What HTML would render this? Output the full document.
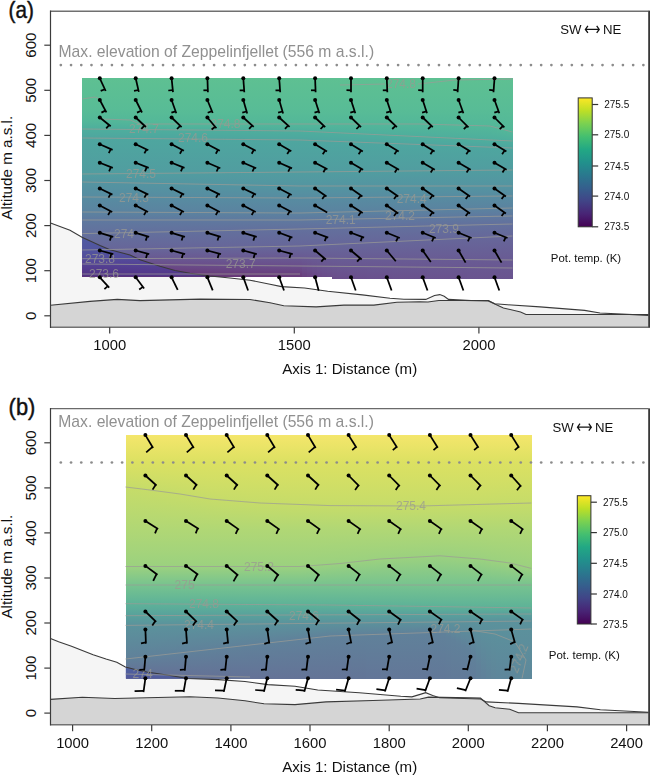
<!DOCTYPE html><html><head><meta charset="utf-8"><style>html,body{margin:0;padding:0;background:#fff;width:650px;height:775px;overflow:hidden;position:relative}</style></head><body><svg width="650" height="775" viewBox="0 0 650 775" style="position:absolute;left:0;top:0">
<defs><linearGradient id="ga" x1="0" y1="77.8" x2="0" y2="279.4" gradientUnits="userSpaceOnUse"><stop offset="0.0000" stop-color="#65b995"/><stop offset="0.1101" stop-color="#5fb497"/><stop offset="0.2490" stop-color="#58a99b"/><stop offset="0.2837" stop-color="#58a19c"/><stop offset="0.4722" stop-color="#599a9c"/><stop offset="0.5863" stop-color="#5d8a9b"/><stop offset="0.7004" stop-color="#627998"/><stop offset="0.7698" stop-color="#657096"/><stop offset="0.8938" stop-color="#695c8c"/><stop offset="0.9335" stop-color="#685184"/><stop offset="0.9633" stop-color="#664579"/><stop offset="1.0000" stop-color="#62386c"/></linearGradient><linearGradient id="gb" x1="0" y1="435.2" x2="0" y2="678.5" gradientUnits="userSpaceOnUse"><stop offset="0.0000" stop-color="#f4e66b"/><stop offset="0.1019" stop-color="#e6e363"/><stop offset="0.2129" stop-color="#d1df64"/><stop offset="0.2869" stop-color="#c6dc69"/><stop offset="0.4307" stop-color="#b0d775"/><stop offset="0.5376" stop-color="#9bd17f"/><stop offset="0.6157" stop-color="#77c38f"/><stop offset="0.6938" stop-color="#5db298"/><stop offset="0.7431" stop-color="#58a19c"/><stop offset="0.7801" stop-color="#5b929c"/><stop offset="0.8623" stop-color="#5e869b"/><stop offset="0.9815" stop-color="#657096"/><stop offset="1.0000" stop-color="#666b94"/></linearGradient><linearGradient id="gcb" x1="0" y1="1" x2="0" y2="0"><stop offset="0.00" stop-color="#440154"/><stop offset="0.10" stop-color="#482475"/><stop offset="0.20" stop-color="#414487"/><stop offset="0.30" stop-color="#355f8d"/><stop offset="0.40" stop-color="#2a788e"/><stop offset="0.50" stop-color="#21918c"/><stop offset="0.60" stop-color="#22a884"/><stop offset="0.70" stop-color="#44bf70"/><stop offset="0.80" stop-color="#7ad151"/><stop offset="0.90" stop-color="#bddf26"/><stop offset="1.00" stop-color="#fde725"/></linearGradient></defs>
<rect x="0" y="0" width="650" height="775" fill="#fff"/>
<polygon points="50.5,327.2 50.5,222.9 70.0,230.2 82.0,237.2 100.0,245.5 110.0,249.8 130.0,255.0 140.0,259.7 160.0,266.2 175.0,270.5 190.0,273.3 210.0,276.0 230.0,278.0 250.0,280.2 270.0,284.3 281.5,286.6 304.6,288.0 327.7,291.2 362.3,294.9 390.0,298.2 403.9,299.3 425.8,299.4 434.5,295.5 439.8,294.6 444.2,296.2 448.5,299.4 471.0,300.5 488.3,300.5 494.8,303.7 507.7,304.8 540.0,306.9 584.6,310.4 600.0,313.0 648.5,315.4 648.5,327.2" fill="#f5f5f5"/><polygon points="50.5,327.2 50.5,305.3 90.0,301.4 117.3,299.4 140.0,300.6 200.0,299.1 250.0,299.5 270.0,302.8 283.8,305.8 316.2,306.9 343.9,305.1 373.9,305.1 396.9,302.3 420.0,301.8 428.0,302.0 438.8,300.5 464.6,300.5 488.3,300.9 494.8,304.1 503.4,308.0 520.6,311.9 526.0,314.5 648.5,314.5 648.5,327.2" fill="#d5d5d5"/>
<polygon points="50.5,724.9 50.5,638.6 58.6,641.8 71.5,646.2 82.3,650.5 93.1,654.8 106.0,659.1 116.8,662.3 125.4,667.0 136.2,669.8 146.9,672.0 168.5,675.2 187.8,678.5 218.0,679.6 245.0,681.5 268.0,684.6 295.0,686.2 317.7,690.0 359.3,692.7 400.8,696.3 411.9,696.9 420.2,694.4 425.7,692.7 432.7,695.5 439.6,697.7 480.5,699.0 486.3,701.9 518.5,703.4 577.0,706.9 600.4,709.8 648.5,712.2 648.5,724.9" fill="#f5f5f5"/><polygon points="50.5,724.9 50.5,699.4 82.3,697.2 114.6,698.5 146.9,697.8 190.0,696.8 218.0,698.0 245.0,700.8 264.0,703.8 295.0,704.6 326.0,701.9 373.0,700.5 420.2,699.0 428.5,697.1 470.0,697.7 480.5,698.1 489.2,705.7 495.1,707.8 509.7,709.2 518.5,712.7 648.5,712.7 648.5,724.9" fill="#d5d5d5"/>
<defs><linearGradient id="fa0" x1="0" y1="77.8" x2="0" y2="276.5" gradientUnits="userSpaceOnUse"><stop offset="0.000" stop-color="#5ec092"/><stop offset="0.001" stop-color="#5ec092"/><stop offset="0.162" stop-color="#58bc96"/><stop offset="0.217" stop-color="#53b799"/><stop offset="0.258" stop-color="#4eae9d"/><stop offset="0.303" stop-color="#4ea69f"/><stop offset="0.484" stop-color="#519da0"/><stop offset="0.530" stop-color="#5494a1"/><stop offset="0.600" stop-color="#578ca1"/><stop offset="0.675" stop-color="#5b83a0"/><stop offset="0.716" stop-color="#5f799f"/><stop offset="0.784" stop-color="#63709d"/><stop offset="0.867" stop-color="#676599"/><stop offset="0.907" stop-color="#695a93"/><stop offset="0.932" stop-color="#6a4e8b"/><stop offset="0.960" stop-color="#694280"/><stop offset="0.998" stop-color="#663472"/><stop offset="1.000" stop-color="#663472"/></linearGradient><linearGradient id="fa1" x1="0" y1="77.8" x2="0" y2="276.5" gradientUnits="userSpaceOnUse"><stop offset="0.000" stop-color="#5ec092"/><stop offset="0.001" stop-color="#5ec092"/><stop offset="0.162" stop-color="#58bc96"/><stop offset="0.217" stop-color="#53b799"/><stop offset="0.258" stop-color="#4eae9d"/><stop offset="0.303" stop-color="#4ea69f"/><stop offset="0.484" stop-color="#519da0"/><stop offset="0.530" stop-color="#5494a1"/><stop offset="0.600" stop-color="#578ca1"/><stop offset="0.676" stop-color="#5b83a0"/><stop offset="0.716" stop-color="#5f799f"/><stop offset="0.783" stop-color="#63709d"/><stop offset="0.866" stop-color="#676599"/><stop offset="0.907" stop-color="#695a93"/><stop offset="0.933" stop-color="#6a4e8b"/><stop offset="0.961" stop-color="#694280"/><stop offset="0.998" stop-color="#663472"/><stop offset="1.000" stop-color="#663472"/></linearGradient><linearGradient id="fa2" x1="0" y1="77.8" x2="0" y2="276.5" gradientUnits="userSpaceOnUse"><stop offset="0.000" stop-color="#5ec092"/><stop offset="0.001" stop-color="#5ec092"/><stop offset="0.162" stop-color="#58bc96"/><stop offset="0.217" stop-color="#53b799"/><stop offset="0.258" stop-color="#4eae9d"/><stop offset="0.304" stop-color="#4ea69f"/><stop offset="0.484" stop-color="#519da0"/><stop offset="0.531" stop-color="#5494a1"/><stop offset="0.600" stop-color="#578ca1"/><stop offset="0.676" stop-color="#5b83a0"/><stop offset="0.716" stop-color="#5f799f"/><stop offset="0.783" stop-color="#63709d"/><stop offset="0.866" stop-color="#676599"/><stop offset="0.907" stop-color="#695a93"/><stop offset="0.933" stop-color="#6a4e8b"/><stop offset="0.961" stop-color="#694280"/><stop offset="0.999" stop-color="#663472"/><stop offset="1.000" stop-color="#663472"/></linearGradient><linearGradient id="fa3" x1="0" y1="77.8" x2="0" y2="276.5" gradientUnits="userSpaceOnUse"><stop offset="0.000" stop-color="#5ec092"/><stop offset="0.001" stop-color="#5ec092"/><stop offset="0.162" stop-color="#58bc96"/><stop offset="0.217" stop-color="#53b799"/><stop offset="0.258" stop-color="#4eae9d"/><stop offset="0.304" stop-color="#4ea69f"/><stop offset="0.483" stop-color="#519da0"/><stop offset="0.531" stop-color="#5494a1"/><stop offset="0.600" stop-color="#578ca1"/><stop offset="0.676" stop-color="#5b83a0"/><stop offset="0.716" stop-color="#5f799f"/><stop offset="0.782" stop-color="#63709d"/><stop offset="0.866" stop-color="#676599"/><stop offset="0.906" stop-color="#695a93"/><stop offset="0.933" stop-color="#6a4e8b"/><stop offset="0.962" stop-color="#694280"/><stop offset="1.000" stop-color="#663472"/><stop offset="1.000" stop-color="#663472"/></linearGradient><linearGradient id="fa4" x1="0" y1="77.8" x2="0" y2="276.5" gradientUnits="userSpaceOnUse"><stop offset="0.000" stop-color="#5ec092"/><stop offset="0.001" stop-color="#5ec092"/><stop offset="0.162" stop-color="#58bc96"/><stop offset="0.217" stop-color="#53b799"/><stop offset="0.259" stop-color="#4eae9d"/><stop offset="0.304" stop-color="#4ea69f"/><stop offset="0.483" stop-color="#519da0"/><stop offset="0.532" stop-color="#5494a1"/><stop offset="0.600" stop-color="#578ca1"/><stop offset="0.676" stop-color="#5b83a0"/><stop offset="0.716" stop-color="#5f799f"/><stop offset="0.782" stop-color="#63709d"/><stop offset="0.866" stop-color="#676599"/><stop offset="0.906" stop-color="#695a93"/><stop offset="0.934" stop-color="#6a4e8b"/><stop offset="0.962" stop-color="#694280"/><stop offset="1.000" stop-color="#663472"/></linearGradient><linearGradient id="fa5" x1="0" y1="77.8" x2="0" y2="276.5" gradientUnits="userSpaceOnUse"><stop offset="0.000" stop-color="#5ec092"/><stop offset="0.001" stop-color="#5ec092"/><stop offset="0.162" stop-color="#58bc96"/><stop offset="0.217" stop-color="#53b799"/><stop offset="0.259" stop-color="#4eae9d"/><stop offset="0.304" stop-color="#4ea69f"/><stop offset="0.483" stop-color="#519da0"/><stop offset="0.533" stop-color="#5494a1"/><stop offset="0.601" stop-color="#578ca1"/><stop offset="0.676" stop-color="#5b83a0"/><stop offset="0.716" stop-color="#5f799f"/><stop offset="0.781" stop-color="#63709d"/><stop offset="0.865" stop-color="#676599"/><stop offset="0.906" stop-color="#695a93"/><stop offset="0.934" stop-color="#6a4e8b"/><stop offset="0.963" stop-color="#694280"/><stop offset="1.000" stop-color="#663472"/></linearGradient><linearGradient id="fa6" x1="0" y1="77.8" x2="0" y2="276.5" gradientUnits="userSpaceOnUse"><stop offset="0.000" stop-color="#5ec092"/><stop offset="0.001" stop-color="#5ec092"/><stop offset="0.162" stop-color="#58bc96"/><stop offset="0.217" stop-color="#53b799"/><stop offset="0.259" stop-color="#4eae9d"/><stop offset="0.304" stop-color="#4ea69f"/><stop offset="0.483" stop-color="#519da0"/><stop offset="0.533" stop-color="#5494a1"/><stop offset="0.601" stop-color="#578ca1"/><stop offset="0.676" stop-color="#5b83a0"/><stop offset="0.716" stop-color="#5f799f"/><stop offset="0.781" stop-color="#63709d"/><stop offset="0.865" stop-color="#676599"/><stop offset="0.906" stop-color="#695a93"/><stop offset="0.934" stop-color="#6a4e8b"/><stop offset="0.963" stop-color="#694280"/><stop offset="1.000" stop-color="#663472"/></linearGradient><linearGradient id="fa7" x1="0" y1="77.8" x2="0" y2="276.5" gradientUnits="userSpaceOnUse"><stop offset="0.000" stop-color="#5ec092"/><stop offset="0.001" stop-color="#5ec092"/><stop offset="0.162" stop-color="#58bc96"/><stop offset="0.217" stop-color="#53b799"/><stop offset="0.259" stop-color="#4eae9d"/><stop offset="0.305" stop-color="#4ea69f"/><stop offset="0.482" stop-color="#519da0"/><stop offset="0.534" stop-color="#5494a1"/><stop offset="0.601" stop-color="#578ca1"/><stop offset="0.676" stop-color="#5b83a0"/><stop offset="0.716" stop-color="#5f799f"/><stop offset="0.780" stop-color="#63709d"/><stop offset="0.865" stop-color="#676599"/><stop offset="0.906" stop-color="#695a93"/><stop offset="0.935" stop-color="#6a4e8b"/><stop offset="0.964" stop-color="#694280"/><stop offset="1.000" stop-color="#663472"/></linearGradient><linearGradient id="fa8" x1="0" y1="77.8" x2="0" y2="276.5" gradientUnits="userSpaceOnUse"><stop offset="0.000" stop-color="#5ec092"/><stop offset="0.001" stop-color="#5ec092"/><stop offset="0.162" stop-color="#58bc96"/><stop offset="0.217" stop-color="#53b799"/><stop offset="0.260" stop-color="#4eae9d"/><stop offset="0.305" stop-color="#4ea69f"/><stop offset="0.482" stop-color="#519da0"/><stop offset="0.534" stop-color="#5494a1"/><stop offset="0.601" stop-color="#578ca1"/><stop offset="0.676" stop-color="#5b83a0"/><stop offset="0.716" stop-color="#5f799f"/><stop offset="0.780" stop-color="#63709d"/><stop offset="0.865" stop-color="#676599"/><stop offset="0.906" stop-color="#695a93"/><stop offset="0.935" stop-color="#6a4e8b"/><stop offset="0.964" stop-color="#694280"/><stop offset="1.000" stop-color="#663472"/></linearGradient><linearGradient id="fa9" x1="0" y1="77.8" x2="0" y2="276.5" gradientUnits="userSpaceOnUse"><stop offset="0.000" stop-color="#5ec092"/><stop offset="0.001" stop-color="#5ec092"/><stop offset="0.162" stop-color="#58bc96"/><stop offset="0.217" stop-color="#53b799"/><stop offset="0.260" stop-color="#4eae9d"/><stop offset="0.305" stop-color="#4ea69f"/><stop offset="0.482" stop-color="#519da0"/><stop offset="0.535" stop-color="#5494a1"/><stop offset="0.601" stop-color="#578ca1"/><stop offset="0.676" stop-color="#5b83a0"/><stop offset="0.716" stop-color="#5f799f"/><stop offset="0.779" stop-color="#63709d"/><stop offset="0.864" stop-color="#676599"/><stop offset="0.906" stop-color="#695a93"/><stop offset="0.935" stop-color="#6a4e8b"/><stop offset="0.965" stop-color="#694280"/><stop offset="1.000" stop-color="#663472"/></linearGradient><linearGradient id="fa10" x1="0" y1="77.8" x2="0" y2="276.5" gradientUnits="userSpaceOnUse"><stop offset="0.000" stop-color="#5ec092"/><stop offset="0.001" stop-color="#5ec092"/><stop offset="0.162" stop-color="#58bc96"/><stop offset="0.225" stop-color="#53b799"/><stop offset="0.260" stop-color="#4eae9d"/><stop offset="0.305" stop-color="#4ea69f"/><stop offset="0.482" stop-color="#519da0"/><stop offset="0.536" stop-color="#5494a1"/><stop offset="0.601" stop-color="#578ca1"/><stop offset="0.677" stop-color="#5b83a0"/><stop offset="0.716" stop-color="#5f799f"/><stop offset="0.778" stop-color="#63709d"/><stop offset="0.864" stop-color="#676599"/><stop offset="0.906" stop-color="#695a93"/><stop offset="0.936" stop-color="#6a4e8b"/><stop offset="0.965" stop-color="#694280"/><stop offset="1.000" stop-color="#673574"/></linearGradient><linearGradient id="fa11" x1="0" y1="77.8" x2="0" y2="276.5" gradientUnits="userSpaceOnUse"><stop offset="0.000" stop-color="#5ec092"/><stop offset="0.001" stop-color="#5ec092"/><stop offset="0.162" stop-color="#58bc96"/><stop offset="0.232" stop-color="#53b799"/><stop offset="0.260" stop-color="#4eae9d"/><stop offset="0.306" stop-color="#4ea69f"/><stop offset="0.481" stop-color="#519da0"/><stop offset="0.536" stop-color="#5494a1"/><stop offset="0.601" stop-color="#578ca1"/><stop offset="0.677" stop-color="#5b83a0"/><stop offset="0.716" stop-color="#5f799f"/><stop offset="0.778" stop-color="#63709d"/><stop offset="0.864" stop-color="#676599"/><stop offset="0.906" stop-color="#695a93"/><stop offset="0.936" stop-color="#6a4e8b"/><stop offset="0.966" stop-color="#694280"/><stop offset="1.000" stop-color="#673574"/></linearGradient><linearGradient id="fa12" x1="0" y1="77.8" x2="0" y2="276.5" gradientUnits="userSpaceOnUse"><stop offset="0.000" stop-color="#5ec092"/><stop offset="0.001" stop-color="#5ec092"/><stop offset="0.162" stop-color="#58bc96"/><stop offset="0.233" stop-color="#53b799"/><stop offset="0.261" stop-color="#4eae9d"/><stop offset="0.306" stop-color="#4ea69f"/><stop offset="0.481" stop-color="#519da0"/><stop offset="0.537" stop-color="#5494a1"/><stop offset="0.601" stop-color="#578ca1"/><stop offset="0.677" stop-color="#5b83a0"/><stop offset="0.716" stop-color="#5f799f"/><stop offset="0.777" stop-color="#63709d"/><stop offset="0.864" stop-color="#676599"/><stop offset="0.905" stop-color="#695a93"/><stop offset="0.936" stop-color="#6a4e8b"/><stop offset="0.966" stop-color="#694280"/><stop offset="1.000" stop-color="#673574"/></linearGradient><linearGradient id="fa13" x1="0" y1="77.8" x2="0" y2="276.5" gradientUnits="userSpaceOnUse"><stop offset="0.000" stop-color="#5ec092"/><stop offset="0.001" stop-color="#5ec092"/><stop offset="0.162" stop-color="#58bc96"/><stop offset="0.233" stop-color="#53b799"/><stop offset="0.261" stop-color="#4eae9d"/><stop offset="0.306" stop-color="#4ea69f"/><stop offset="0.481" stop-color="#519da0"/><stop offset="0.537" stop-color="#5494a1"/><stop offset="0.601" stop-color="#578ca1"/><stop offset="0.677" stop-color="#5b83a0"/><stop offset="0.716" stop-color="#5f799f"/><stop offset="0.777" stop-color="#63709d"/><stop offset="0.864" stop-color="#676599"/><stop offset="0.905" stop-color="#695a93"/><stop offset="0.937" stop-color="#6a4e8b"/><stop offset="0.967" stop-color="#694280"/><stop offset="1.000" stop-color="#673574"/></linearGradient><linearGradient id="fa14" x1="0" y1="77.8" x2="0" y2="276.5" gradientUnits="userSpaceOnUse"><stop offset="0.000" stop-color="#5ec092"/><stop offset="0.001" stop-color="#5ec092"/><stop offset="0.162" stop-color="#58bc96"/><stop offset="0.233" stop-color="#53b799"/><stop offset="0.261" stop-color="#4eae9d"/><stop offset="0.306" stop-color="#4ea69f"/><stop offset="0.481" stop-color="#519da0"/><stop offset="0.538" stop-color="#5494a1"/><stop offset="0.602" stop-color="#578ca1"/><stop offset="0.677" stop-color="#5b83a0"/><stop offset="0.716" stop-color="#5f799f"/><stop offset="0.776" stop-color="#63709d"/><stop offset="0.863" stop-color="#676599"/><stop offset="0.905" stop-color="#695a93"/><stop offset="0.937" stop-color="#6a4e8b"/><stop offset="0.967" stop-color="#694280"/><stop offset="1.000" stop-color="#673574"/></linearGradient><linearGradient id="fa15" x1="0" y1="77.8" x2="0" y2="276.5" gradientUnits="userSpaceOnUse"><stop offset="0.000" stop-color="#5ec092"/><stop offset="0.001" stop-color="#5ec092"/><stop offset="0.162" stop-color="#58bc96"/><stop offset="0.233" stop-color="#53b799"/><stop offset="0.261" stop-color="#4eae9d"/><stop offset="0.307" stop-color="#4ea69f"/><stop offset="0.481" stop-color="#519da0"/><stop offset="0.538" stop-color="#5494a1"/><stop offset="0.602" stop-color="#578ca1"/><stop offset="0.677" stop-color="#5b83a0"/><stop offset="0.716" stop-color="#5f799f"/><stop offset="0.776" stop-color="#63709d"/><stop offset="0.863" stop-color="#676599"/><stop offset="0.905" stop-color="#695a93"/><stop offset="0.937" stop-color="#6a4e8b"/><stop offset="0.968" stop-color="#694280"/><stop offset="1.000" stop-color="#673675"/></linearGradient><linearGradient id="fa16" x1="0" y1="77.8" x2="0" y2="276.5" gradientUnits="userSpaceOnUse"><stop offset="0.000" stop-color="#5ec092"/><stop offset="0.001" stop-color="#5ec092"/><stop offset="0.162" stop-color="#58bc96"/><stop offset="0.233" stop-color="#53b799"/><stop offset="0.261" stop-color="#4eae9d"/><stop offset="0.307" stop-color="#4ea69f"/><stop offset="0.480" stop-color="#519da0"/><stop offset="0.539" stop-color="#5494a1"/><stop offset="0.602" stop-color="#578ca1"/><stop offset="0.677" stop-color="#5b83a0"/><stop offset="0.716" stop-color="#5f799f"/><stop offset="0.775" stop-color="#63709d"/><stop offset="0.863" stop-color="#676599"/><stop offset="0.905" stop-color="#695a93"/><stop offset="0.938" stop-color="#6a4e8b"/><stop offset="0.968" stop-color="#694280"/><stop offset="1.000" stop-color="#673675"/></linearGradient><linearGradient id="fa17" x1="0" y1="77.8" x2="0" y2="276.5" gradientUnits="userSpaceOnUse"><stop offset="0.000" stop-color="#5ec092"/><stop offset="0.001" stop-color="#5ec092"/><stop offset="0.162" stop-color="#58bc96"/><stop offset="0.233" stop-color="#53b799"/><stop offset="0.262" stop-color="#4eae9d"/><stop offset="0.307" stop-color="#4ea69f"/><stop offset="0.480" stop-color="#519da0"/><stop offset="0.540" stop-color="#5494a1"/><stop offset="0.602" stop-color="#578ca1"/><stop offset="0.677" stop-color="#5b83a0"/><stop offset="0.716" stop-color="#5f799f"/><stop offset="0.775" stop-color="#63709d"/><stop offset="0.863" stop-color="#676599"/><stop offset="0.905" stop-color="#695a93"/><stop offset="0.938" stop-color="#6a4e8b"/><stop offset="0.969" stop-color="#694280"/><stop offset="1.000" stop-color="#673675"/></linearGradient><linearGradient id="fa18" x1="0" y1="77.8" x2="0" y2="276.5" gradientUnits="userSpaceOnUse"><stop offset="0.000" stop-color="#5ec092"/><stop offset="0.001" stop-color="#5ec092"/><stop offset="0.162" stop-color="#58bc96"/><stop offset="0.233" stop-color="#53b799"/><stop offset="0.262" stop-color="#4eae9d"/><stop offset="0.307" stop-color="#4ea69f"/><stop offset="0.480" stop-color="#519da0"/><stop offset="0.540" stop-color="#5494a1"/><stop offset="0.602" stop-color="#578ca1"/><stop offset="0.678" stop-color="#5b83a0"/><stop offset="0.716" stop-color="#5f799f"/><stop offset="0.774" stop-color="#63709d"/><stop offset="0.862" stop-color="#676599"/><stop offset="0.905" stop-color="#695a93"/><stop offset="0.938" stop-color="#6a4e8b"/><stop offset="0.969" stop-color="#694280"/><stop offset="1.000" stop-color="#673675"/></linearGradient><linearGradient id="fa19" x1="0" y1="77.8" x2="0" y2="276.5" gradientUnits="userSpaceOnUse"><stop offset="0.000" stop-color="#5ec092"/><stop offset="0.001" stop-color="#5ec092"/><stop offset="0.162" stop-color="#58bc96"/><stop offset="0.233" stop-color="#53b799"/><stop offset="0.262" stop-color="#4eae9d"/><stop offset="0.307" stop-color="#4ea69f"/><stop offset="0.480" stop-color="#519da0"/><stop offset="0.541" stop-color="#5494a1"/><stop offset="0.602" stop-color="#578ca1"/><stop offset="0.678" stop-color="#5b83a0"/><stop offset="0.716" stop-color="#5f799f"/><stop offset="0.774" stop-color="#63709d"/><stop offset="0.862" stop-color="#676599"/><stop offset="0.905" stop-color="#695a93"/><stop offset="0.939" stop-color="#6a4e8b"/><stop offset="0.970" stop-color="#694280"/><stop offset="1.000" stop-color="#673675"/></linearGradient><linearGradient id="fa20" x1="0" y1="77.8" x2="0" y2="276.5" gradientUnits="userSpaceOnUse"><stop offset="0.000" stop-color="#5ec092"/><stop offset="0.001" stop-color="#5ec092"/><stop offset="0.162" stop-color="#58bc96"/><stop offset="0.233" stop-color="#53b799"/><stop offset="0.262" stop-color="#4eae9d"/><stop offset="0.308" stop-color="#4ea69f"/><stop offset="0.479" stop-color="#519da0"/><stop offset="0.541" stop-color="#5494a1"/><stop offset="0.602" stop-color="#578ca1"/><stop offset="0.678" stop-color="#5b83a0"/><stop offset="0.716" stop-color="#5f799f"/><stop offset="0.773" stop-color="#63709d"/><stop offset="0.862" stop-color="#676599"/><stop offset="0.905" stop-color="#695a93"/><stop offset="0.939" stop-color="#6a4e8b"/><stop offset="0.970" stop-color="#694280"/><stop offset="1.000" stop-color="#673675"/></linearGradient><linearGradient id="fa21" x1="0" y1="77.8" x2="0" y2="276.5" gradientUnits="userSpaceOnUse"><stop offset="0.000" stop-color="#5ec092"/><stop offset="0.001" stop-color="#5ec092"/><stop offset="0.162" stop-color="#58bc96"/><stop offset="0.233" stop-color="#53b799"/><stop offset="0.263" stop-color="#4eae9d"/><stop offset="0.308" stop-color="#4ea69f"/><stop offset="0.479" stop-color="#519da0"/><stop offset="0.542" stop-color="#5494a1"/><stop offset="0.602" stop-color="#578ca1"/><stop offset="0.678" stop-color="#5b83a0"/><stop offset="0.716" stop-color="#5f799f"/><stop offset="0.773" stop-color="#63709d"/><stop offset="0.862" stop-color="#676599"/><stop offset="0.904" stop-color="#695a93"/><stop offset="0.940" stop-color="#6a4e8b"/><stop offset="0.971" stop-color="#694280"/><stop offset="1.000" stop-color="#673776"/></linearGradient><linearGradient id="fa22" x1="0" y1="77.8" x2="0" y2="276.5" gradientUnits="userSpaceOnUse"><stop offset="0.000" stop-color="#5ec092"/><stop offset="0.001" stop-color="#5ec092"/><stop offset="0.162" stop-color="#58bc96"/><stop offset="0.233" stop-color="#53b799"/><stop offset="0.263" stop-color="#4eae9d"/><stop offset="0.308" stop-color="#4ea69f"/><stop offset="0.479" stop-color="#519da0"/><stop offset="0.542" stop-color="#5494a1"/><stop offset="0.603" stop-color="#578ca1"/><stop offset="0.678" stop-color="#5b83a0"/><stop offset="0.716" stop-color="#5f799f"/><stop offset="0.772" stop-color="#63709d"/><stop offset="0.861" stop-color="#676599"/><stop offset="0.904" stop-color="#695a93"/><stop offset="0.940" stop-color="#6a4e8b"/><stop offset="0.971" stop-color="#694280"/><stop offset="1.000" stop-color="#673776"/></linearGradient><linearGradient id="fa23" x1="0" y1="77.8" x2="0" y2="276.5" gradientUnits="userSpaceOnUse"><stop offset="0.000" stop-color="#5ec092"/><stop offset="0.001" stop-color="#5ec092"/><stop offset="0.162" stop-color="#58bc96"/><stop offset="0.233" stop-color="#53b799"/><stop offset="0.263" stop-color="#4eae9d"/><stop offset="0.308" stop-color="#4ea69f"/><stop offset="0.479" stop-color="#519da0"/><stop offset="0.543" stop-color="#5494a1"/><stop offset="0.603" stop-color="#578ca1"/><stop offset="0.678" stop-color="#5b83a0"/><stop offset="0.716" stop-color="#5f799f"/><stop offset="0.772" stop-color="#63709d"/><stop offset="0.861" stop-color="#676599"/><stop offset="0.904" stop-color="#695a93"/><stop offset="0.940" stop-color="#6a4e8b"/><stop offset="0.972" stop-color="#694280"/><stop offset="1.000" stop-color="#673776"/></linearGradient><linearGradient id="fa24" x1="0" y1="77.8" x2="0" y2="276.5" gradientUnits="userSpaceOnUse"><stop offset="0.000" stop-color="#5ec092"/><stop offset="0.001" stop-color="#5ec092"/><stop offset="0.162" stop-color="#58bc96"/><stop offset="0.233" stop-color="#53b799"/><stop offset="0.263" stop-color="#4eae9d"/><stop offset="0.309" stop-color="#4ea69f"/><stop offset="0.478" stop-color="#519da0"/><stop offset="0.544" stop-color="#5494a1"/><stop offset="0.603" stop-color="#578ca1"/><stop offset="0.678" stop-color="#5b83a0"/><stop offset="0.716" stop-color="#5f799f"/><stop offset="0.771" stop-color="#63709d"/><stop offset="0.861" stop-color="#676599"/><stop offset="0.904" stop-color="#695a93"/><stop offset="0.941" stop-color="#6a4e8b"/><stop offset="0.972" stop-color="#694280"/><stop offset="1.000" stop-color="#673776"/></linearGradient><linearGradient id="fa25" x1="0" y1="77.8" x2="0" y2="276.5" gradientUnits="userSpaceOnUse"><stop offset="0.000" stop-color="#5ec092"/><stop offset="0.001" stop-color="#5ec092"/><stop offset="0.162" stop-color="#58bc96"/><stop offset="0.233" stop-color="#53b799"/><stop offset="0.264" stop-color="#4eae9d"/><stop offset="0.309" stop-color="#4ea69f"/><stop offset="0.478" stop-color="#519da0"/><stop offset="0.544" stop-color="#5494a1"/><stop offset="0.603" stop-color="#578ca1"/><stop offset="0.678" stop-color="#5b83a0"/><stop offset="0.716" stop-color="#5f799f"/><stop offset="0.771" stop-color="#63709d"/><stop offset="0.861" stop-color="#676599"/><stop offset="0.904" stop-color="#695a93"/><stop offset="0.941" stop-color="#6a4e8b"/><stop offset="0.973" stop-color="#694280"/><stop offset="1.000" stop-color="#673776"/></linearGradient><linearGradient id="fa26" x1="0" y1="77.8" x2="0" y2="276.5" gradientUnits="userSpaceOnUse"><stop offset="0.000" stop-color="#5ec092"/><stop offset="0.001" stop-color="#5ec092"/><stop offset="0.162" stop-color="#58bc96"/><stop offset="0.233" stop-color="#53b799"/><stop offset="0.264" stop-color="#4eae9d"/><stop offset="0.309" stop-color="#4ea69f"/><stop offset="0.478" stop-color="#519da0"/><stop offset="0.545" stop-color="#5494a1"/><stop offset="0.603" stop-color="#578ca1"/><stop offset="0.678" stop-color="#5b83a0"/><stop offset="0.716" stop-color="#5f799f"/><stop offset="0.770" stop-color="#63709d"/><stop offset="0.861" stop-color="#676599"/><stop offset="0.904" stop-color="#695a93"/><stop offset="0.941" stop-color="#6a4e8b"/><stop offset="0.974" stop-color="#694280"/><stop offset="1.000" stop-color="#673776"/></linearGradient><linearGradient id="fa27" x1="0" y1="77.8" x2="0" y2="276.5" gradientUnits="userSpaceOnUse"><stop offset="0.000" stop-color="#5ec092"/><stop offset="0.001" stop-color="#5ec092"/><stop offset="0.162" stop-color="#58bc96"/><stop offset="0.233" stop-color="#53b799"/><stop offset="0.264" stop-color="#4eae9d"/><stop offset="0.309" stop-color="#4ea69f"/><stop offset="0.478" stop-color="#519da0"/><stop offset="0.545" stop-color="#5494a1"/><stop offset="0.603" stop-color="#578ca1"/><stop offset="0.679" stop-color="#5b83a0"/><stop offset="0.716" stop-color="#5f799f"/><stop offset="0.769" stop-color="#63709d"/><stop offset="0.860" stop-color="#676599"/><stop offset="0.904" stop-color="#695a93"/><stop offset="0.942" stop-color="#6a4e8b"/><stop offset="0.974" stop-color="#694280"/><stop offset="1.000" stop-color="#683877"/></linearGradient><linearGradient id="fa28" x1="0" y1="77.8" x2="0" y2="276.5" gradientUnits="userSpaceOnUse"><stop offset="0.000" stop-color="#5ec092"/><stop offset="0.001" stop-color="#5ec092"/><stop offset="0.162" stop-color="#58bc96"/><stop offset="0.233" stop-color="#53b799"/><stop offset="0.264" stop-color="#4eae9d"/><stop offset="0.310" stop-color="#4ea69f"/><stop offset="0.478" stop-color="#519da0"/><stop offset="0.546" stop-color="#5494a1"/><stop offset="0.603" stop-color="#578ca1"/><stop offset="0.679" stop-color="#5b83a0"/><stop offset="0.716" stop-color="#5f799f"/><stop offset="0.769" stop-color="#63709d"/><stop offset="0.860" stop-color="#676599"/><stop offset="0.904" stop-color="#695a93"/><stop offset="0.942" stop-color="#6a4e8b"/><stop offset="0.975" stop-color="#694280"/><stop offset="1.000" stop-color="#683877"/></linearGradient><linearGradient id="fa29" x1="0" y1="77.8" x2="0" y2="276.5" gradientUnits="userSpaceOnUse"><stop offset="0.000" stop-color="#5ec092"/><stop offset="0.001" stop-color="#5ec092"/><stop offset="0.162" stop-color="#58bc96"/><stop offset="0.233" stop-color="#53b799"/><stop offset="0.264" stop-color="#4eae9d"/><stop offset="0.310" stop-color="#4ea69f"/><stop offset="0.477" stop-color="#519da0"/><stop offset="0.547" stop-color="#5494a1"/><stop offset="0.603" stop-color="#578ca1"/><stop offset="0.679" stop-color="#5b83a0"/><stop offset="0.716" stop-color="#5f799f"/><stop offset="0.768" stop-color="#63709d"/><stop offset="0.860" stop-color="#676599"/><stop offset="0.903" stop-color="#695a93"/><stop offset="0.942" stop-color="#6a4e8b"/><stop offset="0.975" stop-color="#694280"/><stop offset="1.000" stop-color="#683877"/></linearGradient><linearGradient id="fa30" x1="0" y1="77.8" x2="0" y2="276.5" gradientUnits="userSpaceOnUse"><stop offset="0.000" stop-color="#5ec092"/><stop offset="0.001" stop-color="#5ec092"/><stop offset="0.162" stop-color="#58bc96"/><stop offset="0.233" stop-color="#53b799"/><stop offset="0.265" stop-color="#4eae9d"/><stop offset="0.310" stop-color="#4ea69f"/><stop offset="0.477" stop-color="#519da0"/><stop offset="0.547" stop-color="#5494a1"/><stop offset="0.603" stop-color="#578ca1"/><stop offset="0.679" stop-color="#5b83a0"/><stop offset="0.716" stop-color="#5f799f"/><stop offset="0.768" stop-color="#63709d"/><stop offset="0.860" stop-color="#676599"/><stop offset="0.903" stop-color="#695a93"/><stop offset="0.943" stop-color="#6a4e8b"/><stop offset="0.976" stop-color="#694280"/><stop offset="1.000" stop-color="#683877"/></linearGradient><linearGradient id="fa31" x1="0" y1="77.8" x2="0" y2="276.5" gradientUnits="userSpaceOnUse"><stop offset="0.000" stop-color="#5ec092"/><stop offset="0.001" stop-color="#5ec092"/><stop offset="0.162" stop-color="#58bc96"/><stop offset="0.233" stop-color="#53b799"/><stop offset="0.265" stop-color="#4eae9d"/><stop offset="0.310" stop-color="#4ea69f"/><stop offset="0.477" stop-color="#519da0"/><stop offset="0.548" stop-color="#5494a1"/><stop offset="0.604" stop-color="#578ca1"/><stop offset="0.679" stop-color="#5b83a0"/><stop offset="0.716" stop-color="#5f799f"/><stop offset="0.767" stop-color="#63709d"/><stop offset="0.859" stop-color="#676599"/><stop offset="0.903" stop-color="#695a93"/><stop offset="0.943" stop-color="#6a4e8b"/><stop offset="0.976" stop-color="#694280"/><stop offset="1.000" stop-color="#683877"/></linearGradient><linearGradient id="fa32" x1="0" y1="77.8" x2="0" y2="276.5" gradientUnits="userSpaceOnUse"><stop offset="0.000" stop-color="#5ec092"/><stop offset="0.001" stop-color="#5ec092"/><stop offset="0.162" stop-color="#58bc96"/><stop offset="0.233" stop-color="#53b799"/><stop offset="0.265" stop-color="#4eae9d"/><stop offset="0.310" stop-color="#4ea69f"/><stop offset="0.477" stop-color="#519da0"/><stop offset="0.548" stop-color="#5494a1"/><stop offset="0.604" stop-color="#578ca1"/><stop offset="0.679" stop-color="#5b83a0"/><stop offset="0.716" stop-color="#5f799f"/><stop offset="0.767" stop-color="#63709d"/><stop offset="0.859" stop-color="#676599"/><stop offset="0.903" stop-color="#695a93"/><stop offset="0.943" stop-color="#6a4e8b"/><stop offset="0.977" stop-color="#694280"/><stop offset="1.000" stop-color="#683877"/></linearGradient><linearGradient id="fa33" x1="0" y1="77.8" x2="0" y2="276.5" gradientUnits="userSpaceOnUse"><stop offset="0.000" stop-color="#5ec092"/><stop offset="0.001" stop-color="#5ec092"/><stop offset="0.162" stop-color="#58bc96"/><stop offset="0.233" stop-color="#53b799"/><stop offset="0.265" stop-color="#4eae9d"/><stop offset="0.311" stop-color="#4ea69f"/><stop offset="0.476" stop-color="#519da0"/><stop offset="0.549" stop-color="#5494a1"/><stop offset="0.604" stop-color="#578ca1"/><stop offset="0.679" stop-color="#5b83a0"/><stop offset="0.716" stop-color="#5f799f"/><stop offset="0.766" stop-color="#63709d"/><stop offset="0.859" stop-color="#676599"/><stop offset="0.903" stop-color="#695a93"/><stop offset="0.944" stop-color="#6a4e8b"/><stop offset="0.977" stop-color="#694280"/><stop offset="1.000" stop-color="#683a78"/></linearGradient><linearGradient id="fa34" x1="0" y1="77.8" x2="0" y2="276.5" gradientUnits="userSpaceOnUse"><stop offset="0.000" stop-color="#5ec092"/><stop offset="0.001" stop-color="#5ec092"/><stop offset="0.162" stop-color="#58bc96"/><stop offset="0.233" stop-color="#53b799"/><stop offset="0.266" stop-color="#4eae9d"/><stop offset="0.311" stop-color="#4ea69f"/><stop offset="0.476" stop-color="#519da0"/><stop offset="0.549" stop-color="#5494a1"/><stop offset="0.604" stop-color="#578ca1"/><stop offset="0.679" stop-color="#5b83a0"/><stop offset="0.716" stop-color="#5f799f"/><stop offset="0.766" stop-color="#63709d"/><stop offset="0.859" stop-color="#676599"/><stop offset="0.903" stop-color="#695a93"/><stop offset="0.944" stop-color="#6a4e8b"/><stop offset="0.978" stop-color="#694280"/><stop offset="1.000" stop-color="#683a78"/></linearGradient><linearGradient id="fa35" x1="0" y1="77.8" x2="0" y2="276.5" gradientUnits="userSpaceOnUse"><stop offset="0.000" stop-color="#5ec092"/><stop offset="0.001" stop-color="#5ec092"/><stop offset="0.162" stop-color="#58bc96"/><stop offset="0.233" stop-color="#53b799"/><stop offset="0.266" stop-color="#4eae9d"/><stop offset="0.311" stop-color="#4ea69f"/><stop offset="0.476" stop-color="#519da0"/><stop offset="0.550" stop-color="#5494a1"/><stop offset="0.604" stop-color="#578ca1"/><stop offset="0.679" stop-color="#5b83a0"/><stop offset="0.716" stop-color="#5f799f"/><stop offset="0.765" stop-color="#63709d"/><stop offset="0.858" stop-color="#676599"/><stop offset="0.903" stop-color="#695a93"/><stop offset="0.944" stop-color="#6a4e8b"/><stop offset="0.978" stop-color="#694280"/><stop offset="1.000" stop-color="#683a78"/></linearGradient><linearGradient id="fa36" x1="0" y1="77.8" x2="0" y2="276.5" gradientUnits="userSpaceOnUse"><stop offset="0.000" stop-color="#5ec092"/><stop offset="0.001" stop-color="#5ec092"/><stop offset="0.162" stop-color="#58bc96"/><stop offset="0.233" stop-color="#53b799"/><stop offset="0.266" stop-color="#4eae9d"/><stop offset="0.311" stop-color="#4ea69f"/><stop offset="0.476" stop-color="#519da0"/><stop offset="0.551" stop-color="#5494a1"/><stop offset="0.604" stop-color="#578ca1"/><stop offset="0.680" stop-color="#5b83a0"/><stop offset="0.716" stop-color="#5f799f"/><stop offset="0.765" stop-color="#63709d"/><stop offset="0.858" stop-color="#676599"/><stop offset="0.903" stop-color="#695a93"/><stop offset="0.945" stop-color="#6a4e8b"/><stop offset="0.979" stop-color="#694280"/><stop offset="1.000" stop-color="#683a78"/></linearGradient><linearGradient id="fa37" x1="0" y1="77.8" x2="0" y2="276.5" gradientUnits="userSpaceOnUse"><stop offset="0.000" stop-color="#5ec092"/><stop offset="0.001" stop-color="#5ec092"/><stop offset="0.162" stop-color="#58bc96"/><stop offset="0.233" stop-color="#53b799"/><stop offset="0.266" stop-color="#4eae9d"/><stop offset="0.312" stop-color="#4ea69f"/><stop offset="0.475" stop-color="#519da0"/><stop offset="0.551" stop-color="#5494a1"/><stop offset="0.604" stop-color="#578ca1"/><stop offset="0.680" stop-color="#5b83a0"/><stop offset="0.716" stop-color="#5f799f"/><stop offset="0.764" stop-color="#63709d"/><stop offset="0.858" stop-color="#676599"/><stop offset="0.903" stop-color="#695a93"/><stop offset="0.945" stop-color="#6a4e8b"/><stop offset="0.979" stop-color="#694280"/><stop offset="1.000" stop-color="#683a78"/></linearGradient><linearGradient id="fa38" x1="0" y1="77.8" x2="0" y2="276.5" gradientUnits="userSpaceOnUse"><stop offset="0.000" stop-color="#5ec092"/><stop offset="0.001" stop-color="#5ec092"/><stop offset="0.162" stop-color="#58bc96"/><stop offset="0.233" stop-color="#53b799"/><stop offset="0.267" stop-color="#4eae9d"/><stop offset="0.312" stop-color="#4ea69f"/><stop offset="0.475" stop-color="#519da0"/><stop offset="0.552" stop-color="#5494a1"/><stop offset="0.604" stop-color="#578ca1"/><stop offset="0.680" stop-color="#5b83a0"/><stop offset="0.716" stop-color="#5f799f"/><stop offset="0.764" stop-color="#63709d"/><stop offset="0.858" stop-color="#676599"/><stop offset="0.902" stop-color="#695a93"/><stop offset="0.945" stop-color="#6a4e8b"/><stop offset="0.980" stop-color="#694280"/><stop offset="1.000" stop-color="#683a78"/></linearGradient><linearGradient id="fa39" x1="0" y1="77.8" x2="0" y2="276.5" gradientUnits="userSpaceOnUse"><stop offset="0.000" stop-color="#5ec092"/><stop offset="0.001" stop-color="#5ec092"/><stop offset="0.162" stop-color="#58bc96"/><stop offset="0.233" stop-color="#53b799"/><stop offset="0.267" stop-color="#4eae9d"/><stop offset="0.312" stop-color="#4ea69f"/><stop offset="0.475" stop-color="#519da0"/><stop offset="0.552" stop-color="#5494a1"/><stop offset="0.604" stop-color="#578ca1"/><stop offset="0.680" stop-color="#5b83a0"/><stop offset="0.716" stop-color="#5f799f"/><stop offset="0.763" stop-color="#63709d"/><stop offset="0.858" stop-color="#676599"/><stop offset="0.902" stop-color="#695a93"/><stop offset="0.946" stop-color="#6a4e8b"/><stop offset="0.980" stop-color="#694280"/><stop offset="1.000" stop-color="#683b79"/></linearGradient><linearGradient id="fa40" x1="0" y1="77.8" x2="0" y2="276.5" gradientUnits="userSpaceOnUse"><stop offset="0.000" stop-color="#5ec092"/><stop offset="0.001" stop-color="#5ec092"/><stop offset="0.162" stop-color="#58bc96"/><stop offset="0.233" stop-color="#53b799"/><stop offset="0.267" stop-color="#4eae9d"/><stop offset="0.312" stop-color="#4ea69f"/><stop offset="0.475" stop-color="#519da0"/><stop offset="0.553" stop-color="#5494a1"/><stop offset="0.605" stop-color="#578ca1"/><stop offset="0.680" stop-color="#5b83a0"/><stop offset="0.716" stop-color="#5f799f"/><stop offset="0.763" stop-color="#63709d"/><stop offset="0.857" stop-color="#676599"/><stop offset="0.902" stop-color="#695a93"/><stop offset="0.946" stop-color="#6a4e8b"/><stop offset="0.981" stop-color="#694280"/><stop offset="1.000" stop-color="#683b79"/></linearGradient><linearGradient id="fa41" x1="0" y1="77.8" x2="0" y2="276.5" gradientUnits="userSpaceOnUse"><stop offset="0.000" stop-color="#5ec092"/><stop offset="0.001" stop-color="#5ec092"/><stop offset="0.162" stop-color="#58bc96"/><stop offset="0.233" stop-color="#53b799"/><stop offset="0.267" stop-color="#4eae9d"/><stop offset="0.313" stop-color="#4ea69f"/><stop offset="0.475" stop-color="#519da0"/><stop offset="0.553" stop-color="#5494a1"/><stop offset="0.605" stop-color="#578ca1"/><stop offset="0.680" stop-color="#5b83a0"/><stop offset="0.716" stop-color="#5f799f"/><stop offset="0.762" stop-color="#63709d"/><stop offset="0.857" stop-color="#676599"/><stop offset="0.902" stop-color="#695a93"/><stop offset="0.946" stop-color="#6a4e8b"/><stop offset="0.981" stop-color="#694280"/><stop offset="1.000" stop-color="#683b79"/></linearGradient><linearGradient id="fa42" x1="0" y1="77.8" x2="0" y2="276.5" gradientUnits="userSpaceOnUse"><stop offset="0.000" stop-color="#5ec092"/><stop offset="0.001" stop-color="#5ec092"/><stop offset="0.162" stop-color="#58bc96"/><stop offset="0.233" stop-color="#53b799"/><stop offset="0.268" stop-color="#4eae9d"/><stop offset="0.313" stop-color="#4ea69f"/><stop offset="0.474" stop-color="#519da0"/><stop offset="0.554" stop-color="#5494a1"/><stop offset="0.605" stop-color="#578ca1"/><stop offset="0.680" stop-color="#5b83a0"/><stop offset="0.716" stop-color="#5f799f"/><stop offset="0.761" stop-color="#63709d"/><stop offset="0.857" stop-color="#676599"/><stop offset="0.902" stop-color="#695a93"/><stop offset="0.947" stop-color="#6a4e8b"/><stop offset="0.982" stop-color="#694280"/><stop offset="1.000" stop-color="#683b79"/></linearGradient><linearGradient id="fa43" x1="0" y1="77.8" x2="0" y2="276.5" gradientUnits="userSpaceOnUse"><stop offset="0.000" stop-color="#5ec092"/><stop offset="0.001" stop-color="#5ec092"/><stop offset="0.162" stop-color="#58bc96"/><stop offset="0.233" stop-color="#53b799"/><stop offset="0.268" stop-color="#4eae9d"/><stop offset="0.313" stop-color="#4ea69f"/><stop offset="0.474" stop-color="#519da0"/><stop offset="0.555" stop-color="#5494a1"/><stop offset="0.605" stop-color="#578ca1"/><stop offset="0.680" stop-color="#5b83a0"/><stop offset="0.716" stop-color="#5f799f"/><stop offset="0.761" stop-color="#63709d"/><stop offset="0.857" stop-color="#676599"/><stop offset="0.902" stop-color="#695a93"/><stop offset="0.947" stop-color="#6a4e8b"/><stop offset="0.982" stop-color="#694280"/><stop offset="1.000" stop-color="#683b79"/></linearGradient><linearGradient id="fa44" x1="0" y1="77.8" x2="0" y2="276.5" gradientUnits="userSpaceOnUse"><stop offset="0.000" stop-color="#5ec092"/><stop offset="0.001" stop-color="#5ec092"/><stop offset="0.162" stop-color="#58bc96"/><stop offset="0.233" stop-color="#53b799"/><stop offset="0.269" stop-color="#4eae9d"/><stop offset="0.314" stop-color="#4ea69f"/><stop offset="0.474" stop-color="#519da0"/><stop offset="0.554" stop-color="#5494a1"/><stop offset="0.605" stop-color="#578ca1"/><stop offset="0.680" stop-color="#5b83a0"/><stop offset="0.715" stop-color="#5f799f"/><stop offset="0.760" stop-color="#63709d"/><stop offset="0.856" stop-color="#676599"/><stop offset="0.905" stop-color="#695a93"/><stop offset="0.956" stop-color="#6a4e8b"/><stop offset="0.999" stop-color="#694280"/><stop offset="1.000" stop-color="#69417f"/></linearGradient><linearGradient id="fa45" x1="0" y1="77.8" x2="0" y2="276.5" gradientUnits="userSpaceOnUse"><stop offset="0.000" stop-color="#5ec092"/><stop offset="0.001" stop-color="#5ec092"/><stop offset="0.162" stop-color="#58bc96"/><stop offset="0.233" stop-color="#53b799"/><stop offset="0.270" stop-color="#4eae9d"/><stop offset="0.315" stop-color="#4ea69f"/><stop offset="0.474" stop-color="#519da0"/><stop offset="0.554" stop-color="#5494a1"/><stop offset="0.604" stop-color="#578ca1"/><stop offset="0.679" stop-color="#5b83a0"/><stop offset="0.715" stop-color="#5f799f"/><stop offset="0.760" stop-color="#63709d"/><stop offset="0.855" stop-color="#676599"/><stop offset="0.908" stop-color="#695a93"/><stop offset="0.964" stop-color="#6a4e8b"/><stop offset="1.000" stop-color="#6a4583"/></linearGradient><linearGradient id="fa46" x1="0" y1="77.8" x2="0" y2="276.5" gradientUnits="userSpaceOnUse"><stop offset="0.000" stop-color="#5ec092"/><stop offset="0.001" stop-color="#5ec092"/><stop offset="0.162" stop-color="#58bc96"/><stop offset="0.233" stop-color="#53b799"/><stop offset="0.271" stop-color="#4eae9d"/><stop offset="0.316" stop-color="#4ea69f"/><stop offset="0.473" stop-color="#519da0"/><stop offset="0.554" stop-color="#5494a1"/><stop offset="0.604" stop-color="#578ca1"/><stop offset="0.679" stop-color="#5b83a0"/><stop offset="0.714" stop-color="#5f799f"/><stop offset="0.759" stop-color="#63709d"/><stop offset="0.854" stop-color="#676599"/><stop offset="0.911" stop-color="#695a93"/><stop offset="0.973" stop-color="#6a4e8b"/><stop offset="1.000" stop-color="#6a4886"/></linearGradient><linearGradient id="fa47" x1="0" y1="77.8" x2="0" y2="276.5" gradientUnits="userSpaceOnUse"><stop offset="0.000" stop-color="#5ec092"/><stop offset="0.001" stop-color="#5ec092"/><stop offset="0.162" stop-color="#58bc96"/><stop offset="0.233" stop-color="#53b799"/><stop offset="0.272" stop-color="#4eae9d"/><stop offset="0.317" stop-color="#4ea69f"/><stop offset="0.473" stop-color="#519da0"/><stop offset="0.554" stop-color="#5494a1"/><stop offset="0.604" stop-color="#578ca1"/><stop offset="0.678" stop-color="#5b83a0"/><stop offset="0.714" stop-color="#5f799f"/><stop offset="0.759" stop-color="#63709d"/><stop offset="0.853" stop-color="#676599"/><stop offset="0.914" stop-color="#695a93"/><stop offset="0.982" stop-color="#6a4e8b"/><stop offset="1.000" stop-color="#6a4a88"/></linearGradient><linearGradient id="fa48" x1="0" y1="77.8" x2="0" y2="276.5" gradientUnits="userSpaceOnUse"><stop offset="0.000" stop-color="#5ec092"/><stop offset="0.001" stop-color="#5ec092"/><stop offset="0.162" stop-color="#58bc96"/><stop offset="0.233" stop-color="#53b799"/><stop offset="0.274" stop-color="#4eae9d"/><stop offset="0.318" stop-color="#4ea69f"/><stop offset="0.473" stop-color="#519da0"/><stop offset="0.553" stop-color="#5494a1"/><stop offset="0.604" stop-color="#578ca1"/><stop offset="0.677" stop-color="#5b83a0"/><stop offset="0.713" stop-color="#5f799f"/><stop offset="0.758" stop-color="#63709d"/><stop offset="0.852" stop-color="#676599"/><stop offset="0.917" stop-color="#695a93"/><stop offset="0.991" stop-color="#6a4e8b"/><stop offset="1.000" stop-color="#6a4c89"/></linearGradient><linearGradient id="fa49" x1="0" y1="77.8" x2="0" y2="276.5" gradientUnits="userSpaceOnUse"><stop offset="0.000" stop-color="#5ec092"/><stop offset="0.001" stop-color="#5ec092"/><stop offset="0.162" stop-color="#58bc96"/><stop offset="0.233" stop-color="#53b799"/><stop offset="0.275" stop-color="#4eae9d"/><stop offset="0.319" stop-color="#4ea69f"/><stop offset="0.473" stop-color="#519da0"/><stop offset="0.553" stop-color="#5494a1"/><stop offset="0.604" stop-color="#578ca1"/><stop offset="0.677" stop-color="#5b83a0"/><stop offset="0.713" stop-color="#5f799f"/><stop offset="0.757" stop-color="#63709d"/><stop offset="0.851" stop-color="#676599"/><stop offset="0.921" stop-color="#695a93"/><stop offset="1.000" stop-color="#6a4e8b"/><stop offset="1.000" stop-color="#6a4e8b"/></linearGradient><linearGradient id="fa50" x1="0" y1="77.8" x2="0" y2="279.4" gradientUnits="userSpaceOnUse"><stop offset="0.000" stop-color="#5ec092"/><stop offset="0.001" stop-color="#5ec092"/><stop offset="0.160" stop-color="#58bc96"/><stop offset="0.229" stop-color="#53b799"/><stop offset="0.272" stop-color="#4eae9d"/><stop offset="0.315" stop-color="#4ea69f"/><stop offset="0.466" stop-color="#519da0"/><stop offset="0.545" stop-color="#5494a1"/><stop offset="0.595" stop-color="#578ca1"/><stop offset="0.667" stop-color="#5b83a0"/><stop offset="0.702" stop-color="#5f799f"/><stop offset="0.746" stop-color="#63709d"/><stop offset="0.838" stop-color="#676599"/><stop offset="0.910" stop-color="#695a93"/><stop offset="0.994" stop-color="#6a4e8b"/><stop offset="1.000" stop-color="#6a4d8a"/></linearGradient><linearGradient id="fa51" x1="0" y1="77.8" x2="0" y2="279.4" gradientUnits="userSpaceOnUse"><stop offset="0.000" stop-color="#5ec092"/><stop offset="0.001" stop-color="#5ec092"/><stop offset="0.160" stop-color="#58bc96"/><stop offset="0.229" stop-color="#53b799"/><stop offset="0.273" stop-color="#4eae9d"/><stop offset="0.316" stop-color="#4ea69f"/><stop offset="0.465" stop-color="#519da0"/><stop offset="0.545" stop-color="#5494a1"/><stop offset="0.594" stop-color="#578ca1"/><stop offset="0.666" stop-color="#5b83a0"/><stop offset="0.702" stop-color="#5f799f"/><stop offset="0.745" stop-color="#63709d"/><stop offset="0.837" stop-color="#676599"/><stop offset="0.914" stop-color="#695a93"/><stop offset="1.000" stop-color="#6a4e8b"/></linearGradient><linearGradient id="fa52" x1="0" y1="77.8" x2="0" y2="279.4" gradientUnits="userSpaceOnUse"><stop offset="0.000" stop-color="#5ec092"/><stop offset="0.001" stop-color="#5ec092"/><stop offset="0.160" stop-color="#58bc96"/><stop offset="0.229" stop-color="#53b799"/><stop offset="0.274" stop-color="#4eae9d"/><stop offset="0.317" stop-color="#4ea69f"/><stop offset="0.465" stop-color="#519da0"/><stop offset="0.545" stop-color="#5494a1"/><stop offset="0.594" stop-color="#578ca1"/><stop offset="0.665" stop-color="#5b83a0"/><stop offset="0.701" stop-color="#5f799f"/><stop offset="0.745" stop-color="#63709d"/><stop offset="0.836" stop-color="#676599"/><stop offset="0.914" stop-color="#695a93"/><stop offset="1.000" stop-color="#6a4e8b"/></linearGradient><linearGradient id="fa53" x1="0" y1="77.8" x2="0" y2="279.4" gradientUnits="userSpaceOnUse"><stop offset="0.000" stop-color="#5ec092"/><stop offset="0.001" stop-color="#5ec092"/><stop offset="0.160" stop-color="#58bc96"/><stop offset="0.229" stop-color="#53b799"/><stop offset="0.276" stop-color="#4eae9d"/><stop offset="0.318" stop-color="#4ea69f"/><stop offset="0.465" stop-color="#519da0"/><stop offset="0.544" stop-color="#5494a1"/><stop offset="0.594" stop-color="#578ca1"/><stop offset="0.665" stop-color="#5b83a0"/><stop offset="0.701" stop-color="#5f799f"/><stop offset="0.744" stop-color="#63709d"/><stop offset="0.835" stop-color="#676599"/><stop offset="0.914" stop-color="#695a93"/><stop offset="1.000" stop-color="#6a4f8c"/></linearGradient><linearGradient id="fa54" x1="0" y1="77.8" x2="0" y2="279.4" gradientUnits="userSpaceOnUse"><stop offset="0.000" stop-color="#5ec092"/><stop offset="0.001" stop-color="#5ec092"/><stop offset="0.160" stop-color="#58bc96"/><stop offset="0.229" stop-color="#53b799"/><stop offset="0.277" stop-color="#4eae9d"/><stop offset="0.319" stop-color="#4ea69f"/><stop offset="0.465" stop-color="#519da0"/><stop offset="0.544" stop-color="#5494a1"/><stop offset="0.594" stop-color="#578ca1"/><stop offset="0.664" stop-color="#5b83a0"/><stop offset="0.700" stop-color="#5f799f"/><stop offset="0.744" stop-color="#63709d"/><stop offset="0.834" stop-color="#676599"/><stop offset="0.914" stop-color="#695a93"/><stop offset="1.000" stop-color="#6a4f8c"/></linearGradient><linearGradient id="fa55" x1="0" y1="77.8" x2="0" y2="279.4" gradientUnits="userSpaceOnUse"><stop offset="0.000" stop-color="#5ec092"/><stop offset="0.001" stop-color="#5ec092"/><stop offset="0.160" stop-color="#58bc96"/><stop offset="0.229" stop-color="#53b799"/><stop offset="0.278" stop-color="#4eae9d"/><stop offset="0.320" stop-color="#4ea69f"/><stop offset="0.464" stop-color="#519da0"/><stop offset="0.544" stop-color="#5494a1"/><stop offset="0.593" stop-color="#578ca1"/><stop offset="0.664" stop-color="#5b83a0"/><stop offset="0.700" stop-color="#5f799f"/><stop offset="0.743" stop-color="#63709d"/><stop offset="0.833" stop-color="#676599"/><stop offset="0.914" stop-color="#695a93"/><stop offset="1.000" stop-color="#6a4f8c"/></linearGradient><linearGradient id="fa56" x1="0" y1="77.8" x2="0" y2="279.4" gradientUnits="userSpaceOnUse"><stop offset="0.000" stop-color="#5ec092"/><stop offset="0.001" stop-color="#5ec092"/><stop offset="0.160" stop-color="#58bc96"/><stop offset="0.229" stop-color="#53b799"/><stop offset="0.279" stop-color="#4eae9d"/><stop offset="0.321" stop-color="#4ea69f"/><stop offset="0.464" stop-color="#519da0"/><stop offset="0.544" stop-color="#5494a1"/><stop offset="0.593" stop-color="#578ca1"/><stop offset="0.663" stop-color="#5b83a0"/><stop offset="0.699" stop-color="#5f799f"/><stop offset="0.742" stop-color="#63709d"/><stop offset="0.832" stop-color="#676599"/><stop offset="0.914" stop-color="#695a93"/><stop offset="1.000" stop-color="#6a4f8c"/></linearGradient><linearGradient id="fa57" x1="0" y1="77.8" x2="0" y2="279.4" gradientUnits="userSpaceOnUse"><stop offset="0.000" stop-color="#5ec092"/><stop offset="0.001" stop-color="#5ec092"/><stop offset="0.160" stop-color="#58bc96"/><stop offset="0.229" stop-color="#53b799"/><stop offset="0.280" stop-color="#4eae9d"/><stop offset="0.322" stop-color="#4ea69f"/><stop offset="0.464" stop-color="#519da0"/><stop offset="0.543" stop-color="#5494a1"/><stop offset="0.593" stop-color="#578ca1"/><stop offset="0.662" stop-color="#5b83a0"/><stop offset="0.699" stop-color="#5f799f"/><stop offset="0.742" stop-color="#63709d"/><stop offset="0.831" stop-color="#676599"/><stop offset="0.914" stop-color="#695a93"/><stop offset="1.000" stop-color="#6a508d"/></linearGradient><linearGradient id="fa58" x1="0" y1="77.8" x2="0" y2="279.4" gradientUnits="userSpaceOnUse"><stop offset="0.000" stop-color="#5ec092"/><stop offset="0.001" stop-color="#5ec092"/><stop offset="0.160" stop-color="#58bc96"/><stop offset="0.229" stop-color="#53b799"/><stop offset="0.281" stop-color="#4eae9d"/><stop offset="0.323" stop-color="#4ea69f"/><stop offset="0.464" stop-color="#519da0"/><stop offset="0.543" stop-color="#5494a1"/><stop offset="0.593" stop-color="#578ca1"/><stop offset="0.662" stop-color="#5b83a0"/><stop offset="0.698" stop-color="#5f799f"/><stop offset="0.741" stop-color="#63709d"/><stop offset="0.830" stop-color="#676599"/><stop offset="0.914" stop-color="#695a93"/><stop offset="1.000" stop-color="#6a508d"/></linearGradient><linearGradient id="fa59" x1="0" y1="77.8" x2="0" y2="279.4" gradientUnits="userSpaceOnUse"><stop offset="0.000" stop-color="#5ec092"/><stop offset="0.001" stop-color="#5ec092"/><stop offset="0.160" stop-color="#58bc96"/><stop offset="0.229" stop-color="#53b799"/><stop offset="0.283" stop-color="#4eae9d"/><stop offset="0.323" stop-color="#4ea69f"/><stop offset="0.464" stop-color="#519da0"/><stop offset="0.543" stop-color="#5494a1"/><stop offset="0.592" stop-color="#578ca1"/><stop offset="0.661" stop-color="#5b83a0"/><stop offset="0.698" stop-color="#5f799f"/><stop offset="0.741" stop-color="#63709d"/><stop offset="0.829" stop-color="#676599"/><stop offset="0.914" stop-color="#695a93"/><stop offset="1.000" stop-color="#6a508d"/></linearGradient><linearGradient id="fa60" x1="0" y1="77.8" x2="0" y2="279.4" gradientUnits="userSpaceOnUse"><stop offset="0.000" stop-color="#5ec092"/><stop offset="0.001" stop-color="#5ec092"/><stop offset="0.160" stop-color="#58bc96"/><stop offset="0.229" stop-color="#53b799"/><stop offset="0.284" stop-color="#4eae9d"/><stop offset="0.324" stop-color="#4ea69f"/><stop offset="0.463" stop-color="#519da0"/><stop offset="0.543" stop-color="#5494a1"/><stop offset="0.592" stop-color="#578ca1"/><stop offset="0.661" stop-color="#5b83a0"/><stop offset="0.697" stop-color="#5f799f"/><stop offset="0.740" stop-color="#63709d"/><stop offset="0.828" stop-color="#676599"/><stop offset="0.914" stop-color="#695a93"/><stop offset="1.000" stop-color="#6a508d"/></linearGradient><linearGradient id="fa61" x1="0" y1="77.8" x2="0" y2="279.4" gradientUnits="userSpaceOnUse"><stop offset="0.000" stop-color="#5ec092"/><stop offset="0.001" stop-color="#5ec092"/><stop offset="0.160" stop-color="#58bc96"/><stop offset="0.229" stop-color="#53b799"/><stop offset="0.285" stop-color="#4eae9d"/><stop offset="0.325" stop-color="#4ea69f"/><stop offset="0.463" stop-color="#519da0"/><stop offset="0.542" stop-color="#5494a1"/><stop offset="0.592" stop-color="#578ca1"/><stop offset="0.660" stop-color="#5b83a0"/><stop offset="0.697" stop-color="#5f799f"/><stop offset="0.739" stop-color="#63709d"/><stop offset="0.827" stop-color="#676599"/><stop offset="0.914" stop-color="#695a93"/><stop offset="1.000" stop-color="#6a508d"/></linearGradient><linearGradient id="fa62" x1="0" y1="77.8" x2="0" y2="279.4" gradientUnits="userSpaceOnUse"><stop offset="0.000" stop-color="#5ec092"/><stop offset="0.001" stop-color="#5ec092"/><stop offset="0.160" stop-color="#58bc96"/><stop offset="0.229" stop-color="#53b799"/><stop offset="0.286" stop-color="#4eae9d"/><stop offset="0.326" stop-color="#4ea69f"/><stop offset="0.463" stop-color="#519da0"/><stop offset="0.542" stop-color="#5494a1"/><stop offset="0.592" stop-color="#578ca1"/><stop offset="0.660" stop-color="#5b83a0"/><stop offset="0.696" stop-color="#5f799f"/><stop offset="0.739" stop-color="#63709d"/><stop offset="0.827" stop-color="#676599"/><stop offset="0.914" stop-color="#695a93"/><stop offset="1.000" stop-color="#6a518d"/></linearGradient><linearGradient id="fa63" x1="0" y1="77.8" x2="0" y2="279.4" gradientUnits="userSpaceOnUse"><stop offset="0.000" stop-color="#5ec092"/><stop offset="0.001" stop-color="#5ec092"/><stop offset="0.160" stop-color="#58bc96"/><stop offset="0.229" stop-color="#53b799"/><stop offset="0.287" stop-color="#4eae9d"/><stop offset="0.327" stop-color="#4ea69f"/><stop offset="0.463" stop-color="#519da0"/><stop offset="0.542" stop-color="#5494a1"/><stop offset="0.592" stop-color="#578ca1"/><stop offset="0.659" stop-color="#5b83a0"/><stop offset="0.696" stop-color="#5f799f"/><stop offset="0.738" stop-color="#63709d"/><stop offset="0.826" stop-color="#676599"/><stop offset="0.914" stop-color="#695a93"/><stop offset="1.000" stop-color="#6a518d"/></linearGradient><linearGradient id="fa64" x1="0" y1="77.8" x2="0" y2="279.4" gradientUnits="userSpaceOnUse"><stop offset="0.000" stop-color="#5ec092"/><stop offset="0.001" stop-color="#5ec092"/><stop offset="0.160" stop-color="#58bc96"/><stop offset="0.229" stop-color="#53b799"/><stop offset="0.288" stop-color="#4eae9d"/><stop offset="0.328" stop-color="#4ea69f"/><stop offset="0.462" stop-color="#519da0"/><stop offset="0.542" stop-color="#5494a1"/><stop offset="0.591" stop-color="#578ca1"/><stop offset="0.658" stop-color="#5b83a0"/><stop offset="0.696" stop-color="#5f799f"/><stop offset="0.738" stop-color="#63709d"/><stop offset="0.825" stop-color="#676599"/><stop offset="0.914" stop-color="#695a93"/><stop offset="1.000" stop-color="#6a518d"/></linearGradient><linearGradient id="fa65" x1="0" y1="77.8" x2="0" y2="279.4" gradientUnits="userSpaceOnUse"><stop offset="0.000" stop-color="#5ec092"/><stop offset="0.001" stop-color="#5ec092"/><stop offset="0.160" stop-color="#58bc96"/><stop offset="0.229" stop-color="#53b799"/><stop offset="0.290" stop-color="#4eae9d"/><stop offset="0.329" stop-color="#4ea69f"/><stop offset="0.462" stop-color="#519da0"/><stop offset="0.541" stop-color="#5494a1"/><stop offset="0.591" stop-color="#578ca1"/><stop offset="0.658" stop-color="#5b83a0"/><stop offset="0.695" stop-color="#5f799f"/><stop offset="0.737" stop-color="#63709d"/><stop offset="0.824" stop-color="#676599"/><stop offset="0.914" stop-color="#695a93"/><stop offset="1.000" stop-color="#6a518d"/></linearGradient><linearGradient id="fa66" x1="0" y1="77.8" x2="0" y2="279.4" gradientUnits="userSpaceOnUse"><stop offset="0.000" stop-color="#5ec092"/><stop offset="0.001" stop-color="#5ec092"/><stop offset="0.160" stop-color="#58bc96"/><stop offset="0.229" stop-color="#53b799"/><stop offset="0.291" stop-color="#4eae9d"/><stop offset="0.330" stop-color="#4ea69f"/><stop offset="0.462" stop-color="#519da0"/><stop offset="0.541" stop-color="#5494a1"/><stop offset="0.591" stop-color="#578ca1"/><stop offset="0.657" stop-color="#5b83a0"/><stop offset="0.695" stop-color="#5f799f"/><stop offset="0.737" stop-color="#63709d"/><stop offset="0.823" stop-color="#676599"/><stop offset="0.914" stop-color="#695a93"/><stop offset="1.000" stop-color="#6a518d"/></linearGradient><linearGradient id="fa67" x1="0" y1="77.8" x2="0" y2="279.4" gradientUnits="userSpaceOnUse"><stop offset="0.000" stop-color="#5ec092"/><stop offset="0.001" stop-color="#5ec092"/><stop offset="0.160" stop-color="#58bc96"/><stop offset="0.229" stop-color="#53b799"/><stop offset="0.292" stop-color="#4eae9d"/><stop offset="0.331" stop-color="#4ea69f"/><stop offset="0.462" stop-color="#519da0"/><stop offset="0.541" stop-color="#5494a1"/><stop offset="0.591" stop-color="#578ca1"/><stop offset="0.657" stop-color="#5b83a0"/><stop offset="0.694" stop-color="#5f799f"/><stop offset="0.736" stop-color="#63709d"/><stop offset="0.822" stop-color="#676599"/><stop offset="0.914" stop-color="#695a93"/><stop offset="1.000" stop-color="#6a518d"/></linearGradient><linearGradient id="fa68" x1="0" y1="77.8" x2="0" y2="279.4" gradientUnits="userSpaceOnUse"><stop offset="0.000" stop-color="#5ec092"/><stop offset="0.001" stop-color="#5ec092"/><stop offset="0.160" stop-color="#58bc96"/><stop offset="0.230" stop-color="#53b799"/><stop offset="0.293" stop-color="#4eae9d"/><stop offset="0.332" stop-color="#4ea69f"/><stop offset="0.461" stop-color="#519da0"/><stop offset="0.541" stop-color="#5494a1"/><stop offset="0.590" stop-color="#578ca1"/><stop offset="0.656" stop-color="#5b83a0"/><stop offset="0.694" stop-color="#5f799f"/><stop offset="0.735" stop-color="#63709d"/><stop offset="0.821" stop-color="#676599"/><stop offset="0.914" stop-color="#695a93"/><stop offset="1.000" stop-color="#6a518d"/></linearGradient><linearGradient id="fa69" x1="0" y1="77.8" x2="0" y2="279.4" gradientUnits="userSpaceOnUse"><stop offset="0.000" stop-color="#5ec092"/><stop offset="0.001" stop-color="#5ec092"/><stop offset="0.160" stop-color="#58bc96"/><stop offset="0.231" stop-color="#53b799"/><stop offset="0.294" stop-color="#4eae9d"/><stop offset="0.333" stop-color="#4ea69f"/><stop offset="0.461" stop-color="#519da0"/><stop offset="0.541" stop-color="#5494a1"/><stop offset="0.590" stop-color="#578ca1"/><stop offset="0.655" stop-color="#5b83a0"/><stop offset="0.693" stop-color="#5f799f"/><stop offset="0.735" stop-color="#63709d"/><stop offset="0.820" stop-color="#676599"/><stop offset="0.914" stop-color="#695a93"/><stop offset="1.000" stop-color="#6a528e"/></linearGradient><linearGradient id="fa70" x1="0" y1="77.8" x2="0" y2="279.4" gradientUnits="userSpaceOnUse"><stop offset="0.000" stop-color="#5ec092"/><stop offset="0.001" stop-color="#5ec092"/><stop offset="0.160" stop-color="#58bc96"/><stop offset="0.231" stop-color="#53b799"/><stop offset="0.295" stop-color="#4eae9d"/><stop offset="0.334" stop-color="#4ea69f"/><stop offset="0.461" stop-color="#519da0"/><stop offset="0.540" stop-color="#5494a1"/><stop offset="0.590" stop-color="#578ca1"/><stop offset="0.655" stop-color="#5b83a0"/><stop offset="0.693" stop-color="#5f799f"/><stop offset="0.734" stop-color="#63709d"/><stop offset="0.819" stop-color="#676599"/><stop offset="0.914" stop-color="#695a93"/><stop offset="1.000" stop-color="#6a528e"/></linearGradient><linearGradient id="fa71" x1="0" y1="77.8" x2="0" y2="279.4" gradientUnits="userSpaceOnUse"><stop offset="0.000" stop-color="#5ec092"/><stop offset="0.001" stop-color="#5ec092"/><stop offset="0.160" stop-color="#58bc96"/><stop offset="0.232" stop-color="#53b799"/><stop offset="0.297" stop-color="#4eae9d"/><stop offset="0.335" stop-color="#4ea69f"/><stop offset="0.461" stop-color="#519da0"/><stop offset="0.540" stop-color="#5494a1"/><stop offset="0.590" stop-color="#578ca1"/><stop offset="0.654" stop-color="#5b83a0"/><stop offset="0.692" stop-color="#5f799f"/><stop offset="0.734" stop-color="#63709d"/><stop offset="0.818" stop-color="#676599"/><stop offset="0.914" stop-color="#695a93"/><stop offset="1.000" stop-color="#6a528e"/></linearGradient><linearGradient id="fa72" x1="0" y1="77.8" x2="0" y2="279.4" gradientUnits="userSpaceOnUse"><stop offset="0.000" stop-color="#5ec092"/><stop offset="0.001" stop-color="#5ec092"/><stop offset="0.160" stop-color="#58bc96"/><stop offset="0.233" stop-color="#53b799"/><stop offset="0.298" stop-color="#4eae9d"/><stop offset="0.336" stop-color="#4ea69f"/><stop offset="0.460" stop-color="#519da0"/><stop offset="0.540" stop-color="#5494a1"/><stop offset="0.589" stop-color="#578ca1"/><stop offset="0.654" stop-color="#5b83a0"/><stop offset="0.692" stop-color="#5f799f"/><stop offset="0.733" stop-color="#63709d"/><stop offset="0.817" stop-color="#676599"/><stop offset="0.914" stop-color="#695a93"/><stop offset="1.000" stop-color="#6a528e"/></linearGradient><linearGradient id="fa73" x1="0" y1="77.8" x2="0" y2="279.4" gradientUnits="userSpaceOnUse"><stop offset="0.000" stop-color="#5ec092"/><stop offset="0.001" stop-color="#5ec092"/><stop offset="0.160" stop-color="#58bc96"/><stop offset="0.233" stop-color="#53b799"/><stop offset="0.299" stop-color="#4eae9d"/><stop offset="0.337" stop-color="#4ea69f"/><stop offset="0.460" stop-color="#519da0"/><stop offset="0.540" stop-color="#5494a1"/><stop offset="0.589" stop-color="#578ca1"/><stop offset="0.653" stop-color="#5b83a0"/><stop offset="0.691" stop-color="#5f799f"/><stop offset="0.732" stop-color="#63709d"/><stop offset="0.816" stop-color="#676599"/><stop offset="0.914" stop-color="#695a93"/><stop offset="1.000" stop-color="#6a528e"/></linearGradient><linearGradient id="fa74" x1="0" y1="77.8" x2="0" y2="279.4" gradientUnits="userSpaceOnUse"><stop offset="0.000" stop-color="#5ec092"/><stop offset="0.001" stop-color="#5ec092"/><stop offset="0.160" stop-color="#58bc96"/><stop offset="0.234" stop-color="#53b799"/><stop offset="0.300" stop-color="#4eae9d"/><stop offset="0.338" stop-color="#4ea69f"/><stop offset="0.460" stop-color="#519da0"/><stop offset="0.539" stop-color="#5494a1"/><stop offset="0.589" stop-color="#578ca1"/><stop offset="0.653" stop-color="#5b83a0"/><stop offset="0.691" stop-color="#5f799f"/><stop offset="0.732" stop-color="#63709d"/><stop offset="0.815" stop-color="#676599"/><stop offset="0.914" stop-color="#695a93"/><stop offset="1.000" stop-color="#6a528e"/></linearGradient><linearGradient id="fa75" x1="0" y1="77.8" x2="0" y2="279.4" gradientUnits="userSpaceOnUse"><stop offset="0.000" stop-color="#5ec092"/><stop offset="0.001" stop-color="#5ec092"/><stop offset="0.160" stop-color="#58bc96"/><stop offset="0.235" stop-color="#53b799"/><stop offset="0.301" stop-color="#4eae9d"/><stop offset="0.338" stop-color="#4ea69f"/><stop offset="0.460" stop-color="#519da0"/><stop offset="0.539" stop-color="#5494a1"/><stop offset="0.589" stop-color="#578ca1"/><stop offset="0.652" stop-color="#5b83a0"/><stop offset="0.690" stop-color="#5f799f"/><stop offset="0.731" stop-color="#63709d"/><stop offset="0.814" stop-color="#676599"/><stop offset="0.914" stop-color="#695a93"/><stop offset="1.000" stop-color="#6a528e"/></linearGradient><linearGradient id="fa76" x1="0" y1="77.8" x2="0" y2="279.4" gradientUnits="userSpaceOnUse"><stop offset="0.000" stop-color="#5ec092"/><stop offset="0.001" stop-color="#5ec092"/><stop offset="0.160" stop-color="#58bc96"/><stop offset="0.236" stop-color="#53b799"/><stop offset="0.302" stop-color="#4eae9d"/><stop offset="0.339" stop-color="#4ea69f"/><stop offset="0.460" stop-color="#519da0"/><stop offset="0.539" stop-color="#5494a1"/><stop offset="0.589" stop-color="#578ca1"/><stop offset="0.651" stop-color="#5b83a0"/><stop offset="0.690" stop-color="#5f799f"/><stop offset="0.731" stop-color="#63709d"/><stop offset="0.813" stop-color="#676599"/><stop offset="0.914" stop-color="#695a93"/><stop offset="1.000" stop-color="#6a528e"/></linearGradient><linearGradient id="fa77" x1="0" y1="77.8" x2="0" y2="279.4" gradientUnits="userSpaceOnUse"><stop offset="0.000" stop-color="#5ec092"/><stop offset="0.001" stop-color="#5ec092"/><stop offset="0.160" stop-color="#58bc96"/><stop offset="0.236" stop-color="#53b799"/><stop offset="0.304" stop-color="#4eae9d"/><stop offset="0.340" stop-color="#4ea69f"/><stop offset="0.459" stop-color="#519da0"/><stop offset="0.539" stop-color="#5494a1"/><stop offset="0.588" stop-color="#578ca1"/><stop offset="0.651" stop-color="#5b83a0"/><stop offset="0.689" stop-color="#5f799f"/><stop offset="0.730" stop-color="#63709d"/><stop offset="0.812" stop-color="#676599"/><stop offset="0.914" stop-color="#695a93"/><stop offset="1.000" stop-color="#6a538f"/></linearGradient><linearGradient id="fa78" x1="0" y1="77.8" x2="0" y2="279.4" gradientUnits="userSpaceOnUse"><stop offset="0.000" stop-color="#5ec092"/><stop offset="0.001" stop-color="#5ec092"/><stop offset="0.160" stop-color="#58bc96"/><stop offset="0.237" stop-color="#53b799"/><stop offset="0.305" stop-color="#4eae9d"/><stop offset="0.341" stop-color="#4ea69f"/><stop offset="0.459" stop-color="#519da0"/><stop offset="0.538" stop-color="#5494a1"/><stop offset="0.588" stop-color="#578ca1"/><stop offset="0.650" stop-color="#5b83a0"/><stop offset="0.689" stop-color="#5f799f"/><stop offset="0.730" stop-color="#63709d"/><stop offset="0.812" stop-color="#676599"/><stop offset="0.914" stop-color="#695a93"/><stop offset="1.000" stop-color="#6a538f"/></linearGradient><linearGradient id="fa79" x1="0" y1="77.8" x2="0" y2="279.4" gradientUnits="userSpaceOnUse"><stop offset="0.000" stop-color="#5ec092"/><stop offset="0.001" stop-color="#5ec092"/><stop offset="0.160" stop-color="#58bc96"/><stop offset="0.238" stop-color="#53b799"/><stop offset="0.306" stop-color="#4eae9d"/><stop offset="0.342" stop-color="#4ea69f"/><stop offset="0.459" stop-color="#519da0"/><stop offset="0.538" stop-color="#5494a1"/><stop offset="0.588" stop-color="#578ca1"/><stop offset="0.650" stop-color="#5b83a0"/><stop offset="0.689" stop-color="#5f799f"/><stop offset="0.729" stop-color="#63709d"/><stop offset="0.811" stop-color="#676599"/><stop offset="0.914" stop-color="#695a93"/><stop offset="1.000" stop-color="#6a538f"/></linearGradient><linearGradient id="fa80" x1="0" y1="77.8" x2="0" y2="279.4" gradientUnits="userSpaceOnUse"><stop offset="0.000" stop-color="#5ec092"/><stop offset="0.001" stop-color="#5ec092"/><stop offset="0.160" stop-color="#58bc96"/><stop offset="0.238" stop-color="#53b799"/><stop offset="0.307" stop-color="#4eae9d"/><stop offset="0.343" stop-color="#4ea69f"/><stop offset="0.459" stop-color="#519da0"/><stop offset="0.538" stop-color="#5494a1"/><stop offset="0.588" stop-color="#578ca1"/><stop offset="0.649" stop-color="#5b83a0"/><stop offset="0.688" stop-color="#5f799f"/><stop offset="0.728" stop-color="#63709d"/><stop offset="0.810" stop-color="#676599"/><stop offset="0.914" stop-color="#695a93"/><stop offset="1.000" stop-color="#6a538f"/></linearGradient><linearGradient id="fa81" x1="0" y1="77.8" x2="0" y2="279.4" gradientUnits="userSpaceOnUse"><stop offset="0.000" stop-color="#5ec092"/><stop offset="0.001" stop-color="#5ec092"/><stop offset="0.160" stop-color="#58bc96"/><stop offset="0.239" stop-color="#53b799"/><stop offset="0.308" stop-color="#4eae9d"/><stop offset="0.344" stop-color="#4ea69f"/><stop offset="0.458" stop-color="#519da0"/><stop offset="0.538" stop-color="#5494a1"/><stop offset="0.587" stop-color="#578ca1"/><stop offset="0.648" stop-color="#5b83a0"/><stop offset="0.688" stop-color="#5f799f"/><stop offset="0.728" stop-color="#63709d"/><stop offset="0.809" stop-color="#676599"/><stop offset="0.914" stop-color="#695a93"/><stop offset="1.000" stop-color="#6a538f"/></linearGradient><linearGradient id="fa82" x1="0" y1="77.8" x2="0" y2="279.4" gradientUnits="userSpaceOnUse"><stop offset="0.000" stop-color="#5ec092"/><stop offset="0.001" stop-color="#5ec092"/><stop offset="0.160" stop-color="#58bc96"/><stop offset="0.246" stop-color="#53b799"/><stop offset="0.309" stop-color="#4eae9d"/><stop offset="0.345" stop-color="#4ea69f"/><stop offset="0.458" stop-color="#519da0"/><stop offset="0.538" stop-color="#5494a1"/><stop offset="0.587" stop-color="#578ca1"/><stop offset="0.648" stop-color="#5b83a0"/><stop offset="0.687" stop-color="#5f799f"/><stop offset="0.727" stop-color="#63709d"/><stop offset="0.808" stop-color="#676599"/><stop offset="0.914" stop-color="#695a93"/><stop offset="1.000" stop-color="#6a538f"/></linearGradient><linearGradient id="fa83" x1="0" y1="77.8" x2="0" y2="279.4" gradientUnits="userSpaceOnUse"><stop offset="0.000" stop-color="#5ec092"/><stop offset="0.001" stop-color="#5ec092"/><stop offset="0.160" stop-color="#58bc96"/><stop offset="0.252" stop-color="#53b799"/><stop offset="0.311" stop-color="#4eae9d"/><stop offset="0.346" stop-color="#4ea69f"/><stop offset="0.458" stop-color="#519da0"/><stop offset="0.537" stop-color="#5494a1"/><stop offset="0.587" stop-color="#578ca1"/><stop offset="0.647" stop-color="#5b83a0"/><stop offset="0.687" stop-color="#5f799f"/><stop offset="0.727" stop-color="#63709d"/><stop offset="0.807" stop-color="#676599"/><stop offset="0.914" stop-color="#695a93"/><stop offset="1.000" stop-color="#6a538f"/></linearGradient><linearGradient id="fa84" x1="0" y1="77.8" x2="0" y2="279.4" gradientUnits="userSpaceOnUse"><stop offset="0.000" stop-color="#5ec092"/><stop offset="0.001" stop-color="#5ec092"/><stop offset="0.160" stop-color="#58bc96"/><stop offset="0.259" stop-color="#53b799"/><stop offset="0.312" stop-color="#4eae9d"/><stop offset="0.347" stop-color="#4ea69f"/><stop offset="0.458" stop-color="#519da0"/><stop offset="0.537" stop-color="#5494a1"/><stop offset="0.587" stop-color="#578ca1"/><stop offset="0.647" stop-color="#5b83a0"/><stop offset="0.686" stop-color="#5f799f"/><stop offset="0.726" stop-color="#63709d"/><stop offset="0.806" stop-color="#676599"/><stop offset="0.914" stop-color="#695a93"/><stop offset="1.000" stop-color="#6a538f"/></linearGradient><linearGradient id="fa85" x1="0" y1="77.8" x2="0" y2="279.4" gradientUnits="userSpaceOnUse"><stop offset="0.000" stop-color="#5ec092"/><stop offset="0.001" stop-color="#5ec092"/><stop offset="0.160" stop-color="#58bc96"/><stop offset="0.266" stop-color="#53b799"/><stop offset="0.313" stop-color="#4eae9d"/><stop offset="0.348" stop-color="#4ea69f"/><stop offset="0.457" stop-color="#519da0"/><stop offset="0.537" stop-color="#5494a1"/><stop offset="0.586" stop-color="#578ca1"/><stop offset="0.646" stop-color="#5b83a0"/><stop offset="0.686" stop-color="#5f799f"/><stop offset="0.725" stop-color="#63709d"/><stop offset="0.805" stop-color="#676599"/><stop offset="0.914" stop-color="#695a93"/><stop offset="1.000" stop-color="#6a538f"/></linearGradient><linearGradient id="fa86" x1="0" y1="77.8" x2="0" y2="279.4" gradientUnits="userSpaceOnUse"><stop offset="0.000" stop-color="#5ec092"/><stop offset="0.001" stop-color="#5ec092"/><stop offset="0.160" stop-color="#58bc96"/><stop offset="0.269" stop-color="#53b799"/><stop offset="0.313" stop-color="#4eae9d"/><stop offset="0.348" stop-color="#4ea69f"/><stop offset="0.457" stop-color="#519da0"/><stop offset="0.537" stop-color="#5494a1"/><stop offset="0.586" stop-color="#578ca1"/><stop offset="0.646" stop-color="#5b83a0"/><stop offset="0.686" stop-color="#5f799f"/><stop offset="0.725" stop-color="#63709d"/><stop offset="0.805" stop-color="#676599"/><stop offset="0.914" stop-color="#695a93"/><stop offset="1.000" stop-color="#6a538f"/></linearGradient><linearGradient id="fb0" x1="0" y1="435.2" x2="0" y2="678.5" gradientUnits="userSpaceOnUse"><stop offset="0.000" stop-color="#f4e66b"/><stop offset="0.110" stop-color="#dce162"/><stop offset="0.214" stop-color="#c6dc69"/><stop offset="0.390" stop-color="#b0d775"/><stop offset="0.540" stop-color="#9bd17f"/><stop offset="0.616" stop-color="#77c38f"/><stop offset="0.693" stop-color="#5db298"/><stop offset="0.742" stop-color="#58a19c"/><stop offset="0.782" stop-color="#5b929c"/><stop offset="0.918" stop-color="#60819a"/><stop offset="0.982" stop-color="#657096"/><stop offset="1.000" stop-color="#666a94"/></linearGradient><linearGradient id="fb1" x1="0" y1="435.2" x2="0" y2="678.5" gradientUnits="userSpaceOnUse"><stop offset="0.000" stop-color="#f4e66b"/><stop offset="0.110" stop-color="#dce162"/><stop offset="0.217" stop-color="#c6dc69"/><stop offset="0.390" stop-color="#b0d775"/><stop offset="0.540" stop-color="#9bd17f"/><stop offset="0.616" stop-color="#77c38f"/><stop offset="0.693" stop-color="#5db298"/><stop offset="0.742" stop-color="#58a19c"/><stop offset="0.781" stop-color="#5b929c"/><stop offset="0.916" stop-color="#60819a"/><stop offset="0.984" stop-color="#657096"/><stop offset="1.000" stop-color="#666b94"/></linearGradient><linearGradient id="fb2" x1="0" y1="435.2" x2="0" y2="678.5" gradientUnits="userSpaceOnUse"><stop offset="0.000" stop-color="#f4e66b"/><stop offset="0.110" stop-color="#dce162"/><stop offset="0.219" stop-color="#c6dc69"/><stop offset="0.390" stop-color="#b0d775"/><stop offset="0.540" stop-color="#9bd17f"/><stop offset="0.616" stop-color="#77c38f"/><stop offset="0.693" stop-color="#5db298"/><stop offset="0.742" stop-color="#58a19c"/><stop offset="0.781" stop-color="#5b929c"/><stop offset="0.914" stop-color="#60819a"/><stop offset="0.986" stop-color="#657096"/><stop offset="1.000" stop-color="#666c94"/></linearGradient><linearGradient id="fb3" x1="0" y1="435.2" x2="0" y2="678.5" gradientUnits="userSpaceOnUse"><stop offset="0.000" stop-color="#f4e66b"/><stop offset="0.110" stop-color="#dce162"/><stop offset="0.222" stop-color="#c6dc69"/><stop offset="0.390" stop-color="#b0d775"/><stop offset="0.540" stop-color="#9bd17f"/><stop offset="0.616" stop-color="#77c38f"/><stop offset="0.693" stop-color="#5db298"/><stop offset="0.742" stop-color="#58a19c"/><stop offset="0.781" stop-color="#5b929c"/><stop offset="0.912" stop-color="#60819a"/><stop offset="0.987" stop-color="#657096"/><stop offset="1.000" stop-color="#666d95"/></linearGradient><linearGradient id="fb4" x1="0" y1="435.2" x2="0" y2="678.5" gradientUnits="userSpaceOnUse"><stop offset="0.000" stop-color="#f4e66b"/><stop offset="0.110" stop-color="#dce162"/><stop offset="0.224" stop-color="#c6dc69"/><stop offset="0.390" stop-color="#b0d775"/><stop offset="0.540" stop-color="#9bd17f"/><stop offset="0.616" stop-color="#77c38f"/><stop offset="0.693" stop-color="#5db298"/><stop offset="0.741" stop-color="#58a19c"/><stop offset="0.781" stop-color="#5b929c"/><stop offset="0.909" stop-color="#60819a"/><stop offset="0.989" stop-color="#657096"/><stop offset="1.000" stop-color="#666d95"/></linearGradient><linearGradient id="fb5" x1="0" y1="435.2" x2="0" y2="678.5" gradientUnits="userSpaceOnUse"><stop offset="0.000" stop-color="#f4e66b"/><stop offset="0.110" stop-color="#dce162"/><stop offset="0.227" stop-color="#c6dc69"/><stop offset="0.390" stop-color="#b0d775"/><stop offset="0.540" stop-color="#9bd17f"/><stop offset="0.616" stop-color="#77c38f"/><stop offset="0.693" stop-color="#5db298"/><stop offset="0.741" stop-color="#58a19c"/><stop offset="0.781" stop-color="#5b929c"/><stop offset="0.907" stop-color="#60819a"/><stop offset="0.990" stop-color="#657096"/><stop offset="1.000" stop-color="#666d95"/></linearGradient><linearGradient id="fb6" x1="0" y1="435.2" x2="0" y2="678.5" gradientUnits="userSpaceOnUse"><stop offset="0.000" stop-color="#f4e66b"/><stop offset="0.110" stop-color="#dce162"/><stop offset="0.230" stop-color="#c6dc69"/><stop offset="0.390" stop-color="#b0d775"/><stop offset="0.540" stop-color="#9bd17f"/><stop offset="0.616" stop-color="#77c38f"/><stop offset="0.693" stop-color="#5db298"/><stop offset="0.741" stop-color="#58a19c"/><stop offset="0.780" stop-color="#5b929c"/><stop offset="0.905" stop-color="#60819a"/><stop offset="0.992" stop-color="#657096"/><stop offset="1.000" stop-color="#656e95"/></linearGradient><linearGradient id="fb7" x1="0" y1="435.2" x2="0" y2="678.5" gradientUnits="userSpaceOnUse"><stop offset="0.000" stop-color="#f4e66b"/><stop offset="0.110" stop-color="#dce162"/><stop offset="0.232" stop-color="#c6dc69"/><stop offset="0.390" stop-color="#b0d775"/><stop offset="0.540" stop-color="#9bd17f"/><stop offset="0.616" stop-color="#77c38f"/><stop offset="0.694" stop-color="#5db298"/><stop offset="0.741" stop-color="#58a19c"/><stop offset="0.780" stop-color="#5b929c"/><stop offset="0.902" stop-color="#60819a"/><stop offset="0.994" stop-color="#657096"/><stop offset="1.000" stop-color="#656e95"/></linearGradient><linearGradient id="fb8" x1="0" y1="435.2" x2="0" y2="678.5" gradientUnits="userSpaceOnUse"><stop offset="0.000" stop-color="#f4e66b"/><stop offset="0.110" stop-color="#dce162"/><stop offset="0.235" stop-color="#c6dc69"/><stop offset="0.390" stop-color="#b0d775"/><stop offset="0.540" stop-color="#9bd17f"/><stop offset="0.616" stop-color="#77c38f"/><stop offset="0.694" stop-color="#5db298"/><stop offset="0.741" stop-color="#58a19c"/><stop offset="0.780" stop-color="#5b929c"/><stop offset="0.900" stop-color="#60819a"/><stop offset="0.995" stop-color="#657096"/><stop offset="1.000" stop-color="#656f96"/></linearGradient><linearGradient id="fb9" x1="0" y1="435.2" x2="0" y2="678.5" gradientUnits="userSpaceOnUse"><stop offset="0.000" stop-color="#f4e66b"/><stop offset="0.110" stop-color="#dce162"/><stop offset="0.238" stop-color="#c6dc69"/><stop offset="0.390" stop-color="#b0d775"/><stop offset="0.540" stop-color="#9bd17f"/><stop offset="0.616" stop-color="#77c38f"/><stop offset="0.694" stop-color="#5db298"/><stop offset="0.741" stop-color="#58a19c"/><stop offset="0.780" stop-color="#5b929c"/><stop offset="0.898" stop-color="#60819a"/><stop offset="0.997" stop-color="#657096"/><stop offset="1.000" stop-color="#656f96"/></linearGradient><linearGradient id="fb10" x1="0" y1="435.2" x2="0" y2="678.5" gradientUnits="userSpaceOnUse"><stop offset="0.000" stop-color="#f4e66b"/><stop offset="0.110" stop-color="#dce162"/><stop offset="0.241" stop-color="#c6dc69"/><stop offset="0.390" stop-color="#b0d775"/><stop offset="0.540" stop-color="#9bd17f"/><stop offset="0.616" stop-color="#77c38f"/><stop offset="0.694" stop-color="#5db298"/><stop offset="0.741" stop-color="#58a19c"/><stop offset="0.779" stop-color="#5b929c"/><stop offset="0.895" stop-color="#60819a"/><stop offset="0.999" stop-color="#657096"/><stop offset="1.000" stop-color="#657096"/></linearGradient><linearGradient id="fb11" x1="0" y1="435.2" x2="0" y2="678.5" gradientUnits="userSpaceOnUse"><stop offset="0.000" stop-color="#f4e66b"/><stop offset="0.110" stop-color="#dce162"/><stop offset="0.244" stop-color="#c6dc69"/><stop offset="0.390" stop-color="#b0d775"/><stop offset="0.540" stop-color="#9bd17f"/><stop offset="0.616" stop-color="#77c38f"/><stop offset="0.694" stop-color="#5db298"/><stop offset="0.741" stop-color="#58a19c"/><stop offset="0.779" stop-color="#5b929c"/><stop offset="0.893" stop-color="#60819a"/><stop offset="1.000" stop-color="#657096"/></linearGradient><linearGradient id="fb12" x1="0" y1="435.2" x2="0" y2="678.5" gradientUnits="userSpaceOnUse"><stop offset="0.000" stop-color="#f4e66b"/><stop offset="0.110" stop-color="#dce162"/><stop offset="0.247" stop-color="#c6dc69"/><stop offset="0.390" stop-color="#b0d775"/><stop offset="0.540" stop-color="#9bd17f"/><stop offset="0.616" stop-color="#77c38f"/><stop offset="0.694" stop-color="#5db298"/><stop offset="0.741" stop-color="#58a19c"/><stop offset="0.779" stop-color="#5b929c"/><stop offset="0.891" stop-color="#60819a"/><stop offset="1.000" stop-color="#657096"/></linearGradient><linearGradient id="fb13" x1="0" y1="435.2" x2="0" y2="678.5" gradientUnits="userSpaceOnUse"><stop offset="0.000" stop-color="#f4e66b"/><stop offset="0.110" stop-color="#dce162"/><stop offset="0.251" stop-color="#c6dc69"/><stop offset="0.390" stop-color="#b0d775"/><stop offset="0.540" stop-color="#9bd17f"/><stop offset="0.616" stop-color="#77c38f"/><stop offset="0.694" stop-color="#5db298"/><stop offset="0.741" stop-color="#58a19c"/><stop offset="0.779" stop-color="#5b929c"/><stop offset="0.888" stop-color="#60819a"/><stop offset="1.000" stop-color="#657196"/></linearGradient><linearGradient id="fb14" x1="0" y1="435.2" x2="0" y2="678.5" gradientUnits="userSpaceOnUse"><stop offset="0.000" stop-color="#f4e66b"/><stop offset="0.110" stop-color="#dce162"/><stop offset="0.254" stop-color="#c6dc69"/><stop offset="0.390" stop-color="#b0d775"/><stop offset="0.540" stop-color="#9bd17f"/><stop offset="0.616" stop-color="#77c38f"/><stop offset="0.694" stop-color="#5db298"/><stop offset="0.741" stop-color="#58a19c"/><stop offset="0.778" stop-color="#5b929c"/><stop offset="0.886" stop-color="#60819a"/><stop offset="1.000" stop-color="#657196"/></linearGradient><linearGradient id="fb15" x1="0" y1="435.2" x2="0" y2="678.5" gradientUnits="userSpaceOnUse"><stop offset="0.000" stop-color="#f4e66b"/><stop offset="0.110" stop-color="#dce162"/><stop offset="0.257" stop-color="#c6dc69"/><stop offset="0.390" stop-color="#b0d775"/><stop offset="0.540" stop-color="#9bd17f"/><stop offset="0.616" stop-color="#77c38f"/><stop offset="0.695" stop-color="#5db298"/><stop offset="0.741" stop-color="#58a19c"/><stop offset="0.778" stop-color="#5b929c"/><stop offset="0.884" stop-color="#60819a"/><stop offset="1.000" stop-color="#657196"/></linearGradient><linearGradient id="fb16" x1="0" y1="435.2" x2="0" y2="678.5" gradientUnits="userSpaceOnUse"><stop offset="0.000" stop-color="#f4e66b"/><stop offset="0.110" stop-color="#dce162"/><stop offset="0.261" stop-color="#c6dc69"/><stop offset="0.390" stop-color="#b0d775"/><stop offset="0.540" stop-color="#9bd17f"/><stop offset="0.616" stop-color="#77c38f"/><stop offset="0.695" stop-color="#5db298"/><stop offset="0.740" stop-color="#58a19c"/><stop offset="0.778" stop-color="#5b929c"/><stop offset="0.882" stop-color="#60819a"/><stop offset="1.000" stop-color="#657196"/></linearGradient><linearGradient id="fb17" x1="0" y1="435.2" x2="0" y2="678.5" gradientUnits="userSpaceOnUse"><stop offset="0.000" stop-color="#f4e66b"/><stop offset="0.110" stop-color="#dce162"/><stop offset="0.263" stop-color="#c6dc69"/><stop offset="0.390" stop-color="#b0d775"/><stop offset="0.540" stop-color="#9bd17f"/><stop offset="0.616" stop-color="#77c38f"/><stop offset="0.695" stop-color="#5db298"/><stop offset="0.740" stop-color="#58a19c"/><stop offset="0.778" stop-color="#5b929c"/><stop offset="0.879" stop-color="#60819a"/><stop offset="1.000" stop-color="#647196"/></linearGradient><linearGradient id="fb18" x1="0" y1="435.2" x2="0" y2="678.5" gradientUnits="userSpaceOnUse"><stop offset="0.000" stop-color="#f4e66b"/><stop offset="0.110" stop-color="#dce162"/><stop offset="0.265" stop-color="#c6dc69"/><stop offset="0.390" stop-color="#b0d775"/><stop offset="0.540" stop-color="#9bd17f"/><stop offset="0.616" stop-color="#77c38f"/><stop offset="0.695" stop-color="#5db298"/><stop offset="0.740" stop-color="#58a19c"/><stop offset="0.778" stop-color="#5b929c"/><stop offset="0.877" stop-color="#60819a"/><stop offset="1.000" stop-color="#647196"/></linearGradient><linearGradient id="fb19" x1="0" y1="435.2" x2="0" y2="678.5" gradientUnits="userSpaceOnUse"><stop offset="0.000" stop-color="#f4e66b"/><stop offset="0.110" stop-color="#dce162"/><stop offset="0.267" stop-color="#c6dc69"/><stop offset="0.390" stop-color="#b0d775"/><stop offset="0.540" stop-color="#9bd17f"/><stop offset="0.616" stop-color="#77c38f"/><stop offset="0.695" stop-color="#5db298"/><stop offset="0.740" stop-color="#58a19c"/><stop offset="0.777" stop-color="#5b929c"/><stop offset="0.875" stop-color="#60819a"/><stop offset="1.000" stop-color="#647196"/></linearGradient><linearGradient id="fb20" x1="0" y1="435.2" x2="0" y2="678.5" gradientUnits="userSpaceOnUse"><stop offset="0.000" stop-color="#f4e66b"/><stop offset="0.110" stop-color="#dce162"/><stop offset="0.268" stop-color="#c6dc69"/><stop offset="0.390" stop-color="#b0d775"/><stop offset="0.540" stop-color="#9bd17f"/><stop offset="0.616" stop-color="#77c38f"/><stop offset="0.695" stop-color="#5db298"/><stop offset="0.740" stop-color="#58a19c"/><stop offset="0.777" stop-color="#5b929c"/><stop offset="0.872" stop-color="#60819a"/><stop offset="1.000" stop-color="#647196"/></linearGradient><linearGradient id="fb21" x1="0" y1="435.2" x2="0" y2="678.5" gradientUnits="userSpaceOnUse"><stop offset="0.000" stop-color="#f4e66b"/><stop offset="0.110" stop-color="#dce162"/><stop offset="0.270" stop-color="#c6dc69"/><stop offset="0.390" stop-color="#b0d775"/><stop offset="0.540" stop-color="#9bd17f"/><stop offset="0.616" stop-color="#77c38f"/><stop offset="0.695" stop-color="#5db298"/><stop offset="0.740" stop-color="#58a19c"/><stop offset="0.777" stop-color="#5b929c"/><stop offset="0.870" stop-color="#60819a"/><stop offset="1.000" stop-color="#647297"/></linearGradient><linearGradient id="fb22" x1="0" y1="435.2" x2="0" y2="678.5" gradientUnits="userSpaceOnUse"><stop offset="0.000" stop-color="#f4e66b"/><stop offset="0.110" stop-color="#dce162"/><stop offset="0.271" stop-color="#c6dc69"/><stop offset="0.390" stop-color="#b0d775"/><stop offset="0.540" stop-color="#9bd17f"/><stop offset="0.616" stop-color="#77c38f"/><stop offset="0.696" stop-color="#5db298"/><stop offset="0.740" stop-color="#58a19c"/><stop offset="0.777" stop-color="#5b929c"/><stop offset="0.868" stop-color="#60819a"/><stop offset="1.000" stop-color="#647297"/></linearGradient><linearGradient id="fb23" x1="0" y1="435.2" x2="0" y2="678.5" gradientUnits="userSpaceOnUse"><stop offset="0.000" stop-color="#f4e66b"/><stop offset="0.110" stop-color="#dce162"/><stop offset="0.273" stop-color="#c6dc69"/><stop offset="0.390" stop-color="#b0d775"/><stop offset="0.540" stop-color="#9bd17f"/><stop offset="0.616" stop-color="#77c38f"/><stop offset="0.696" stop-color="#5db298"/><stop offset="0.740" stop-color="#58a19c"/><stop offset="0.776" stop-color="#5b929c"/><stop offset="0.865" stop-color="#60819a"/><stop offset="1.000" stop-color="#647297"/></linearGradient><linearGradient id="fb24" x1="0" y1="435.2" x2="0" y2="678.5" gradientUnits="userSpaceOnUse"><stop offset="0.000" stop-color="#f4e66b"/><stop offset="0.110" stop-color="#dce162"/><stop offset="0.275" stop-color="#c6dc69"/><stop offset="0.390" stop-color="#b0d775"/><stop offset="0.540" stop-color="#9bd17f"/><stop offset="0.616" stop-color="#77c38f"/><stop offset="0.696" stop-color="#5db298"/><stop offset="0.740" stop-color="#58a19c"/><stop offset="0.776" stop-color="#5b929c"/><stop offset="0.863" stop-color="#60819a"/><stop offset="1.000" stop-color="#647297"/></linearGradient><linearGradient id="fb25" x1="0" y1="435.2" x2="0" y2="678.5" gradientUnits="userSpaceOnUse"><stop offset="0.000" stop-color="#f4e66b"/><stop offset="0.110" stop-color="#dce162"/><stop offset="0.276" stop-color="#c6dc69"/><stop offset="0.390" stop-color="#b0d775"/><stop offset="0.540" stop-color="#9bd17f"/><stop offset="0.616" stop-color="#77c38f"/><stop offset="0.696" stop-color="#5db298"/><stop offset="0.740" stop-color="#58a19c"/><stop offset="0.776" stop-color="#5b929c"/><stop offset="0.861" stop-color="#60819a"/><stop offset="1.000" stop-color="#647297"/></linearGradient><linearGradient id="fb26" x1="0" y1="435.2" x2="0" y2="678.5" gradientUnits="userSpaceOnUse"><stop offset="0.000" stop-color="#f4e66b"/><stop offset="0.110" stop-color="#dce162"/><stop offset="0.278" stop-color="#c6dc69"/><stop offset="0.390" stop-color="#b0d775"/><stop offset="0.540" stop-color="#9bd17f"/><stop offset="0.616" stop-color="#77c38f"/><stop offset="0.696" stop-color="#5db298"/><stop offset="0.740" stop-color="#58a19c"/><stop offset="0.776" stop-color="#5b929c"/><stop offset="0.859" stop-color="#60819a"/><stop offset="1.000" stop-color="#647297"/></linearGradient><linearGradient id="fb27" x1="0" y1="435.2" x2="0" y2="678.5" gradientUnits="userSpaceOnUse"><stop offset="0.000" stop-color="#f4e66b"/><stop offset="0.110" stop-color="#dce162"/><stop offset="0.279" stop-color="#c6dc69"/><stop offset="0.390" stop-color="#b0d775"/><stop offset="0.540" stop-color="#9bd17f"/><stop offset="0.616" stop-color="#77c38f"/><stop offset="0.696" stop-color="#5db298"/><stop offset="0.740" stop-color="#58a19c"/><stop offset="0.776" stop-color="#5b929c"/><stop offset="0.856" stop-color="#60819a"/><stop offset="1.000" stop-color="#647397"/></linearGradient><linearGradient id="fb28" x1="0" y1="435.2" x2="0" y2="678.5" gradientUnits="userSpaceOnUse"><stop offset="0.000" stop-color="#f4e66b"/><stop offset="0.110" stop-color="#dce162"/><stop offset="0.280" stop-color="#c6dc69"/><stop offset="0.390" stop-color="#b0d775"/><stop offset="0.540" stop-color="#9bd17f"/><stop offset="0.616" stop-color="#77c38f"/><stop offset="0.696" stop-color="#5db298"/><stop offset="0.739" stop-color="#58a19c"/><stop offset="0.775" stop-color="#5b929c"/><stop offset="0.854" stop-color="#60819a"/><stop offset="1.000" stop-color="#647397"/></linearGradient><linearGradient id="fb29" x1="0" y1="435.2" x2="0" y2="678.5" gradientUnits="userSpaceOnUse"><stop offset="0.000" stop-color="#f4e66b"/><stop offset="0.110" stop-color="#dce162"/><stop offset="0.281" stop-color="#c6dc69"/><stop offset="0.390" stop-color="#b0d775"/><stop offset="0.540" stop-color="#9bd17f"/><stop offset="0.616" stop-color="#77c38f"/><stop offset="0.696" stop-color="#5db298"/><stop offset="0.739" stop-color="#58a19c"/><stop offset="0.775" stop-color="#5b929c"/><stop offset="0.852" stop-color="#60819a"/><stop offset="1.000" stop-color="#647397"/></linearGradient><linearGradient id="fb30" x1="0" y1="435.2" x2="0" y2="678.5" gradientUnits="userSpaceOnUse"><stop offset="0.000" stop-color="#f4e66b"/><stop offset="0.110" stop-color="#dce162"/><stop offset="0.281" stop-color="#c6dc69"/><stop offset="0.390" stop-color="#b0d775"/><stop offset="0.540" stop-color="#9bd17f"/><stop offset="0.616" stop-color="#77c38f"/><stop offset="0.697" stop-color="#5db298"/><stop offset="0.739" stop-color="#58a19c"/><stop offset="0.775" stop-color="#5b929c"/><stop offset="0.849" stop-color="#60819a"/><stop offset="1.000" stop-color="#647397"/></linearGradient><linearGradient id="fb31" x1="0" y1="435.2" x2="0" y2="678.5" gradientUnits="userSpaceOnUse"><stop offset="0.000" stop-color="#f4e66b"/><stop offset="0.110" stop-color="#dce162"/><stop offset="0.282" stop-color="#c6dc69"/><stop offset="0.390" stop-color="#b0d775"/><stop offset="0.540" stop-color="#9bd17f"/><stop offset="0.616" stop-color="#77c38f"/><stop offset="0.697" stop-color="#5db298"/><stop offset="0.739" stop-color="#58a19c"/><stop offset="0.775" stop-color="#5b929c"/><stop offset="0.847" stop-color="#60819a"/><stop offset="1.000" stop-color="#647397"/></linearGradient><linearGradient id="fb32" x1="0" y1="435.2" x2="0" y2="678.5" gradientUnits="userSpaceOnUse"><stop offset="0.000" stop-color="#f4e66b"/><stop offset="0.110" stop-color="#dce162"/><stop offset="0.283" stop-color="#c6dc69"/><stop offset="0.390" stop-color="#b0d775"/><stop offset="0.540" stop-color="#9bd17f"/><stop offset="0.616" stop-color="#77c38f"/><stop offset="0.697" stop-color="#5db298"/><stop offset="0.739" stop-color="#58a19c"/><stop offset="0.774" stop-color="#5b929c"/><stop offset="0.845" stop-color="#60819a"/><stop offset="1.000" stop-color="#647397"/></linearGradient><linearGradient id="fb33" x1="0" y1="435.2" x2="0" y2="678.5" gradientUnits="userSpaceOnUse"><stop offset="0.000" stop-color="#f4e66b"/><stop offset="0.110" stop-color="#dce162"/><stop offset="0.284" stop-color="#c6dc69"/><stop offset="0.390" stop-color="#b0d775"/><stop offset="0.540" stop-color="#9bd17f"/><stop offset="0.616" stop-color="#77c38f"/><stop offset="0.697" stop-color="#5db298"/><stop offset="0.739" stop-color="#58a19c"/><stop offset="0.774" stop-color="#5b929c"/><stop offset="0.842" stop-color="#60819a"/><stop offset="1.000" stop-color="#647397"/></linearGradient><linearGradient id="fb34" x1="0" y1="435.2" x2="0" y2="678.5" gradientUnits="userSpaceOnUse"><stop offset="0.000" stop-color="#f4e66b"/><stop offset="0.110" stop-color="#dce162"/><stop offset="0.284" stop-color="#c6dc69"/><stop offset="0.390" stop-color="#b0d775"/><stop offset="0.540" stop-color="#9bd17f"/><stop offset="0.616" stop-color="#77c38f"/><stop offset="0.697" stop-color="#5db298"/><stop offset="0.739" stop-color="#58a19c"/><stop offset="0.774" stop-color="#5b929c"/><stop offset="0.840" stop-color="#60819a"/><stop offset="1.000" stop-color="#647397"/></linearGradient><linearGradient id="fb35" x1="0" y1="435.2" x2="0" y2="678.5" gradientUnits="userSpaceOnUse"><stop offset="0.000" stop-color="#f4e66b"/><stop offset="0.110" stop-color="#dce162"/><stop offset="0.285" stop-color="#c6dc69"/><stop offset="0.390" stop-color="#b0d775"/><stop offset="0.539" stop-color="#9bd17f"/><stop offset="0.616" stop-color="#77c38f"/><stop offset="0.697" stop-color="#5db298"/><stop offset="0.739" stop-color="#58a19c"/><stop offset="0.774" stop-color="#5b929c"/><stop offset="0.838" stop-color="#60819a"/><stop offset="1.000" stop-color="#647497"/></linearGradient><linearGradient id="fb36" x1="0" y1="435.2" x2="0" y2="678.5" gradientUnits="userSpaceOnUse"><stop offset="0.000" stop-color="#f4e66b"/><stop offset="0.110" stop-color="#dce162"/><stop offset="0.286" stop-color="#c6dc69"/><stop offset="0.390" stop-color="#b0d775"/><stop offset="0.537" stop-color="#9bd17f"/><stop offset="0.616" stop-color="#77c38f"/><stop offset="0.697" stop-color="#5db298"/><stop offset="0.739" stop-color="#58a19c"/><stop offset="0.774" stop-color="#5b929c"/><stop offset="0.835" stop-color="#60819a"/><stop offset="1.000" stop-color="#647497"/></linearGradient><linearGradient id="fb37" x1="0" y1="435.2" x2="0" y2="678.5" gradientUnits="userSpaceOnUse"><stop offset="0.000" stop-color="#f4e66b"/><stop offset="0.110" stop-color="#dce162"/><stop offset="0.287" stop-color="#c6dc69"/><stop offset="0.390" stop-color="#b0d775"/><stop offset="0.535" stop-color="#9bd17f"/><stop offset="0.616" stop-color="#77c38f"/><stop offset="0.697" stop-color="#5db298"/><stop offset="0.739" stop-color="#58a19c"/><stop offset="0.773" stop-color="#5b929c"/><stop offset="0.833" stop-color="#60819a"/><stop offset="1.000" stop-color="#647497"/></linearGradient><linearGradient id="fb38" x1="0" y1="435.2" x2="0" y2="678.5" gradientUnits="userSpaceOnUse"><stop offset="0.000" stop-color="#f4e66b"/><stop offset="0.110" stop-color="#dce162"/><stop offset="0.288" stop-color="#c6dc69"/><stop offset="0.390" stop-color="#b0d775"/><stop offset="0.533" stop-color="#9bd17f"/><stop offset="0.616" stop-color="#77c38f"/><stop offset="0.698" stop-color="#5db298"/><stop offset="0.739" stop-color="#58a19c"/><stop offset="0.773" stop-color="#5b929c"/><stop offset="0.831" stop-color="#60819a"/><stop offset="1.000" stop-color="#647497"/></linearGradient><linearGradient id="fb39" x1="0" y1="435.2" x2="0" y2="678.5" gradientUnits="userSpaceOnUse"><stop offset="0.000" stop-color="#f4e66b"/><stop offset="0.110" stop-color="#dce162"/><stop offset="0.288" stop-color="#c6dc69"/><stop offset="0.390" stop-color="#b0d775"/><stop offset="0.531" stop-color="#9bd17f"/><stop offset="0.616" stop-color="#77c38f"/><stop offset="0.698" stop-color="#5db298"/><stop offset="0.738" stop-color="#58a19c"/><stop offset="0.773" stop-color="#5b929c"/><stop offset="0.829" stop-color="#60819a"/><stop offset="1.000" stop-color="#647497"/></linearGradient><linearGradient id="fb40" x1="0" y1="435.2" x2="0" y2="678.5" gradientUnits="userSpaceOnUse"><stop offset="0.000" stop-color="#f4e66b"/><stop offset="0.110" stop-color="#dce162"/><stop offset="0.289" stop-color="#c6dc69"/><stop offset="0.390" stop-color="#b0d775"/><stop offset="0.529" stop-color="#9bd17f"/><stop offset="0.616" stop-color="#77c38f"/><stop offset="0.698" stop-color="#5db298"/><stop offset="0.738" stop-color="#58a19c"/><stop offset="0.773" stop-color="#5b929c"/><stop offset="0.826" stop-color="#60819a"/><stop offset="1.000" stop-color="#647497"/></linearGradient><linearGradient id="fb41" x1="0" y1="435.2" x2="0" y2="678.5" gradientUnits="userSpaceOnUse"><stop offset="0.000" stop-color="#f4e66b"/><stop offset="0.110" stop-color="#dce162"/><stop offset="0.289" stop-color="#c6dc69"/><stop offset="0.390" stop-color="#b0d775"/><stop offset="0.527" stop-color="#9bd17f"/><stop offset="0.616" stop-color="#77c38f"/><stop offset="0.698" stop-color="#5db298"/><stop offset="0.738" stop-color="#58a19c"/><stop offset="0.772" stop-color="#5b929c"/><stop offset="0.825" stop-color="#60819a"/><stop offset="1.000" stop-color="#647497"/></linearGradient><linearGradient id="fb42" x1="0" y1="435.2" x2="0" y2="678.5" gradientUnits="userSpaceOnUse"><stop offset="0.000" stop-color="#f4e66b"/><stop offset="0.110" stop-color="#dce162"/><stop offset="0.290" stop-color="#c6dc69"/><stop offset="0.390" stop-color="#b0d775"/><stop offset="0.525" stop-color="#9bd17f"/><stop offset="0.616" stop-color="#77c38f"/><stop offset="0.698" stop-color="#5db298"/><stop offset="0.738" stop-color="#58a19c"/><stop offset="0.772" stop-color="#5b929c"/><stop offset="0.824" stop-color="#60819a"/><stop offset="1.000" stop-color="#647497"/></linearGradient><linearGradient id="fb43" x1="0" y1="435.2" x2="0" y2="678.5" gradientUnits="userSpaceOnUse"><stop offset="0.000" stop-color="#f4e66b"/><stop offset="0.110" stop-color="#dce162"/><stop offset="0.290" stop-color="#c6dc69"/><stop offset="0.390" stop-color="#b0d775"/><stop offset="0.523" stop-color="#9bd17f"/><stop offset="0.616" stop-color="#77c38f"/><stop offset="0.699" stop-color="#5db298"/><stop offset="0.738" stop-color="#58a19c"/><stop offset="0.772" stop-color="#5b929c"/><stop offset="0.823" stop-color="#60819a"/><stop offset="1.000" stop-color="#647497"/></linearGradient><linearGradient id="fb44" x1="0" y1="435.2" x2="0" y2="678.5" gradientUnits="userSpaceOnUse"><stop offset="0.000" stop-color="#f4e66b"/><stop offset="0.110" stop-color="#dce162"/><stop offset="0.290" stop-color="#c6dc69"/><stop offset="0.390" stop-color="#b0d775"/><stop offset="0.521" stop-color="#9bd17f"/><stop offset="0.616" stop-color="#77c38f"/><stop offset="0.699" stop-color="#5db298"/><stop offset="0.738" stop-color="#58a19c"/><stop offset="0.772" stop-color="#5b929c"/><stop offset="0.823" stop-color="#60819a"/><stop offset="1.000" stop-color="#647497"/></linearGradient><linearGradient id="fb45" x1="0" y1="435.2" x2="0" y2="678.5" gradientUnits="userSpaceOnUse"><stop offset="0.000" stop-color="#f4e66b"/><stop offset="0.110" stop-color="#dce162"/><stop offset="0.290" stop-color="#c6dc69"/><stop offset="0.390" stop-color="#b0d775"/><stop offset="0.519" stop-color="#9bd17f"/><stop offset="0.616" stop-color="#77c38f"/><stop offset="0.699" stop-color="#5db298"/><stop offset="0.738" stop-color="#58a19c"/><stop offset="0.772" stop-color="#5b929c"/><stop offset="0.822" stop-color="#60819a"/><stop offset="1.000" stop-color="#637597"/></linearGradient><linearGradient id="fb46" x1="0" y1="435.2" x2="0" y2="678.5" gradientUnits="userSpaceOnUse"><stop offset="0.000" stop-color="#f4e66b"/><stop offset="0.110" stop-color="#dce162"/><stop offset="0.290" stop-color="#c6dc69"/><stop offset="0.390" stop-color="#b0d775"/><stop offset="0.517" stop-color="#9bd17f"/><stop offset="0.616" stop-color="#77c38f"/><stop offset="0.700" stop-color="#5db298"/><stop offset="0.738" stop-color="#58a19c"/><stop offset="0.771" stop-color="#5b929c"/><stop offset="0.821" stop-color="#60819a"/><stop offset="1.000" stop-color="#637597"/></linearGradient><linearGradient id="fb47" x1="0" y1="435.2" x2="0" y2="678.5" gradientUnits="userSpaceOnUse"><stop offset="0.000" stop-color="#f4e66b"/><stop offset="0.110" stop-color="#dce162"/><stop offset="0.290" stop-color="#c6dc69"/><stop offset="0.390" stop-color="#b0d775"/><stop offset="0.515" stop-color="#9bd17f"/><stop offset="0.616" stop-color="#77c38f"/><stop offset="0.700" stop-color="#5db298"/><stop offset="0.738" stop-color="#58a19c"/><stop offset="0.771" stop-color="#5b929c"/><stop offset="0.820" stop-color="#60819a"/><stop offset="1.000" stop-color="#637597"/></linearGradient><linearGradient id="fb48" x1="0" y1="435.2" x2="0" y2="678.5" gradientUnits="userSpaceOnUse"><stop offset="0.000" stop-color="#f4e66b"/><stop offset="0.110" stop-color="#dce162"/><stop offset="0.290" stop-color="#c6dc69"/><stop offset="0.390" stop-color="#b0d775"/><stop offset="0.513" stop-color="#9bd17f"/><stop offset="0.616" stop-color="#77c38f"/><stop offset="0.700" stop-color="#5db298"/><stop offset="0.738" stop-color="#58a19c"/><stop offset="0.771" stop-color="#5b929c"/><stop offset="0.820" stop-color="#60819a"/><stop offset="1.000" stop-color="#637698"/></linearGradient><linearGradient id="fb49" x1="0" y1="435.2" x2="0" y2="678.5" gradientUnits="userSpaceOnUse"><stop offset="0.000" stop-color="#f4e66b"/><stop offset="0.110" stop-color="#dce162"/><stop offset="0.290" stop-color="#c6dc69"/><stop offset="0.390" stop-color="#b0d775"/><stop offset="0.512" stop-color="#9bd17f"/><stop offset="0.616" stop-color="#77c38f"/><stop offset="0.701" stop-color="#5db298"/><stop offset="0.738" stop-color="#58a19c"/><stop offset="0.771" stop-color="#5b929c"/><stop offset="0.819" stop-color="#60819a"/><stop offset="1.000" stop-color="#637698"/></linearGradient><linearGradient id="fb50" x1="0" y1="435.2" x2="0" y2="678.5" gradientUnits="userSpaceOnUse"><stop offset="0.000" stop-color="#f4e66b"/><stop offset="0.110" stop-color="#dce162"/><stop offset="0.290" stop-color="#c6dc69"/><stop offset="0.390" stop-color="#b0d775"/><stop offset="0.510" stop-color="#9bd17f"/><stop offset="0.616" stop-color="#77c38f"/><stop offset="0.701" stop-color="#5db298"/><stop offset="0.738" stop-color="#58a19c"/><stop offset="0.770" stop-color="#5b929c"/><stop offset="0.818" stop-color="#60819a"/><stop offset="1.000" stop-color="#637698"/></linearGradient><linearGradient id="fb51" x1="0" y1="435.2" x2="0" y2="678.5" gradientUnits="userSpaceOnUse"><stop offset="0.000" stop-color="#f4e66b"/><stop offset="0.110" stop-color="#dce162"/><stop offset="0.290" stop-color="#c6dc69"/><stop offset="0.390" stop-color="#b0d775"/><stop offset="0.508" stop-color="#9bd17f"/><stop offset="0.616" stop-color="#77c38f"/><stop offset="0.701" stop-color="#5db298"/><stop offset="0.737" stop-color="#58a19c"/><stop offset="0.770" stop-color="#5b929c"/><stop offset="0.817" stop-color="#60819a"/><stop offset="1.000" stop-color="#637798"/></linearGradient><linearGradient id="fb52" x1="0" y1="435.2" x2="0" y2="678.5" gradientUnits="userSpaceOnUse"><stop offset="0.000" stop-color="#f4e66b"/><stop offset="0.110" stop-color="#dce162"/><stop offset="0.290" stop-color="#c6dc69"/><stop offset="0.390" stop-color="#b0d775"/><stop offset="0.507" stop-color="#9bd17f"/><stop offset="0.616" stop-color="#77c38f"/><stop offset="0.701" stop-color="#5db298"/><stop offset="0.737" stop-color="#58a19c"/><stop offset="0.770" stop-color="#5b929c"/><stop offset="0.817" stop-color="#60819a"/><stop offset="1.000" stop-color="#637798"/></linearGradient><linearGradient id="fb53" x1="0" y1="435.2" x2="0" y2="678.5" gradientUnits="userSpaceOnUse"><stop offset="0.000" stop-color="#f4e66b"/><stop offset="0.110" stop-color="#dce162"/><stop offset="0.291" stop-color="#c6dc69"/><stop offset="0.390" stop-color="#b0d775"/><stop offset="0.506" stop-color="#9bd17f"/><stop offset="0.616" stop-color="#77c38f"/><stop offset="0.702" stop-color="#5db298"/><stop offset="0.737" stop-color="#58a19c"/><stop offset="0.770" stop-color="#5b929c"/><stop offset="0.816" stop-color="#60819a"/><stop offset="1.000" stop-color="#637798"/></linearGradient><linearGradient id="fb54" x1="0" y1="435.2" x2="0" y2="678.5" gradientUnits="userSpaceOnUse"><stop offset="0.000" stop-color="#f4e66b"/><stop offset="0.110" stop-color="#dce162"/><stop offset="0.291" stop-color="#c6dc69"/><stop offset="0.390" stop-color="#b0d775"/><stop offset="0.505" stop-color="#9bd17f"/><stop offset="0.616" stop-color="#77c38f"/><stop offset="0.702" stop-color="#5db298"/><stop offset="0.737" stop-color="#58a19c"/><stop offset="0.770" stop-color="#5b929c"/><stop offset="0.815" stop-color="#60819a"/><stop offset="1.000" stop-color="#637798"/></linearGradient><linearGradient id="fb55" x1="0" y1="435.2" x2="0" y2="678.5" gradientUnits="userSpaceOnUse"><stop offset="0.000" stop-color="#f4e66b"/><stop offset="0.110" stop-color="#dce162"/><stop offset="0.291" stop-color="#c6dc69"/><stop offset="0.390" stop-color="#b0d775"/><stop offset="0.504" stop-color="#9bd17f"/><stop offset="0.616" stop-color="#77c38f"/><stop offset="0.702" stop-color="#5db298"/><stop offset="0.737" stop-color="#58a19c"/><stop offset="0.769" stop-color="#5b929c"/><stop offset="0.814" stop-color="#60819a"/><stop offset="1.000" stop-color="#637798"/></linearGradient><linearGradient id="fb56" x1="0" y1="435.2" x2="0" y2="678.5" gradientUnits="userSpaceOnUse"><stop offset="0.000" stop-color="#f4e66b"/><stop offset="0.110" stop-color="#dce162"/><stop offset="0.291" stop-color="#c6dc69"/><stop offset="0.390" stop-color="#b0d775"/><stop offset="0.503" stop-color="#9bd17f"/><stop offset="0.616" stop-color="#77c38f"/><stop offset="0.703" stop-color="#5db298"/><stop offset="0.737" stop-color="#58a19c"/><stop offset="0.769" stop-color="#5b929c"/><stop offset="0.814" stop-color="#60819a"/><stop offset="1.000" stop-color="#637798"/></linearGradient><linearGradient id="fb57" x1="0" y1="435.2" x2="0" y2="678.5" gradientUnits="userSpaceOnUse"><stop offset="0.000" stop-color="#f4e66b"/><stop offset="0.110" stop-color="#dce162"/><stop offset="0.291" stop-color="#c6dc69"/><stop offset="0.390" stop-color="#b0d775"/><stop offset="0.502" stop-color="#9bd17f"/><stop offset="0.616" stop-color="#77c38f"/><stop offset="0.703" stop-color="#5db298"/><stop offset="0.737" stop-color="#58a19c"/><stop offset="0.769" stop-color="#5b929c"/><stop offset="0.813" stop-color="#60819a"/><stop offset="1.000" stop-color="#637798"/></linearGradient><linearGradient id="fb58" x1="0" y1="435.2" x2="0" y2="678.5" gradientUnits="userSpaceOnUse"><stop offset="0.000" stop-color="#f4e66b"/><stop offset="0.110" stop-color="#dce162"/><stop offset="0.291" stop-color="#c6dc69"/><stop offset="0.390" stop-color="#b0d775"/><stop offset="0.501" stop-color="#9bd17f"/><stop offset="0.616" stop-color="#77c38f"/><stop offset="0.703" stop-color="#5db298"/><stop offset="0.737" stop-color="#58a19c"/><stop offset="0.769" stop-color="#5b929c"/><stop offset="0.812" stop-color="#60819a"/><stop offset="1.000" stop-color="#637798"/></linearGradient><linearGradient id="fb59" x1="0" y1="435.2" x2="0" y2="678.5" gradientUnits="userSpaceOnUse"><stop offset="0.000" stop-color="#f4e66b"/><stop offset="0.110" stop-color="#dce162"/><stop offset="0.291" stop-color="#c6dc69"/><stop offset="0.390" stop-color="#b0d775"/><stop offset="0.499" stop-color="#9bd17f"/><stop offset="0.616" stop-color="#77c38f"/><stop offset="0.704" stop-color="#5db298"/><stop offset="0.737" stop-color="#58a19c"/><stop offset="0.768" stop-color="#5b929c"/><stop offset="0.811" stop-color="#60819a"/><stop offset="1.000" stop-color="#637798"/></linearGradient><linearGradient id="fb60" x1="0" y1="435.2" x2="0" y2="678.5" gradientUnits="userSpaceOnUse"><stop offset="0.000" stop-color="#f4e66b"/><stop offset="0.110" stop-color="#dce162"/><stop offset="0.290" stop-color="#c6dc69"/><stop offset="0.390" stop-color="#b0d775"/><stop offset="0.498" stop-color="#9bd17f"/><stop offset="0.616" stop-color="#77c38f"/><stop offset="0.704" stop-color="#5db298"/><stop offset="0.737" stop-color="#58a19c"/><stop offset="0.768" stop-color="#5b929c"/><stop offset="0.811" stop-color="#60819a"/><stop offset="1.000" stop-color="#637798"/></linearGradient><linearGradient id="fb61" x1="0" y1="435.2" x2="0" y2="678.5" gradientUnits="userSpaceOnUse"><stop offset="0.000" stop-color="#f4e66b"/><stop offset="0.110" stop-color="#dce162"/><stop offset="0.290" stop-color="#c6dc69"/><stop offset="0.390" stop-color="#b0d775"/><stop offset="0.497" stop-color="#9bd17f"/><stop offset="0.616" stop-color="#77c38f"/><stop offset="0.704" stop-color="#5db298"/><stop offset="0.737" stop-color="#58a19c"/><stop offset="0.768" stop-color="#5b929c"/><stop offset="0.810" stop-color="#60819a"/><stop offset="1.000" stop-color="#627898"/></linearGradient><linearGradient id="fb62" x1="0" y1="435.2" x2="0" y2="678.5" gradientUnits="userSpaceOnUse"><stop offset="0.000" stop-color="#f4e66b"/><stop offset="0.110" stop-color="#dce162"/><stop offset="0.289" stop-color="#c6dc69"/><stop offset="0.390" stop-color="#b0d775"/><stop offset="0.496" stop-color="#9bd17f"/><stop offset="0.616" stop-color="#77c38f"/><stop offset="0.705" stop-color="#5db298"/><stop offset="0.736" stop-color="#58a19c"/><stop offset="0.768" stop-color="#5b929c"/><stop offset="0.809" stop-color="#60819a"/><stop offset="1.000" stop-color="#627898"/></linearGradient><linearGradient id="fb63" x1="0" y1="435.2" x2="0" y2="678.5" gradientUnits="userSpaceOnUse"><stop offset="0.000" stop-color="#f4e66b"/><stop offset="0.110" stop-color="#dce162"/><stop offset="0.288" stop-color="#c6dc69"/><stop offset="0.390" stop-color="#b0d775"/><stop offset="0.497" stop-color="#9bd17f"/><stop offset="0.616" stop-color="#77c38f"/><stop offset="0.705" stop-color="#5db298"/><stop offset="0.736" stop-color="#58a19c"/><stop offset="0.768" stop-color="#5b929c"/><stop offset="0.816" stop-color="#60819a"/><stop offset="1.000" stop-color="#627898"/></linearGradient><linearGradient id="fb64" x1="0" y1="435.2" x2="0" y2="678.5" gradientUnits="userSpaceOnUse"><stop offset="0.000" stop-color="#f4e66b"/><stop offset="0.110" stop-color="#dce162"/><stop offset="0.288" stop-color="#c6dc69"/><stop offset="0.390" stop-color="#b0d775"/><stop offset="0.498" stop-color="#9bd17f"/><stop offset="0.616" stop-color="#77c38f"/><stop offset="0.705" stop-color="#5db298"/><stop offset="0.736" stop-color="#58a19c"/><stop offset="0.767" stop-color="#5b929c"/><stop offset="0.829" stop-color="#60819a"/><stop offset="1.000" stop-color="#627998"/></linearGradient><linearGradient id="fb65" x1="0" y1="435.2" x2="0" y2="678.5" gradientUnits="userSpaceOnUse"><stop offset="0.000" stop-color="#f4e66b"/><stop offset="0.110" stop-color="#dce162"/><stop offset="0.287" stop-color="#c6dc69"/><stop offset="0.390" stop-color="#b0d775"/><stop offset="0.500" stop-color="#9bd17f"/><stop offset="0.616" stop-color="#77c38f"/><stop offset="0.705" stop-color="#5db298"/><stop offset="0.736" stop-color="#58a19c"/><stop offset="0.767" stop-color="#5b929c"/><stop offset="0.841" stop-color="#60819a"/><stop offset="1.000" stop-color="#627a98"/></linearGradient><linearGradient id="fb66" x1="0" y1="435.2" x2="0" y2="678.5" gradientUnits="userSpaceOnUse"><stop offset="0.000" stop-color="#f4e66b"/><stop offset="0.110" stop-color="#dce162"/><stop offset="0.287" stop-color="#c6dc69"/><stop offset="0.390" stop-color="#b0d775"/><stop offset="0.502" stop-color="#9bd17f"/><stop offset="0.616" stop-color="#77c38f"/><stop offset="0.706" stop-color="#5db298"/><stop offset="0.736" stop-color="#58a19c"/><stop offset="0.767" stop-color="#5b929c"/><stop offset="0.853" stop-color="#60819a"/><stop offset="1.000" stop-color="#627a98"/></linearGradient><linearGradient id="fb67" x1="0" y1="435.2" x2="0" y2="678.5" gradientUnits="userSpaceOnUse"><stop offset="0.000" stop-color="#f4e66b"/><stop offset="0.110" stop-color="#dce162"/><stop offset="0.286" stop-color="#c6dc69"/><stop offset="0.390" stop-color="#b0d775"/><stop offset="0.503" stop-color="#9bd17f"/><stop offset="0.616" stop-color="#77c38f"/><stop offset="0.706" stop-color="#5db298"/><stop offset="0.736" stop-color="#58a19c"/><stop offset="0.767" stop-color="#5b929c"/><stop offset="0.866" stop-color="#60819a"/><stop offset="1.000" stop-color="#627a99"/></linearGradient><linearGradient id="fb68" x1="0" y1="435.2" x2="0" y2="678.5" gradientUnits="userSpaceOnUse"><stop offset="0.000" stop-color="#f4e66b"/><stop offset="0.110" stop-color="#dce162"/><stop offset="0.286" stop-color="#c6dc69"/><stop offset="0.390" stop-color="#b0d775"/><stop offset="0.505" stop-color="#9bd17f"/><stop offset="0.616" stop-color="#77c38f"/><stop offset="0.706" stop-color="#5db298"/><stop offset="0.736" stop-color="#58a19c"/><stop offset="0.766" stop-color="#5b929c"/><stop offset="0.878" stop-color="#60819a"/><stop offset="1.000" stop-color="#617b99"/></linearGradient><linearGradient id="fb69" x1="0" y1="435.2" x2="0" y2="678.5" gradientUnits="userSpaceOnUse"><stop offset="0.000" stop-color="#f4e66b"/><stop offset="0.110" stop-color="#dce162"/><stop offset="0.285" stop-color="#c6dc69"/><stop offset="0.390" stop-color="#b0d775"/><stop offset="0.507" stop-color="#9bd17f"/><stop offset="0.616" stop-color="#77c38f"/><stop offset="0.707" stop-color="#5db298"/><stop offset="0.736" stop-color="#58a19c"/><stop offset="0.766" stop-color="#5b929c"/><stop offset="0.908" stop-color="#60819a"/><stop offset="1.000" stop-color="#617c99"/></linearGradient><linearGradient id="fb70" x1="0" y1="435.2" x2="0" y2="678.5" gradientUnits="userSpaceOnUse"><stop offset="0.000" stop-color="#f4e66b"/><stop offset="0.110" stop-color="#dce162"/><stop offset="0.285" stop-color="#c6dc69"/><stop offset="0.390" stop-color="#b0d775"/><stop offset="0.508" stop-color="#9bd17f"/><stop offset="0.616" stop-color="#77c38f"/><stop offset="0.707" stop-color="#5db298"/><stop offset="0.736" stop-color="#58a19c"/><stop offset="0.766" stop-color="#5b929c"/><stop offset="0.949" stop-color="#60819a"/><stop offset="1.000" stop-color="#607f99"/></linearGradient><linearGradient id="fb71" x1="0" y1="435.2" x2="0" y2="678.5" gradientUnits="userSpaceOnUse"><stop offset="0.000" stop-color="#f4e66b"/><stop offset="0.110" stop-color="#dce162"/><stop offset="0.284" stop-color="#c6dc69"/><stop offset="0.390" stop-color="#b0d775"/><stop offset="0.511" stop-color="#9bd17f"/><stop offset="0.616" stop-color="#77c38f"/><stop offset="0.707" stop-color="#5db298"/><stop offset="0.736" stop-color="#58a19c"/><stop offset="0.766" stop-color="#5b929c"/><stop offset="0.990" stop-color="#60819a"/><stop offset="1.000" stop-color="#60819a"/></linearGradient><linearGradient id="fb72" x1="0" y1="435.2" x2="0" y2="678.5" gradientUnits="userSpaceOnUse"><stop offset="0.000" stop-color="#f4e66b"/><stop offset="0.110" stop-color="#dce162"/><stop offset="0.283" stop-color="#c6dc69"/><stop offset="0.390" stop-color="#b0d775"/><stop offset="0.515" stop-color="#9bd17f"/><stop offset="0.616" stop-color="#77c38f"/><stop offset="0.708" stop-color="#5db298"/><stop offset="0.736" stop-color="#58a19c"/><stop offset="0.766" stop-color="#5b929c"/><stop offset="1.000" stop-color="#5f839a"/></linearGradient><linearGradient id="fb73" x1="0" y1="435.2" x2="0" y2="678.5" gradientUnits="userSpaceOnUse"><stop offset="0.000" stop-color="#f4e66b"/><stop offset="0.110" stop-color="#dce162"/><stop offset="0.283" stop-color="#c6dc69"/><stop offset="0.390" stop-color="#b0d775"/><stop offset="0.519" stop-color="#9bd17f"/><stop offset="0.616" stop-color="#77c38f"/><stop offset="0.708" stop-color="#5db298"/><stop offset="0.736" stop-color="#58a19c"/><stop offset="0.765" stop-color="#5b929c"/><stop offset="1.000" stop-color="#5f859a"/></linearGradient><linearGradient id="fb74" x1="0" y1="435.2" x2="0" y2="678.5" gradientUnits="userSpaceOnUse"><stop offset="0.000" stop-color="#f4e66b"/><stop offset="0.110" stop-color="#dce162"/><stop offset="0.282" stop-color="#c6dc69"/><stop offset="0.390" stop-color="#b0d775"/><stop offset="0.522" stop-color="#9bd17f"/><stop offset="0.616" stop-color="#77c38f"/><stop offset="0.708" stop-color="#5db298"/><stop offset="0.735" stop-color="#58a19c"/><stop offset="0.765" stop-color="#5b929c"/><stop offset="1.000" stop-color="#5e869b"/></linearGradient><linearGradient id="fb75" x1="0" y1="435.2" x2="0" y2="678.5" gradientUnits="userSpaceOnUse"><stop offset="0.000" stop-color="#f4e66b"/><stop offset="0.110" stop-color="#dce162"/><stop offset="0.282" stop-color="#c6dc69"/><stop offset="0.390" stop-color="#b0d775"/><stop offset="0.526" stop-color="#9bd17f"/><stop offset="0.616" stop-color="#77c38f"/><stop offset="0.709" stop-color="#5db298"/><stop offset="0.735" stop-color="#58a19c"/><stop offset="0.765" stop-color="#5b929c"/><stop offset="1.000" stop-color="#5e869b"/></linearGradient><linearGradient id="fb76" x1="0" y1="435.2" x2="0" y2="678.5" gradientUnits="userSpaceOnUse"><stop offset="0.000" stop-color="#f4e66b"/><stop offset="0.110" stop-color="#dce162"/><stop offset="0.281" stop-color="#c6dc69"/><stop offset="0.390" stop-color="#b0d775"/><stop offset="0.530" stop-color="#9bd17f"/><stop offset="0.616" stop-color="#77c38f"/><stop offset="0.709" stop-color="#5db298"/><stop offset="0.735" stop-color="#58a19c"/><stop offset="0.765" stop-color="#5b929c"/><stop offset="1.000" stop-color="#5e869b"/></linearGradient><linearGradient id="fb77" x1="0" y1="435.2" x2="0" y2="678.5" gradientUnits="userSpaceOnUse"><stop offset="0.000" stop-color="#f4e66b"/><stop offset="0.110" stop-color="#dce162"/><stop offset="0.281" stop-color="#c6dc69"/><stop offset="0.390" stop-color="#b0d775"/><stop offset="0.534" stop-color="#9bd17f"/><stop offset="0.616" stop-color="#77c38f"/><stop offset="0.709" stop-color="#5db298"/><stop offset="0.735" stop-color="#58a19c"/><stop offset="0.764" stop-color="#5b929c"/><stop offset="1.000" stop-color="#5e879b"/></linearGradient><linearGradient id="fb78" x1="0" y1="435.2" x2="0" y2="678.5" gradientUnits="userSpaceOnUse"><stop offset="0.000" stop-color="#f4e66b"/><stop offset="0.110" stop-color="#dce162"/><stop offset="0.280" stop-color="#c6dc69"/><stop offset="0.390" stop-color="#b0d775"/><stop offset="0.538" stop-color="#9bd17f"/><stop offset="0.616" stop-color="#77c38f"/><stop offset="0.709" stop-color="#5db298"/><stop offset="0.735" stop-color="#58a19c"/><stop offset="0.764" stop-color="#5b929c"/><stop offset="1.000" stop-color="#5e889b"/></linearGradient><linearGradient id="fb79" x1="0" y1="435.2" x2="0" y2="678.5" gradientUnits="userSpaceOnUse"><stop offset="0.000" stop-color="#f4e66b"/><stop offset="0.110" stop-color="#dce162"/><stop offset="0.280" stop-color="#c6dc69"/><stop offset="0.390" stop-color="#b0d775"/><stop offset="0.541" stop-color="#9bd17f"/><stop offset="0.616" stop-color="#77c38f"/><stop offset="0.710" stop-color="#5db298"/><stop offset="0.735" stop-color="#58a19c"/><stop offset="0.764" stop-color="#5b929c"/><stop offset="1.000" stop-color="#5e889b"/></linearGradient><linearGradient id="fb80" x1="0" y1="435.2" x2="0" y2="678.5" gradientUnits="userSpaceOnUse"><stop offset="0.000" stop-color="#f4e66b"/><stop offset="0.110" stop-color="#dce162"/><stop offset="0.279" stop-color="#c6dc69"/><stop offset="0.390" stop-color="#b0d775"/><stop offset="0.545" stop-color="#9bd17f"/><stop offset="0.616" stop-color="#77c38f"/><stop offset="0.710" stop-color="#5db298"/><stop offset="0.735" stop-color="#58a19c"/><stop offset="0.764" stop-color="#5b929c"/><stop offset="1.000" stop-color="#5e889b"/></linearGradient><linearGradient id="fb81" x1="0" y1="435.2" x2="0" y2="678.5" gradientUnits="userSpaceOnUse"><stop offset="0.000" stop-color="#f4e66b"/><stop offset="0.110" stop-color="#dce162"/><stop offset="0.279" stop-color="#c6dc69"/><stop offset="0.390" stop-color="#b0d775"/><stop offset="0.547" stop-color="#9bd17f"/><stop offset="0.616" stop-color="#77c38f"/><stop offset="0.710" stop-color="#5db298"/><stop offset="0.735" stop-color="#58a19c"/><stop offset="0.764" stop-color="#5b929c"/><stop offset="1.000" stop-color="#5e889b"/></linearGradient></defs>
<g shape-rendering="crispEdges"><rect x="82.3" y="77.8" width="5.6" height="198.7" fill="url(#fa0)"/><rect x="87.3" y="77.8" width="5.6" height="198.7" fill="url(#fa1)"/><rect x="92.3" y="77.8" width="5.6" height="198.7" fill="url(#fa2)"/><rect x="97.3" y="77.8" width="5.6" height="198.7" fill="url(#fa3)"/><rect x="102.3" y="77.8" width="5.6" height="198.7" fill="url(#fa4)"/><rect x="107.3" y="77.8" width="5.6" height="198.7" fill="url(#fa5)"/><rect x="112.3" y="77.8" width="5.6" height="198.7" fill="url(#fa6)"/><rect x="117.3" y="77.8" width="5.6" height="198.7" fill="url(#fa7)"/><rect x="122.3" y="77.8" width="5.6" height="198.7" fill="url(#fa8)"/><rect x="127.3" y="77.8" width="5.6" height="198.7" fill="url(#fa9)"/><rect x="132.3" y="77.8" width="5.6" height="198.7" fill="url(#fa10)"/><rect x="137.3" y="77.8" width="5.6" height="198.7" fill="url(#fa11)"/><rect x="142.3" y="77.8" width="5.6" height="198.7" fill="url(#fa12)"/><rect x="147.3" y="77.8" width="5.6" height="198.7" fill="url(#fa13)"/><rect x="152.3" y="77.8" width="5.6" height="198.7" fill="url(#fa14)"/><rect x="157.3" y="77.8" width="5.6" height="198.7" fill="url(#fa15)"/><rect x="162.3" y="77.8" width="5.6" height="198.7" fill="url(#fa16)"/><rect x="167.3" y="77.8" width="5.6" height="198.7" fill="url(#fa17)"/><rect x="172.3" y="77.8" width="5.6" height="198.7" fill="url(#fa18)"/><rect x="177.3" y="77.8" width="5.6" height="198.7" fill="url(#fa19)"/><rect x="182.3" y="77.8" width="5.6" height="198.7" fill="url(#fa20)"/><rect x="187.3" y="77.8" width="5.6" height="198.7" fill="url(#fa21)"/><rect x="192.3" y="77.8" width="5.6" height="198.7" fill="url(#fa22)"/><rect x="197.3" y="77.8" width="5.6" height="198.7" fill="url(#fa23)"/><rect x="202.3" y="77.8" width="5.6" height="198.7" fill="url(#fa24)"/><rect x="207.3" y="77.8" width="5.6" height="198.7" fill="url(#fa25)"/><rect x="212.3" y="77.8" width="5.6" height="198.7" fill="url(#fa26)"/><rect x="217.3" y="77.8" width="5.6" height="198.7" fill="url(#fa27)"/><rect x="222.3" y="77.8" width="5.6" height="198.7" fill="url(#fa28)"/><rect x="227.3" y="77.8" width="5.6" height="198.7" fill="url(#fa29)"/><rect x="232.3" y="77.8" width="5.6" height="198.7" fill="url(#fa30)"/><rect x="237.3" y="77.8" width="5.6" height="198.7" fill="url(#fa31)"/><rect x="242.3" y="77.8" width="5.6" height="198.7" fill="url(#fa32)"/><rect x="247.3" y="77.8" width="5.6" height="198.7" fill="url(#fa33)"/><rect x="252.3" y="77.8" width="5.6" height="198.7" fill="url(#fa34)"/><rect x="257.3" y="77.8" width="5.6" height="198.7" fill="url(#fa35)"/><rect x="262.3" y="77.8" width="5.6" height="198.7" fill="url(#fa36)"/><rect x="267.3" y="77.8" width="5.6" height="198.7" fill="url(#fa37)"/><rect x="272.3" y="77.8" width="5.6" height="198.7" fill="url(#fa38)"/><rect x="277.3" y="77.8" width="5.6" height="198.7" fill="url(#fa39)"/><rect x="282.3" y="77.8" width="5.6" height="198.7" fill="url(#fa40)"/><rect x="287.3" y="77.8" width="5.6" height="198.7" fill="url(#fa41)"/><rect x="292.3" y="77.8" width="5.6" height="198.7" fill="url(#fa42)"/><rect x="297.3" y="77.8" width="5.6" height="198.7" fill="url(#fa43)"/><rect x="302.3" y="77.8" width="5.6" height="198.7" fill="url(#fa44)"/><rect x="307.3" y="77.8" width="5.6" height="198.7" fill="url(#fa45)"/><rect x="312.3" y="77.8" width="5.6" height="198.7" fill="url(#fa46)"/><rect x="317.3" y="77.8" width="5.6" height="198.7" fill="url(#fa47)"/><rect x="322.3" y="77.8" width="5.6" height="198.7" fill="url(#fa48)"/><rect x="327.3" y="77.8" width="5.6" height="198.7" fill="url(#fa49)"/><rect x="332.3" y="77.8" width="5.6" height="201.6" fill="url(#fa50)"/><rect x="337.3" y="77.8" width="5.6" height="201.6" fill="url(#fa51)"/><rect x="342.3" y="77.8" width="5.6" height="201.6" fill="url(#fa52)"/><rect x="347.3" y="77.8" width="5.6" height="201.6" fill="url(#fa53)"/><rect x="352.3" y="77.8" width="5.6" height="201.6" fill="url(#fa54)"/><rect x="357.3" y="77.8" width="5.6" height="201.6" fill="url(#fa55)"/><rect x="362.3" y="77.8" width="5.6" height="201.6" fill="url(#fa56)"/><rect x="367.3" y="77.8" width="5.6" height="201.6" fill="url(#fa57)"/><rect x="372.3" y="77.8" width="5.6" height="201.6" fill="url(#fa58)"/><rect x="377.3" y="77.8" width="5.6" height="201.6" fill="url(#fa59)"/><rect x="382.3" y="77.8" width="5.6" height="201.6" fill="url(#fa60)"/><rect x="387.3" y="77.8" width="5.6" height="201.6" fill="url(#fa61)"/><rect x="392.3" y="77.8" width="5.6" height="201.6" fill="url(#fa62)"/><rect x="397.3" y="77.8" width="5.6" height="201.6" fill="url(#fa63)"/><rect x="402.3" y="77.8" width="5.6" height="201.6" fill="url(#fa64)"/><rect x="407.3" y="77.8" width="5.6" height="201.6" fill="url(#fa65)"/><rect x="412.3" y="77.8" width="5.6" height="201.6" fill="url(#fa66)"/><rect x="417.3" y="77.8" width="5.6" height="201.6" fill="url(#fa67)"/><rect x="422.3" y="77.8" width="5.6" height="201.6" fill="url(#fa68)"/><rect x="427.3" y="77.8" width="5.6" height="201.6" fill="url(#fa69)"/><rect x="432.3" y="77.8" width="5.6" height="201.6" fill="url(#fa70)"/><rect x="437.3" y="77.8" width="5.6" height="201.6" fill="url(#fa71)"/><rect x="442.3" y="77.8" width="5.6" height="201.6" fill="url(#fa72)"/><rect x="447.3" y="77.8" width="5.6" height="201.6" fill="url(#fa73)"/><rect x="452.3" y="77.8" width="5.6" height="201.6" fill="url(#fa74)"/><rect x="457.3" y="77.8" width="5.6" height="201.6" fill="url(#fa75)"/><rect x="462.3" y="77.8" width="5.6" height="201.6" fill="url(#fa76)"/><rect x="467.3" y="77.8" width="5.6" height="201.6" fill="url(#fa77)"/><rect x="472.3" y="77.8" width="5.6" height="201.6" fill="url(#fa78)"/><rect x="477.3" y="77.8" width="5.6" height="201.6" fill="url(#fa79)"/><rect x="482.3" y="77.8" width="5.6" height="201.6" fill="url(#fa80)"/><rect x="487.3" y="77.8" width="5.6" height="201.6" fill="url(#fa81)"/><rect x="492.3" y="77.8" width="5.6" height="201.6" fill="url(#fa82)"/><rect x="497.3" y="77.8" width="5.6" height="201.6" fill="url(#fa83)"/><rect x="502.3" y="77.8" width="5.6" height="201.6" fill="url(#fa84)"/><rect x="507.3" y="77.8" width="5.6" height="201.6" fill="url(#fa85)"/><rect x="512.3" y="77.8" width="0.8" height="201.6" fill="url(#fa86)"/><rect x="125.5" y="435.2" width="5.6" height="243.3" fill="url(#fb0)"/><rect x="130.5" y="435.2" width="5.6" height="243.3" fill="url(#fb1)"/><rect x="135.5" y="435.2" width="5.6" height="243.3" fill="url(#fb2)"/><rect x="140.5" y="435.2" width="5.6" height="243.3" fill="url(#fb3)"/><rect x="145.5" y="435.2" width="5.6" height="243.3" fill="url(#fb4)"/><rect x="150.5" y="435.2" width="5.6" height="243.3" fill="url(#fb5)"/><rect x="155.5" y="435.2" width="5.6" height="243.3" fill="url(#fb6)"/><rect x="160.5" y="435.2" width="5.6" height="243.3" fill="url(#fb7)"/><rect x="165.5" y="435.2" width="5.6" height="243.3" fill="url(#fb8)"/><rect x="170.5" y="435.2" width="5.6" height="243.3" fill="url(#fb9)"/><rect x="175.5" y="435.2" width="5.6" height="243.3" fill="url(#fb10)"/><rect x="180.5" y="435.2" width="5.6" height="243.3" fill="url(#fb11)"/><rect x="185.5" y="435.2" width="5.6" height="243.3" fill="url(#fb12)"/><rect x="190.5" y="435.2" width="5.6" height="243.3" fill="url(#fb13)"/><rect x="195.5" y="435.2" width="5.6" height="243.3" fill="url(#fb14)"/><rect x="200.5" y="435.2" width="5.6" height="243.3" fill="url(#fb15)"/><rect x="205.5" y="435.2" width="5.6" height="243.3" fill="url(#fb16)"/><rect x="210.5" y="435.2" width="5.6" height="243.3" fill="url(#fb17)"/><rect x="215.5" y="435.2" width="5.6" height="243.3" fill="url(#fb18)"/><rect x="220.5" y="435.2" width="5.6" height="243.3" fill="url(#fb19)"/><rect x="225.5" y="435.2" width="5.6" height="243.3" fill="url(#fb20)"/><rect x="230.5" y="435.2" width="5.6" height="243.3" fill="url(#fb21)"/><rect x="235.5" y="435.2" width="5.6" height="243.3" fill="url(#fb22)"/><rect x="240.5" y="435.2" width="5.6" height="243.3" fill="url(#fb23)"/><rect x="245.5" y="435.2" width="5.6" height="243.3" fill="url(#fb24)"/><rect x="250.5" y="435.2" width="5.6" height="243.3" fill="url(#fb25)"/><rect x="255.5" y="435.2" width="5.6" height="243.3" fill="url(#fb26)"/><rect x="260.5" y="435.2" width="5.6" height="243.3" fill="url(#fb27)"/><rect x="265.5" y="435.2" width="5.6" height="243.3" fill="url(#fb28)"/><rect x="270.5" y="435.2" width="5.6" height="243.3" fill="url(#fb29)"/><rect x="275.5" y="435.2" width="5.6" height="243.3" fill="url(#fb30)"/><rect x="280.5" y="435.2" width="5.6" height="243.3" fill="url(#fb31)"/><rect x="285.5" y="435.2" width="5.6" height="243.3" fill="url(#fb32)"/><rect x="290.5" y="435.2" width="5.6" height="243.3" fill="url(#fb33)"/><rect x="295.5" y="435.2" width="5.6" height="243.3" fill="url(#fb34)"/><rect x="300.5" y="435.2" width="5.6" height="243.3" fill="url(#fb35)"/><rect x="305.5" y="435.2" width="5.6" height="243.3" fill="url(#fb36)"/><rect x="310.5" y="435.2" width="5.6" height="243.3" fill="url(#fb37)"/><rect x="315.5" y="435.2" width="5.6" height="243.3" fill="url(#fb38)"/><rect x="320.5" y="435.2" width="5.6" height="243.3" fill="url(#fb39)"/><rect x="325.5" y="435.2" width="5.6" height="243.3" fill="url(#fb40)"/><rect x="330.5" y="435.2" width="5.6" height="243.3" fill="url(#fb41)"/><rect x="335.5" y="435.2" width="5.6" height="243.3" fill="url(#fb42)"/><rect x="340.5" y="435.2" width="5.6" height="243.3" fill="url(#fb43)"/><rect x="345.5" y="435.2" width="5.6" height="243.3" fill="url(#fb44)"/><rect x="350.5" y="435.2" width="5.6" height="243.3" fill="url(#fb45)"/><rect x="355.5" y="435.2" width="5.6" height="243.3" fill="url(#fb46)"/><rect x="360.5" y="435.2" width="5.6" height="243.3" fill="url(#fb47)"/><rect x="365.5" y="435.2" width="5.6" height="243.3" fill="url(#fb48)"/><rect x="370.5" y="435.2" width="5.6" height="243.3" fill="url(#fb49)"/><rect x="375.5" y="435.2" width="5.6" height="243.3" fill="url(#fb50)"/><rect x="380.5" y="435.2" width="5.6" height="243.3" fill="url(#fb51)"/><rect x="385.5" y="435.2" width="5.6" height="243.3" fill="url(#fb52)"/><rect x="390.5" y="435.2" width="5.6" height="243.3" fill="url(#fb53)"/><rect x="395.5" y="435.2" width="5.6" height="243.3" fill="url(#fb54)"/><rect x="400.5" y="435.2" width="5.6" height="243.3" fill="url(#fb55)"/><rect x="405.5" y="435.2" width="5.6" height="243.3" fill="url(#fb56)"/><rect x="410.5" y="435.2" width="5.6" height="243.3" fill="url(#fb57)"/><rect x="415.5" y="435.2" width="5.6" height="243.3" fill="url(#fb58)"/><rect x="420.5" y="435.2" width="5.6" height="243.3" fill="url(#fb59)"/><rect x="425.5" y="435.2" width="5.6" height="243.3" fill="url(#fb60)"/><rect x="430.5" y="435.2" width="5.6" height="243.3" fill="url(#fb61)"/><rect x="435.5" y="435.2" width="5.6" height="243.3" fill="url(#fb62)"/><rect x="440.5" y="435.2" width="5.6" height="243.3" fill="url(#fb63)"/><rect x="445.5" y="435.2" width="5.6" height="243.3" fill="url(#fb64)"/><rect x="450.5" y="435.2" width="5.6" height="243.3" fill="url(#fb65)"/><rect x="455.5" y="435.2" width="5.6" height="243.3" fill="url(#fb66)"/><rect x="460.5" y="435.2" width="5.6" height="243.3" fill="url(#fb67)"/><rect x="465.5" y="435.2" width="5.6" height="243.3" fill="url(#fb68)"/><rect x="470.5" y="435.2" width="5.6" height="243.3" fill="url(#fb69)"/><rect x="475.5" y="435.2" width="5.6" height="243.3" fill="url(#fb70)"/><rect x="480.5" y="435.2" width="5.6" height="243.3" fill="url(#fb71)"/><rect x="485.5" y="435.2" width="5.6" height="243.3" fill="url(#fb72)"/><rect x="490.5" y="435.2" width="5.6" height="243.3" fill="url(#fb73)"/><rect x="495.5" y="435.2" width="5.6" height="243.3" fill="url(#fb74)"/><rect x="500.5" y="435.2" width="5.6" height="243.3" fill="url(#fb75)"/><rect x="505.5" y="435.2" width="5.6" height="243.3" fill="url(#fb76)"/><rect x="510.5" y="435.2" width="5.6" height="243.3" fill="url(#fb77)"/><rect x="515.5" y="435.2" width="5.6" height="243.3" fill="url(#fb78)"/><rect x="520.5" y="435.2" width="5.6" height="243.3" fill="url(#fb79)"/><rect x="525.5" y="435.2" width="5.6" height="243.3" fill="url(#fb80)"/><rect x="530.5" y="435.2" width="1.5" height="243.3" fill="url(#fb81)"/></g>
<clipPath id="cpa"><path d="M82.3,77.8 H512.5 V279.4 H333.8 V276.5 H82.3 Z"/></clipPath>
<clipPath id="cpb"><rect x="125.5" y="435.2" width="405.9" height="243.3"/></clipPath>
<polygon clip-path="url(#cpa)" points="50.5,400.0 50.5,222.9 70.0,230.2 82.0,237.2 100.0,245.5 110.0,249.8 130.0,255.0 140.0,259.7 160.0,266.2 175.0,270.5 190.0,273.3 210.0,276.0 230.0,278.0 250.0,280.2 270.0,284.3 281.5,286.6 304.6,288.0 327.7,291.2 362.3,294.9 390.0,298.2 403.9,299.3 425.8,299.4 434.5,295.5 439.8,294.6 444.2,296.2 448.5,299.4 471.0,300.5 488.3,300.5 494.8,303.7 507.7,304.8 540.0,306.9 584.6,310.4 600.0,313.0 648.5,315.4 648.5,400.0" fill="#2030b0" opacity="0.3"/>
<polygon clip-path="url(#cpb)" points="50.5,800.0 50.5,638.6 58.6,641.8 71.5,646.2 82.3,650.5 93.1,654.8 106.0,659.1 116.8,662.3 125.4,667.0 136.2,669.8 146.9,672.0 168.5,675.2 187.8,678.5 218.0,679.6 245.0,681.5 268.0,684.6 295.0,686.2 317.7,690.0 359.3,692.7 400.8,696.3 411.9,696.9 420.2,694.4 425.7,692.7 432.7,695.5 439.6,697.7 480.5,699.0 486.3,701.9 518.5,703.4 577.0,706.9 600.4,709.8 648.5,712.2 648.5,800.0" fill="#2030b0" opacity="0.3"/>
<polyline points="50.5,222.9 70.0,230.2 82.0,237.2 100.0,245.5 110.0,249.8 130.0,255.0 140.0,259.7 160.0,266.2 175.0,270.5 190.0,273.3 210.0,276.0 230.0,278.0 250.0,280.2 270.0,284.3 281.5,286.6 304.6,288.0 327.7,291.2 362.3,294.9 390.0,298.2 403.9,299.3 425.8,299.4 434.5,295.5 439.8,294.6 444.2,296.2 448.5,299.4 471.0,300.5 488.3,300.5 494.8,303.7 507.7,304.8 540.0,306.9 584.6,310.4 600.0,313.0 648.5,315.4" fill="none" stroke="#3a3a3a" stroke-width="1.1"/>
<polyline points="50.5,305.3 90.0,301.4 117.3,299.4 140.0,300.6 200.0,299.1 250.0,299.5 270.0,302.8 283.8,305.8 316.2,306.9 343.9,305.1 373.9,305.1 396.9,302.3 420.0,301.8 428.0,302.0 438.8,300.5 464.6,300.5 488.3,300.9 494.8,304.1 503.4,308.0 520.6,311.9 526.0,314.5 648.5,314.5" fill="none" stroke="#3a3a3a" stroke-width="1.1"/>
<polyline points="50.5,638.6 58.6,641.8 71.5,646.2 82.3,650.5 93.1,654.8 106.0,659.1 116.8,662.3 125.4,667.0 136.2,669.8 146.9,672.0 168.5,675.2 187.8,678.5 218.0,679.6 245.0,681.5 268.0,684.6 295.0,686.2 317.7,690.0 359.3,692.7 400.8,696.3 411.9,696.9 420.2,694.4 425.7,692.7 432.7,695.5 439.6,697.7 480.5,699.0 486.3,701.9 518.5,703.4 577.0,706.9 600.4,709.8 648.5,712.2" fill="none" stroke="#3a3a3a" stroke-width="1.1"/>
<polyline points="50.5,699.4 82.3,697.2 114.6,698.5 146.9,697.8 190.0,696.8 218.0,698.0 245.0,700.8 264.0,703.8 295.0,704.6 326.0,701.9 373.0,700.5 420.2,699.0 428.5,697.1 470.0,697.7 480.5,698.1 489.2,705.7 495.1,707.8 509.7,709.2 518.5,712.7 648.5,712.7" fill="none" stroke="#3a3a3a" stroke-width="1.1"/>
<g fill="#8c8c8c"><circle cx="60.83" cy="65.1" r="1.35"/><circle cx="71.05" cy="65.1" r="1.35"/><circle cx="81.27" cy="65.1" r="1.35"/><circle cx="91.49" cy="65.1" r="1.35"/><circle cx="101.71" cy="65.1" r="1.35"/><circle cx="111.93" cy="65.1" r="1.35"/><circle cx="122.15" cy="65.1" r="1.35"/><circle cx="132.37" cy="65.1" r="1.35"/><circle cx="142.59" cy="65.1" r="1.35"/><circle cx="152.81" cy="65.1" r="1.35"/><circle cx="163.03" cy="65.1" r="1.35"/><circle cx="173.25" cy="65.1" r="1.35"/><circle cx="183.47" cy="65.1" r="1.35"/><circle cx="193.69" cy="65.1" r="1.35"/><circle cx="203.91" cy="65.1" r="1.35"/><circle cx="214.13" cy="65.1" r="1.35"/><circle cx="224.35" cy="65.1" r="1.35"/><circle cx="234.57" cy="65.1" r="1.35"/><circle cx="244.79" cy="65.1" r="1.35"/><circle cx="255.01" cy="65.1" r="1.35"/><circle cx="265.23" cy="65.1" r="1.35"/><circle cx="275.45" cy="65.1" r="1.35"/><circle cx="285.67" cy="65.1" r="1.35"/><circle cx="295.89" cy="65.1" r="1.35"/><circle cx="306.11" cy="65.1" r="1.35"/><circle cx="316.33" cy="65.1" r="1.35"/><circle cx="326.55" cy="65.1" r="1.35"/><circle cx="336.77" cy="65.1" r="1.35"/><circle cx="346.99" cy="65.1" r="1.35"/><circle cx="357.21" cy="65.1" r="1.35"/><circle cx="367.43" cy="65.1" r="1.35"/><circle cx="377.65" cy="65.1" r="1.35"/><circle cx="387.87" cy="65.1" r="1.35"/><circle cx="398.09" cy="65.1" r="1.35"/><circle cx="408.31" cy="65.1" r="1.35"/><circle cx="418.53" cy="65.1" r="1.35"/><circle cx="428.75" cy="65.1" r="1.35"/><circle cx="438.97" cy="65.1" r="1.35"/><circle cx="449.19" cy="65.1" r="1.35"/><circle cx="459.41" cy="65.1" r="1.35"/><circle cx="469.63" cy="65.1" r="1.35"/><circle cx="479.85" cy="65.1" r="1.35"/><circle cx="490.07" cy="65.1" r="1.35"/><circle cx="500.29" cy="65.1" r="1.35"/><circle cx="510.51" cy="65.1" r="1.35"/><circle cx="520.73" cy="65.1" r="1.35"/><circle cx="530.95" cy="65.1" r="1.35"/><circle cx="541.17" cy="65.1" r="1.35"/><circle cx="551.39" cy="65.1" r="1.35"/><circle cx="561.61" cy="65.1" r="1.35"/><circle cx="571.83" cy="65.1" r="1.35"/><circle cx="582.05" cy="65.1" r="1.35"/><circle cx="592.27" cy="65.1" r="1.35"/><circle cx="602.49" cy="65.1" r="1.35"/><circle cx="612.71" cy="65.1" r="1.35"/><circle cx="622.93" cy="65.1" r="1.35"/><circle cx="633.15" cy="65.1" r="1.35"/><circle cx="643.37" cy="65.1" r="1.35"/><circle cx="60.83" cy="462.5" r="1.35"/><circle cx="71.05" cy="462.5" r="1.35"/><circle cx="81.27" cy="462.5" r="1.35"/><circle cx="91.49" cy="462.5" r="1.35"/><circle cx="101.71" cy="462.5" r="1.35"/><circle cx="111.93" cy="462.5" r="1.35"/><circle cx="122.15" cy="462.5" r="1.35"/><circle cx="132.37" cy="462.5" r="1.35"/><circle cx="142.59" cy="462.5" r="1.35"/><circle cx="152.81" cy="462.5" r="1.35"/><circle cx="163.03" cy="462.5" r="1.35"/><circle cx="173.25" cy="462.5" r="1.35"/><circle cx="183.47" cy="462.5" r="1.35"/><circle cx="193.69" cy="462.5" r="1.35"/><circle cx="203.91" cy="462.5" r="1.35"/><circle cx="214.13" cy="462.5" r="1.35"/><circle cx="224.35" cy="462.5" r="1.35"/><circle cx="234.57" cy="462.5" r="1.35"/><circle cx="244.79" cy="462.5" r="1.35"/><circle cx="255.01" cy="462.5" r="1.35"/><circle cx="265.23" cy="462.5" r="1.35"/><circle cx="275.45" cy="462.5" r="1.35"/><circle cx="285.67" cy="462.5" r="1.35"/><circle cx="295.89" cy="462.5" r="1.35"/><circle cx="306.11" cy="462.5" r="1.35"/><circle cx="316.33" cy="462.5" r="1.35"/><circle cx="326.55" cy="462.5" r="1.35"/><circle cx="336.77" cy="462.5" r="1.35"/><circle cx="346.99" cy="462.5" r="1.35"/><circle cx="357.21" cy="462.5" r="1.35"/><circle cx="367.43" cy="462.5" r="1.35"/><circle cx="377.65" cy="462.5" r="1.35"/><circle cx="387.87" cy="462.5" r="1.35"/><circle cx="398.09" cy="462.5" r="1.35"/><circle cx="408.31" cy="462.5" r="1.35"/><circle cx="418.53" cy="462.5" r="1.35"/><circle cx="428.75" cy="462.5" r="1.35"/><circle cx="438.97" cy="462.5" r="1.35"/><circle cx="449.19" cy="462.5" r="1.35"/><circle cx="459.41" cy="462.5" r="1.35"/><circle cx="469.63" cy="462.5" r="1.35"/><circle cx="479.85" cy="462.5" r="1.35"/><circle cx="490.07" cy="462.5" r="1.35"/><circle cx="500.29" cy="462.5" r="1.35"/><circle cx="510.51" cy="462.5" r="1.35"/><circle cx="520.73" cy="462.5" r="1.35"/><circle cx="530.95" cy="462.5" r="1.35"/><circle cx="541.17" cy="462.5" r="1.35"/><circle cx="551.39" cy="462.5" r="1.35"/><circle cx="561.61" cy="462.5" r="1.35"/><circle cx="571.83" cy="462.5" r="1.35"/><circle cx="582.05" cy="462.5" r="1.35"/><circle cx="592.27" cy="462.5" r="1.35"/><circle cx="602.49" cy="462.5" r="1.35"/><circle cx="612.71" cy="462.5" r="1.35"/><circle cx="622.93" cy="462.5" r="1.35"/><circle cx="633.15" cy="462.5" r="1.35"/><circle cx="643.37" cy="462.5" r="1.35"/></g>
<g fill="none" stroke="#9c9c96" stroke-width="0.9" opacity="0.8"><polyline points="82.3,99.0 95.0,97.0 100.0,99.0"/><polyline points="100.0,119.0 130.0,120.0 140.0,124.0 420.0,124.0 490.0,126.0 512.5,132.0"/><polyline points="82.3,129.0 300.0,131.0 512.5,141.0"/><polyline points="82.3,138.0 300.0,140.0 512.5,148.0"/><polyline points="82.3,174.0 300.0,172.0 512.5,170.0"/><polyline points="82.3,182.0 300.0,186.0 512.5,186.0"/><polyline points="82.3,197.0 300.0,198.0 512.5,196.0"/><polyline points="82.3,212.0 300.0,213.0 512.5,208.0"/><polyline points="82.3,220.0 300.0,220.0 512.5,216.0"/><polyline points="82.3,233.6 300.0,229.0 512.5,224.0"/><polyline points="82.3,250.0 300.0,246.0 512.5,236.0"/><polyline points="82.3,258.7 300.0,258.0 512.5,260.0"/><polyline points="82.3,264.0 300.0,266.0 512.5,268.0"/><polyline points="82.3,274.0 300.0,274.0"/><polyline points="340.0,85.0 385.0,84.0"/><polyline points="418.0,84.0 455.0,80.0 512.5,79.0"/><polyline points="125.5,487.0 150.0,490.0 180.0,494.0 210.0,499.0 260.0,503.0 330.0,505.6 420.0,506.0 531.4,503.0"/><polyline points="125.5,566.5 300.0,566.5 340.0,563.5 380.0,559.0 440.0,555.8 480.0,559.0 510.0,563.0 531.4,568.4"/><polyline points="125.5,585.0 330.0,585.0 531.4,585.0"/><polyline points="125.5,603.7 330.0,605.0 531.4,608.0"/><polyline points="125.5,615.7 531.4,614.0"/><polyline points="125.5,625.4 531.4,621.0"/><polyline points="125.5,659.0 330.0,636.0 531.4,629.0"/><polyline points="125.5,674.0 250.0,677.0"/><polyline points="470.0,630.0 495.0,634.0 515.0,642.0 526.0,660.0 522.0,678.5"/></g><g font-family="Liberation Sans, sans-serif" font-size="12" fill="#9a9a92" opacity="0.75" text-anchor="middle"><text x="225.5" y="128.2">274.8</text><text x="401" y="88.2">274.8</text><text x="144" y="133.2">274.7</text><text x="193" y="142.2">274.6</text><text x="141" y="178.2">274.5</text><text x="134" y="202.2">274.3</text><text x="124" y="238.2">274</text><text x="100" y="263.2">273.8</text><text x="240.7" y="268.2">273.7</text><text x="104" y="278.2">273.6</text><text x="411.7" y="203.2">274.4</text><text x="400" y="220.2">274.2</text><text x="340.7" y="224.2">274.1</text><text x="443.9" y="233.2">273.9</text><text x="411" y="510.2">275.4</text><text x="259" y="571.2">275.2</text><text x="184.6" y="589.2">275</text><text x="204" y="608.2">274.8</text><text x="304" y="620.2">274.6</text><text x="199" y="629.2">274.4</text><text x="445.5" y="633.2">274.2</text><text x="142.6" y="678.2">274</text><text transform="translate(523,660) rotate(-68)">274.2</text></g>
<g stroke="#000" stroke-width="1.75" stroke-linecap="butt" fill="#000"><line x1="99.8" y1="78.3" x2="105.7" y2="91.0"/><line x1="104.9" y1="89.2" x2="100.7" y2="90.9"/><circle cx="99.8" cy="78.3" r="2" stroke="none"/><line x1="135.7" y1="78.3" x2="138.8" y2="91.9"/><line x1="138.4" y1="90.0" x2="134.0" y2="90.9"/><circle cx="135.7" cy="78.3" r="2" stroke="none"/><line x1="171.6" y1="78.3" x2="173.0" y2="92.2"/><line x1="172.8" y1="90.2" x2="168.3" y2="90.5"/><circle cx="171.6" cy="78.3" r="2" stroke="none"/><line x1="207.4" y1="78.3" x2="207.9" y2="92.3"/><line x1="207.9" y1="90.3" x2="203.4" y2="90.3"/><circle cx="207.4" cy="78.3" r="2" stroke="none"/><line x1="243.3" y1="78.3" x2="244.3" y2="92.3"/><line x1="244.2" y1="90.3" x2="239.7" y2="90.4"/><circle cx="243.3" cy="78.3" r="2" stroke="none"/><line x1="279.2" y1="78.3" x2="280.2" y2="92.3"/><line x1="280.0" y1="90.3" x2="275.5" y2="90.4"/><circle cx="279.2" cy="78.3" r="2" stroke="none"/><line x1="315.1" y1="78.3" x2="315.6" y2="92.3"/><line x1="315.5" y1="90.3" x2="311.0" y2="90.3"/><circle cx="315.1" cy="78.3" r="2" stroke="none"/><line x1="351.0" y1="78.3" x2="351.0" y2="92.3"/><line x1="351.0" y1="90.3" x2="346.5" y2="90.1"/><circle cx="351.0" cy="78.3" r="2" stroke="none"/><line x1="386.8" y1="78.3" x2="387.3" y2="92.3"/><line x1="387.3" y1="90.3" x2="382.8" y2="90.3"/><circle cx="386.8" cy="78.3" r="2" stroke="none"/><line x1="422.7" y1="78.3" x2="422.7" y2="92.3"/><line x1="422.7" y1="90.3" x2="418.2" y2="90.1"/><circle cx="422.7" cy="78.3" r="2" stroke="none"/><line x1="458.6" y1="78.3" x2="457.6" y2="92.3"/><line x1="457.8" y1="90.3" x2="453.3" y2="89.8"/><circle cx="458.6" cy="78.3" r="2" stroke="none"/><line x1="494.5" y1="78.3" x2="493.5" y2="92.3"/><line x1="493.6" y1="90.3" x2="489.2" y2="89.8"/><circle cx="494.5" cy="78.3" r="2" stroke="none"/><line x1="99.8" y1="100.0" x2="106.4" y2="112.4"/><line x1="105.4" y1="110.6" x2="101.4" y2="112.6"/><circle cx="99.8" cy="100.0" r="2" stroke="none"/><line x1="135.7" y1="100.0" x2="142.0" y2="112.5"/><line x1="141.1" y1="110.7" x2="137.0" y2="112.6"/><circle cx="135.7" cy="100.0" r="2" stroke="none"/><line x1="171.6" y1="100.0" x2="176.3" y2="113.2"/><line x1="175.7" y1="111.3" x2="171.4" y2="112.7"/><circle cx="171.6" cy="100.0" r="2" stroke="none"/><line x1="207.4" y1="100.0" x2="212.7" y2="113.0"/><line x1="211.9" y1="111.1" x2="207.7" y2="112.7"/><circle cx="207.4" cy="100.0" r="2" stroke="none"/><line x1="243.3" y1="100.0" x2="247.2" y2="113.5"/><line x1="246.6" y1="111.5" x2="242.3" y2="112.6"/><circle cx="243.3" cy="100.0" r="2" stroke="none"/><line x1="279.2" y1="100.0" x2="283.1" y2="113.5"/><line x1="282.5" y1="111.5" x2="278.1" y2="112.6"/><circle cx="279.2" cy="100.0" r="2" stroke="none"/><line x1="315.1" y1="100.0" x2="319.4" y2="113.3"/><line x1="318.8" y1="111.4" x2="314.5" y2="112.7"/><circle cx="315.1" cy="100.0" r="2" stroke="none"/><line x1="351.0" y1="100.0" x2="355.3" y2="113.3"/><line x1="354.7" y1="111.4" x2="350.3" y2="112.7"/><circle cx="351.0" cy="100.0" r="2" stroke="none"/><line x1="386.8" y1="100.0" x2="391.2" y2="113.3"/><line x1="390.5" y1="111.4" x2="386.2" y2="112.7"/><circle cx="386.8" cy="100.0" r="2" stroke="none"/><line x1="422.7" y1="100.0" x2="427.0" y2="113.3"/><line x1="426.4" y1="111.4" x2="422.1" y2="112.7"/><circle cx="422.7" cy="100.0" r="2" stroke="none"/><line x1="458.6" y1="100.0" x2="463.4" y2="113.2"/><line x1="462.7" y1="111.3" x2="458.4" y2="112.7"/><circle cx="458.6" cy="100.0" r="2" stroke="none"/><line x1="494.5" y1="100.0" x2="499.3" y2="113.2"/><line x1="498.6" y1="111.3" x2="494.3" y2="112.7"/><circle cx="494.5" cy="100.0" r="2" stroke="none"/><line x1="99.8" y1="117.5" x2="110.7" y2="126.3"/><line x1="109.1" y1="125.1" x2="106.2" y2="128.4"/><circle cx="99.8" cy="117.5" r="2" stroke="none"/><line x1="135.7" y1="117.5" x2="145.9" y2="127.0"/><line x1="144.5" y1="125.7" x2="141.3" y2="128.9"/><circle cx="135.7" cy="117.5" r="2" stroke="none"/><line x1="171.6" y1="117.5" x2="181.6" y2="127.2"/><line x1="180.2" y1="125.8" x2="177.0" y2="129.0"/><circle cx="171.6" cy="117.5" r="2" stroke="none"/><line x1="207.4" y1="117.5" x2="216.4" y2="128.2"/><line x1="215.2" y1="126.7" x2="211.6" y2="129.5"/><circle cx="207.4" cy="117.5" r="2" stroke="none"/><line x1="243.3" y1="117.5" x2="253.7" y2="126.9"/><line x1="252.2" y1="125.5" x2="249.1" y2="128.8"/><circle cx="243.3" cy="117.5" r="2" stroke="none"/><line x1="279.2" y1="117.5" x2="289.6" y2="126.9"/><line x1="288.1" y1="125.5" x2="285.0" y2="128.8"/><circle cx="279.2" cy="117.5" r="2" stroke="none"/><line x1="315.1" y1="117.5" x2="325.2" y2="127.2"/><line x1="323.7" y1="125.8" x2="320.5" y2="129.0"/><circle cx="315.1" cy="117.5" r="2" stroke="none"/><line x1="351.0" y1="117.5" x2="361.0" y2="127.2"/><line x1="359.6" y1="125.8" x2="356.4" y2="129.0"/><circle cx="351.0" cy="117.5" r="2" stroke="none"/><line x1="386.8" y1="117.5" x2="396.9" y2="127.2"/><line x1="395.5" y1="125.8" x2="392.2" y2="129.0"/><circle cx="386.8" cy="117.5" r="2" stroke="none"/><line x1="422.7" y1="117.5" x2="432.8" y2="127.2"/><line x1="431.4" y1="125.8" x2="428.1" y2="129.0"/><circle cx="422.7" cy="117.5" r="2" stroke="none"/><line x1="458.6" y1="117.5" x2="468.5" y2="127.4"/><line x1="467.1" y1="126.0" x2="463.8" y2="129.1"/><circle cx="458.6" cy="117.5" r="2" stroke="none"/><line x1="494.5" y1="117.5" x2="504.4" y2="127.4"/><line x1="503.0" y1="126.0" x2="499.7" y2="129.1"/><circle cx="494.5" cy="117.5" r="2" stroke="none"/><line x1="99.8" y1="144.2" x2="112.6" y2="149.9"/><line x1="110.8" y1="149.1" x2="108.8" y2="153.1"/><circle cx="99.8" cy="144.2" r="2" stroke="none"/><line x1="135.7" y1="144.2" x2="148.3" y2="150.3"/><line x1="146.5" y1="149.5" x2="144.4" y2="153.4"/><circle cx="135.7" cy="144.2" r="2" stroke="none"/><line x1="171.6" y1="144.2" x2="183.9" y2="150.8"/><line x1="182.2" y1="149.8" x2="179.9" y2="153.7"/><circle cx="171.6" cy="144.2" r="2" stroke="none"/><line x1="207.4" y1="144.2" x2="219.8" y2="150.8"/><line x1="218.0" y1="149.8" x2="215.8" y2="153.7"/><circle cx="207.4" cy="144.2" r="2" stroke="none"/><line x1="243.3" y1="144.2" x2="255.7" y2="150.8"/><line x1="253.9" y1="149.8" x2="251.7" y2="153.7"/><circle cx="243.3" cy="144.2" r="2" stroke="none"/><line x1="279.2" y1="144.2" x2="291.3" y2="151.2"/><line x1="289.6" y1="150.2" x2="287.2" y2="154.0"/><circle cx="279.2" cy="144.2" r="2" stroke="none"/><line x1="315.1" y1="144.2" x2="327.0" y2="151.6"/><line x1="325.3" y1="150.6" x2="322.7" y2="154.3"/><circle cx="315.1" cy="144.2" r="2" stroke="none"/><line x1="351.0" y1="144.2" x2="362.8" y2="151.6"/><line x1="361.1" y1="150.6" x2="358.6" y2="154.3"/><circle cx="351.0" cy="144.2" r="2" stroke="none"/><line x1="386.8" y1="144.2" x2="398.7" y2="151.6"/><line x1="397.0" y1="150.6" x2="394.5" y2="154.3"/><circle cx="386.8" cy="144.2" r="2" stroke="none"/><line x1="422.7" y1="144.2" x2="434.6" y2="151.6"/><line x1="432.9" y1="150.6" x2="430.4" y2="154.3"/><circle cx="422.7" cy="144.2" r="2" stroke="none"/><line x1="458.6" y1="144.2" x2="470.5" y2="151.6"/><line x1="468.8" y1="150.6" x2="466.3" y2="154.3"/><circle cx="458.6" cy="144.2" r="2" stroke="none"/><line x1="494.5" y1="144.2" x2="506.4" y2="151.6"/><line x1="504.7" y1="150.6" x2="502.1" y2="154.3"/><circle cx="494.5" cy="144.2" r="2" stroke="none"/><line x1="99.8" y1="162.7" x2="112.8" y2="167.9"/><line x1="110.9" y1="167.2" x2="109.1" y2="171.3"/><circle cx="99.8" cy="162.7" r="2" stroke="none"/><line x1="135.7" y1="162.7" x2="148.7" y2="167.9"/><line x1="146.8" y1="167.2" x2="145.0" y2="171.3"/><circle cx="135.7" cy="162.7" r="2" stroke="none"/><line x1="171.6" y1="162.7" x2="184.5" y2="167.9"/><line x1="182.7" y1="167.2" x2="180.9" y2="171.3"/><circle cx="171.6" cy="162.7" r="2" stroke="none"/><line x1="207.4" y1="162.7" x2="220.3" y2="168.2"/><line x1="218.5" y1="167.4" x2="216.6" y2="171.5"/><circle cx="207.4" cy="162.7" r="2" stroke="none"/><line x1="243.3" y1="162.7" x2="256.2" y2="168.2"/><line x1="254.4" y1="167.4" x2="252.5" y2="171.5"/><circle cx="243.3" cy="162.7" r="2" stroke="none"/><line x1="279.2" y1="162.7" x2="292.0" y2="168.4"/><line x1="290.2" y1="167.6" x2="288.2" y2="171.6"/><circle cx="279.2" cy="162.7" r="2" stroke="none"/><line x1="315.1" y1="162.7" x2="327.4" y2="169.3"/><line x1="325.7" y1="168.3" x2="323.4" y2="172.2"/><circle cx="315.1" cy="162.7" r="2" stroke="none"/><line x1="351.0" y1="162.7" x2="363.1" y2="169.7"/><line x1="361.4" y1="168.7" x2="359.0" y2="172.5"/><circle cx="351.0" cy="162.7" r="2" stroke="none"/><line x1="386.8" y1="162.7" x2="399.0" y2="169.7"/><line x1="397.2" y1="168.7" x2="394.8" y2="172.5"/><circle cx="386.8" cy="162.7" r="2" stroke="none"/><line x1="422.7" y1="162.7" x2="434.8" y2="169.7"/><line x1="433.1" y1="168.7" x2="430.7" y2="172.5"/><circle cx="422.7" cy="162.7" r="2" stroke="none"/><line x1="458.6" y1="162.7" x2="470.7" y2="169.7"/><line x1="469.0" y1="168.7" x2="466.6" y2="172.5"/><circle cx="458.6" cy="162.7" r="2" stroke="none"/><line x1="494.5" y1="162.7" x2="506.6" y2="169.7"/><line x1="504.9" y1="168.7" x2="502.5" y2="172.5"/><circle cx="494.5" cy="162.7" r="2" stroke="none"/><line x1="99.8" y1="188.5" x2="112.4" y2="194.6"/><line x1="110.6" y1="193.8" x2="108.5" y2="197.7"/><circle cx="99.8" cy="188.5" r="2" stroke="none"/><line x1="135.7" y1="188.5" x2="148.3" y2="194.6"/><line x1="146.5" y1="193.8" x2="144.4" y2="197.7"/><circle cx="135.7" cy="188.5" r="2" stroke="none"/><line x1="171.6" y1="188.5" x2="184.1" y2="194.6"/><line x1="182.3" y1="193.8" x2="180.2" y2="197.7"/><circle cx="171.6" cy="188.5" r="2" stroke="none"/><line x1="207.4" y1="188.5" x2="220.0" y2="194.6"/><line x1="218.2" y1="193.8" x2="216.1" y2="197.7"/><circle cx="207.4" cy="188.5" r="2" stroke="none"/><line x1="243.3" y1="188.5" x2="255.9" y2="194.6"/><line x1="254.1" y1="193.8" x2="252.0" y2="197.7"/><circle cx="243.3" cy="188.5" r="2" stroke="none"/><line x1="279.2" y1="188.5" x2="291.6" y2="195.1"/><line x1="289.8" y1="194.1" x2="287.5" y2="198.0"/><circle cx="279.2" cy="188.5" r="2" stroke="none"/><line x1="315.1" y1="188.5" x2="326.5" y2="196.5"/><line x1="324.9" y1="195.4" x2="322.2" y2="199.0"/><circle cx="315.1" cy="188.5" r="2" stroke="none"/><line x1="351.0" y1="188.5" x2="362.4" y2="196.5"/><line x1="360.8" y1="195.4" x2="358.1" y2="199.0"/><circle cx="351.0" cy="188.5" r="2" stroke="none"/><line x1="386.8" y1="188.5" x2="398.3" y2="196.5"/><line x1="396.7" y1="195.4" x2="394.0" y2="199.0"/><circle cx="386.8" cy="188.5" r="2" stroke="none"/><line x1="422.7" y1="188.5" x2="434.2" y2="196.5"/><line x1="432.5" y1="195.4" x2="429.8" y2="199.0"/><circle cx="422.7" cy="188.5" r="2" stroke="none"/><line x1="458.6" y1="188.5" x2="470.1" y2="196.5"/><line x1="468.4" y1="195.4" x2="465.7" y2="199.0"/><circle cx="458.6" cy="188.5" r="2" stroke="none"/><line x1="494.5" y1="188.5" x2="505.9" y2="196.5"/><line x1="504.3" y1="195.4" x2="501.6" y2="199.0"/><circle cx="494.5" cy="188.5" r="2" stroke="none"/><line x1="99.8" y1="205.5" x2="112.2" y2="212.1"/><line x1="110.4" y1="211.1" x2="108.1" y2="215.0"/><circle cx="99.8" cy="205.5" r="2" stroke="none"/><line x1="135.7" y1="205.5" x2="148.0" y2="212.1"/><line x1="146.3" y1="211.1" x2="144.0" y2="215.0"/><circle cx="135.7" cy="205.5" r="2" stroke="none"/><line x1="171.6" y1="205.5" x2="183.9" y2="212.1"/><line x1="182.2" y1="211.1" x2="179.9" y2="215.0"/><circle cx="171.6" cy="205.5" r="2" stroke="none"/><line x1="207.4" y1="205.5" x2="219.8" y2="212.1"/><line x1="218.0" y1="211.1" x2="215.8" y2="215.0"/><circle cx="207.4" cy="205.5" r="2" stroke="none"/><line x1="243.3" y1="205.5" x2="255.7" y2="212.1"/><line x1="253.9" y1="211.1" x2="251.7" y2="215.0"/><circle cx="243.3" cy="205.5" r="2" stroke="none"/><line x1="279.2" y1="205.5" x2="291.6" y2="212.1"/><line x1="289.8" y1="211.1" x2="287.5" y2="215.0"/><circle cx="279.2" cy="205.5" r="2" stroke="none"/><line x1="315.1" y1="205.5" x2="327.2" y2="212.5"/><circle cx="315.1" cy="205.5" r="2" stroke="none"/><line x1="351.0" y1="205.5" x2="362.7" y2="213.1"/><line x1="361.0" y1="212.0" x2="358.4" y2="215.7"/><circle cx="351.0" cy="205.5" r="2" stroke="none"/><line x1="386.8" y1="205.5" x2="398.3" y2="213.5"/><line x1="396.7" y1="212.4" x2="394.0" y2="216.0"/><circle cx="386.8" cy="205.5" r="2" stroke="none"/><line x1="422.7" y1="205.5" x2="434.2" y2="213.5"/><line x1="432.5" y1="212.4" x2="429.8" y2="216.0"/><circle cx="422.7" cy="205.5" r="2" stroke="none"/><line x1="458.6" y1="205.5" x2="470.1" y2="213.5"/><line x1="468.4" y1="212.4" x2="465.7" y2="216.0"/><circle cx="458.6" cy="205.5" r="2" stroke="none"/><line x1="494.5" y1="205.5" x2="505.9" y2="213.5"/><line x1="504.3" y1="212.4" x2="501.6" y2="216.0"/><circle cx="494.5" cy="205.5" r="2" stroke="none"/><line x1="99.8" y1="232.8" x2="113.2" y2="236.9"/><line x1="111.3" y1="236.3" x2="109.8" y2="240.6"/><circle cx="99.8" cy="232.8" r="2" stroke="none"/><line x1="135.7" y1="232.8" x2="149.1" y2="236.9"/><line x1="147.2" y1="236.3" x2="145.7" y2="240.6"/><circle cx="135.7" cy="232.8" r="2" stroke="none"/><line x1="171.6" y1="232.8" x2="184.9" y2="236.9"/><line x1="183.0" y1="236.3" x2="181.6" y2="240.6"/><circle cx="171.6" cy="232.8" r="2" stroke="none"/><line x1="207.4" y1="232.8" x2="220.8" y2="236.9"/><line x1="218.9" y1="236.3" x2="217.5" y2="240.6"/><circle cx="207.4" cy="232.8" r="2" stroke="none"/><line x1="243.3" y1="232.8" x2="256.7" y2="236.9"/><line x1="254.8" y1="236.3" x2="253.3" y2="240.6"/><circle cx="243.3" cy="232.8" r="2" stroke="none"/><line x1="279.2" y1="232.8" x2="292.4" y2="237.6"/><line x1="290.5" y1="236.9" x2="288.8" y2="241.1"/><circle cx="279.2" cy="232.8" r="2" stroke="none"/><line x1="315.1" y1="232.8" x2="328.2" y2="237.6"/><line x1="326.4" y1="236.9" x2="324.7" y2="241.1"/><circle cx="315.1" cy="232.8" r="2" stroke="none"/><line x1="351.0" y1="232.8" x2="364.1" y2="237.6"/><line x1="362.2" y1="236.9" x2="360.6" y2="241.1"/><circle cx="351.0" cy="232.8" r="2" stroke="none"/><line x1="386.8" y1="232.8" x2="399.8" y2="238.0"/><line x1="398.0" y1="237.3" x2="396.1" y2="241.4"/><circle cx="386.8" cy="232.8" r="2" stroke="none"/><line x1="422.7" y1="232.8" x2="435.7" y2="238.0"/><line x1="433.8" y1="237.3" x2="432.0" y2="241.4"/><circle cx="422.7" cy="232.8" r="2" stroke="none"/><line x1="458.6" y1="232.8" x2="471.6" y2="238.0"/><line x1="469.7" y1="237.3" x2="467.9" y2="241.4"/><circle cx="458.6" cy="232.8" r="2" stroke="none"/><line x1="494.5" y1="232.8" x2="507.5" y2="238.0"/><line x1="505.6" y1="237.3" x2="503.8" y2="241.4"/><circle cx="494.5" cy="232.8" r="2" stroke="none"/><line x1="99.8" y1="250.5" x2="113.3" y2="254.1"/><line x1="111.4" y1="253.6" x2="110.1" y2="257.9"/><circle cx="99.8" cy="250.5" r="2" stroke="none"/><line x1="135.7" y1="250.5" x2="149.2" y2="254.1"/><line x1="147.3" y1="253.6" x2="146.0" y2="257.9"/><circle cx="135.7" cy="250.5" r="2" stroke="none"/><line x1="171.6" y1="250.5" x2="185.1" y2="254.1"/><line x1="183.2" y1="253.6" x2="181.8" y2="257.9"/><circle cx="171.6" cy="250.5" r="2" stroke="none"/><line x1="207.4" y1="250.5" x2="221.0" y2="254.1"/><line x1="219.0" y1="253.6" x2="217.7" y2="257.9"/><circle cx="207.4" cy="250.5" r="2" stroke="none"/><line x1="243.3" y1="250.5" x2="256.8" y2="254.1"/><line x1="254.9" y1="253.6" x2="253.6" y2="257.9"/><circle cx="243.3" cy="250.5" r="2" stroke="none"/><line x1="279.2" y1="250.5" x2="292.7" y2="254.1"/><line x1="290.8" y1="253.6" x2="289.5" y2="257.9"/><circle cx="279.2" cy="250.5" r="2" stroke="none"/><line x1="315.1" y1="250.5" x2="325.8" y2="259.5"/><line x1="324.3" y1="258.2" x2="321.3" y2="261.6"/><circle cx="315.1" cy="250.5" r="2" stroke="none"/><line x1="351.0" y1="250.5" x2="361.7" y2="259.5"/><line x1="360.2" y1="258.2" x2="357.1" y2="261.6"/><circle cx="351.0" cy="250.5" r="2" stroke="none"/><line x1="386.8" y1="250.5" x2="395.8" y2="261.2"/><circle cx="386.8" cy="250.5" r="2" stroke="none"/><line x1="422.7" y1="250.5" x2="430.8" y2="262.0"/><circle cx="422.7" cy="250.5" r="2" stroke="none"/><line x1="458.6" y1="250.5" x2="465.6" y2="262.6"/><circle cx="458.6" cy="250.5" r="2" stroke="none"/><line x1="494.5" y1="250.5" x2="501.5" y2="262.6"/><circle cx="494.5" cy="250.5" r="2" stroke="none"/><line x1="99.8" y1="277.3" x2="109.2" y2="287.7"/><line x1="107.8" y1="286.2" x2="104.4" y2="289.1"/><circle cx="99.8" cy="277.3" r="2" stroke="none"/><line x1="135.7" y1="277.3" x2="144.1" y2="288.5"/><line x1="142.9" y1="286.9" x2="139.2" y2="289.5"/><circle cx="135.7" cy="277.3" r="2" stroke="none"/><line x1="171.6" y1="277.3" x2="177.7" y2="289.9"/><circle cx="171.6" cy="277.3" r="2" stroke="none"/><line x1="207.4" y1="277.3" x2="212.7" y2="290.3"/><circle cx="207.4" cy="277.3" r="2" stroke="none"/><line x1="243.3" y1="277.3" x2="248.1" y2="290.5"/><circle cx="243.3" cy="277.3" r="2" stroke="none"/><line x1="279.2" y1="277.3" x2="284.0" y2="290.5"/><circle cx="279.2" cy="277.3" r="2" stroke="none"/><line x1="315.1" y1="277.3" x2="318.7" y2="290.8"/><circle cx="315.1" cy="277.3" r="2" stroke="none"/><line x1="351.0" y1="277.3" x2="355.7" y2="290.5"/><circle cx="351.0" cy="277.3" r="2" stroke="none"/><line x1="386.8" y1="277.3" x2="391.6" y2="290.5"/><circle cx="386.8" cy="277.3" r="2" stroke="none"/><line x1="422.7" y1="277.3" x2="427.5" y2="290.5"/><circle cx="422.7" cy="277.3" r="2" stroke="none"/><line x1="458.6" y1="277.3" x2="463.4" y2="290.5"/><circle cx="458.6" cy="277.3" r="2" stroke="none"/><line x1="494.5" y1="277.3" x2="499.3" y2="290.5"/><circle cx="494.5" cy="277.3" r="2" stroke="none"/></g>
<g stroke="#000" stroke-width="1.75" stroke-linecap="butt" fill="#000"><line x1="145.4" y1="435.1" x2="153.1" y2="448.0"/><line x1="152.5" y1="446.9" x2="146.2" y2="452.4"/><circle cx="145.4" cy="435.1" r="2" stroke="none"/><line x1="186.0" y1="435.1" x2="193.8" y2="448.0"/><line x1="193.1" y1="446.9" x2="186.8" y2="452.4"/><circle cx="186.0" cy="435.1" r="2" stroke="none"/><line x1="226.7" y1="435.1" x2="234.4" y2="448.0"/><line x1="233.8" y1="446.9" x2="227.4" y2="452.4"/><circle cx="226.7" cy="435.1" r="2" stroke="none"/><line x1="267.3" y1="435.1" x2="275.0" y2="448.0"/><line x1="274.4" y1="446.9" x2="268.1" y2="452.4"/><circle cx="267.3" cy="435.1" r="2" stroke="none"/><line x1="308.0" y1="435.1" x2="315.7" y2="448.0"/><line x1="315.1" y1="446.9" x2="308.7" y2="452.4"/><circle cx="308.0" cy="435.1" r="2" stroke="none"/><line x1="348.6" y1="435.1" x2="356.5" y2="447.8"/><line x1="355.9" y1="446.8" x2="352.2" y2="450.1"/><circle cx="348.6" cy="435.1" r="2" stroke="none"/><line x1="389.2" y1="435.1" x2="397.2" y2="447.8"/><line x1="396.6" y1="446.8" x2="392.8" y2="450.1"/><circle cx="389.2" cy="435.1" r="2" stroke="none"/><line x1="429.9" y1="435.1" x2="437.8" y2="447.8"/><line x1="437.2" y1="446.8" x2="433.5" y2="450.1"/><circle cx="429.9" cy="435.1" r="2" stroke="none"/><line x1="470.5" y1="435.1" x2="478.5" y2="447.8"/><line x1="477.8" y1="446.8" x2="474.1" y2="450.1"/><circle cx="470.5" cy="435.1" r="2" stroke="none"/><line x1="511.2" y1="435.1" x2="519.1" y2="447.8"/><line x1="518.5" y1="446.8" x2="514.8" y2="450.1"/><circle cx="511.2" cy="435.1" r="2" stroke="none"/><line x1="145.4" y1="475.5" x2="156.5" y2="485.5"/><line x1="155.7" y1="484.7" x2="152.6" y2="489.6"/><circle cx="145.4" cy="475.5" r="2" stroke="none"/><line x1="186.0" y1="475.5" x2="197.2" y2="485.5"/><line x1="196.3" y1="484.7" x2="193.3" y2="489.6"/><circle cx="186.0" cy="475.5" r="2" stroke="none"/><line x1="226.7" y1="475.5" x2="237.8" y2="485.5"/><line x1="236.9" y1="484.7" x2="233.9" y2="489.6"/><circle cx="226.7" cy="475.5" r="2" stroke="none"/><line x1="267.3" y1="475.5" x2="278.5" y2="485.5"/><line x1="277.6" y1="484.7" x2="274.6" y2="489.6"/><circle cx="267.3" cy="475.5" r="2" stroke="none"/><line x1="308.0" y1="475.5" x2="319.1" y2="485.5"/><line x1="318.2" y1="484.7" x2="315.2" y2="489.6"/><circle cx="308.0" cy="475.5" r="2" stroke="none"/><line x1="348.6" y1="475.5" x2="359.2" y2="486.1"/><line x1="358.4" y1="485.3" x2="355.1" y2="489.9"/><circle cx="348.6" cy="475.5" r="2" stroke="none"/><line x1="389.2" y1="475.5" x2="399.8" y2="486.1"/><line x1="399.0" y1="485.3" x2="395.7" y2="489.9"/><circle cx="389.2" cy="475.5" r="2" stroke="none"/><line x1="429.9" y1="475.5" x2="440.5" y2="486.1"/><line x1="439.6" y1="485.3" x2="436.4" y2="489.9"/><circle cx="429.9" cy="475.5" r="2" stroke="none"/><line x1="470.5" y1="475.5" x2="481.1" y2="486.1"/><line x1="480.3" y1="485.3" x2="477.0" y2="489.9"/><circle cx="470.5" cy="475.5" r="2" stroke="none"/><line x1="511.2" y1="475.5" x2="521.2" y2="486.6"/><line x1="520.4" y1="485.8" x2="516.9" y2="490.2"/><circle cx="511.2" cy="475.5" r="2" stroke="none"/><line x1="145.4" y1="521.0" x2="158.1" y2="528.9"/><line x1="157.1" y1="528.3" x2="155.0" y2="533.4"/><circle cx="145.4" cy="521.0" r="2" stroke="none"/><line x1="186.0" y1="521.0" x2="198.8" y2="528.9"/><line x1="197.7" y1="528.3" x2="195.7" y2="533.4"/><circle cx="186.0" cy="521.0" r="2" stroke="none"/><line x1="226.7" y1="521.0" x2="239.0" y2="529.6"/><line x1="238.0" y1="528.9" x2="235.7" y2="533.9"/><circle cx="226.7" cy="521.0" r="2" stroke="none"/><line x1="267.3" y1="521.0" x2="279.6" y2="529.6"/><line x1="278.6" y1="528.9" x2="276.3" y2="533.9"/><circle cx="267.3" cy="521.0" r="2" stroke="none"/><line x1="308.0" y1="521.0" x2="320.2" y2="529.6"/><line x1="319.3" y1="528.9" x2="316.9" y2="533.9"/><circle cx="308.0" cy="521.0" r="2" stroke="none"/><line x1="348.6" y1="521.0" x2="360.9" y2="529.6"/><line x1="359.9" y1="528.9" x2="357.6" y2="533.9"/><circle cx="348.6" cy="521.0" r="2" stroke="none"/><line x1="389.2" y1="521.0" x2="401.5" y2="529.6"/><line x1="400.5" y1="528.9" x2="398.2" y2="533.9"/><circle cx="389.2" cy="521.0" r="2" stroke="none"/><line x1="429.9" y1="521.0" x2="442.2" y2="529.6"/><line x1="441.2" y1="528.9" x2="438.9" y2="533.9"/><circle cx="429.9" cy="521.0" r="2" stroke="none"/><line x1="470.5" y1="521.0" x2="482.8" y2="529.6"/><line x1="481.8" y1="528.9" x2="479.5" y2="533.9"/><circle cx="470.5" cy="521.0" r="2" stroke="none"/><line x1="511.2" y1="521.0" x2="523.4" y2="529.6"/><line x1="522.5" y1="528.9" x2="520.1" y2="533.9"/><circle cx="511.2" cy="521.0" r="2" stroke="none"/><line x1="145.4" y1="565.9" x2="157.5" y2="574.7"/><line x1="156.6" y1="574.0" x2="153.2" y2="580.8"/><circle cx="145.4" cy="565.9" r="2" stroke="none"/><line x1="186.0" y1="565.9" x2="198.2" y2="574.7"/><line x1="197.2" y1="574.0" x2="193.9" y2="580.8"/><circle cx="186.0" cy="565.9" r="2" stroke="none"/><line x1="226.7" y1="565.9" x2="238.2" y2="575.5"/><line x1="237.3" y1="574.8" x2="233.5" y2="581.4"/><circle cx="226.7" cy="565.9" r="2" stroke="none"/><line x1="267.3" y1="565.9" x2="278.8" y2="575.5"/><line x1="277.9" y1="574.8" x2="274.1" y2="581.4"/><circle cx="267.3" cy="565.9" r="2" stroke="none"/><line x1="308.0" y1="565.9" x2="319.5" y2="575.5"/><line x1="318.5" y1="574.8" x2="314.7" y2="581.4"/><circle cx="308.0" cy="565.9" r="2" stroke="none"/><line x1="348.6" y1="565.9" x2="360.4" y2="575.1"/><line x1="359.5" y1="574.4" x2="355.9" y2="581.1"/><circle cx="348.6" cy="565.9" r="2" stroke="none"/><line x1="389.2" y1="565.9" x2="401.1" y2="575.1"/><line x1="400.1" y1="574.4" x2="396.5" y2="581.1"/><circle cx="389.2" cy="565.9" r="2" stroke="none"/><line x1="429.9" y1="565.9" x2="441.7" y2="575.1"/><line x1="440.8" y1="574.4" x2="437.2" y2="581.1"/><circle cx="429.9" cy="565.9" r="2" stroke="none"/><line x1="470.5" y1="565.9" x2="482.3" y2="575.1"/><line x1="481.4" y1="574.4" x2="477.8" y2="581.1"/><circle cx="470.5" cy="565.9" r="2" stroke="none"/><line x1="511.2" y1="565.9" x2="523.0" y2="575.1"/><line x1="522.0" y1="574.4" x2="518.5" y2="581.1"/><circle cx="511.2" cy="565.9" r="2" stroke="none"/><line x1="145.4" y1="611.5" x2="156.2" y2="621.9"/><line x1="155.3" y1="621.1" x2="152.3" y2="625.6"/><circle cx="145.4" cy="611.5" r="2" stroke="none"/><line x1="186.0" y1="611.5" x2="196.8" y2="621.9"/><line x1="196.0" y1="621.1" x2="192.9" y2="625.6"/><circle cx="186.0" cy="611.5" r="2" stroke="none"/><line x1="226.7" y1="611.5" x2="237.7" y2="621.7"/><line x1="236.8" y1="620.9" x2="233.8" y2="625.5"/><circle cx="226.7" cy="611.5" r="2" stroke="none"/><line x1="267.3" y1="611.5" x2="278.5" y2="621.5"/><line x1="277.6" y1="620.7" x2="274.7" y2="625.4"/><circle cx="267.3" cy="611.5" r="2" stroke="none"/><line x1="308.0" y1="611.5" x2="319.5" y2="621.1"/><line x1="318.5" y1="620.4" x2="315.8" y2="625.1"/><circle cx="308.0" cy="611.5" r="2" stroke="none"/><line x1="348.6" y1="611.5" x2="360.4" y2="620.7"/><line x1="359.5" y1="620.0" x2="356.9" y2="624.9"/><circle cx="348.6" cy="611.5" r="2" stroke="none"/><line x1="389.2" y1="611.5" x2="401.4" y2="620.3"/><line x1="400.4" y1="619.6" x2="398.0" y2="624.6"/><circle cx="389.2" cy="611.5" r="2" stroke="none"/><line x1="429.9" y1="611.5" x2="442.2" y2="620.1"/><line x1="441.2" y1="619.4" x2="438.9" y2="624.4"/><circle cx="429.9" cy="611.5" r="2" stroke="none"/><line x1="470.5" y1="611.5" x2="483.0" y2="619.9"/><line x1="482.0" y1="619.2" x2="479.7" y2="624.2"/><circle cx="470.5" cy="611.5" r="2" stroke="none"/><line x1="511.2" y1="611.5" x2="523.4" y2="620.1"/><line x1="522.5" y1="619.4" x2="520.1" y2="624.4"/><circle cx="511.2" cy="611.5" r="2" stroke="none"/><line x1="145.4" y1="629.6" x2="145.9" y2="643.6"/><line x1="145.8" y1="642.4" x2="141.0" y2="643.4"/><circle cx="145.4" cy="629.6" r="2" stroke="none"/><line x1="186.0" y1="629.6" x2="187.0" y2="643.6"/><line x1="186.9" y1="642.4" x2="182.1" y2="643.6"/><circle cx="186.0" cy="629.6" r="2" stroke="none"/><line x1="226.7" y1="629.6" x2="228.1" y2="643.5"/><line x1="228.0" y1="642.3" x2="223.2" y2="643.7"/><circle cx="226.7" cy="629.6" r="2" stroke="none"/><line x1="267.3" y1="629.6" x2="269.3" y2="643.5"/><line x1="269.1" y1="642.3" x2="264.3" y2="643.8"/><circle cx="267.3" cy="629.6" r="2" stroke="none"/><line x1="308.0" y1="629.6" x2="310.4" y2="643.4"/><line x1="310.2" y1="642.2" x2="305.5" y2="643.9"/><circle cx="308.0" cy="629.6" r="2" stroke="none"/><line x1="348.6" y1="629.6" x2="351.3" y2="643.3"/><line x1="351.0" y1="642.2" x2="346.4" y2="644.0"/><circle cx="348.6" cy="629.6" r="2" stroke="none"/><line x1="389.2" y1="629.6" x2="392.2" y2="643.3"/><line x1="391.9" y1="642.1" x2="387.3" y2="644.0"/><circle cx="389.2" cy="629.6" r="2" stroke="none"/><line x1="429.9" y1="629.6" x2="433.0" y2="643.2"/><line x1="432.8" y1="642.1" x2="428.2" y2="644.0"/><circle cx="429.9" cy="629.6" r="2" stroke="none"/><line x1="470.5" y1="629.6" x2="473.9" y2="643.2"/><line x1="473.6" y1="642.0" x2="469.0" y2="644.1"/><circle cx="470.5" cy="629.6" r="2" stroke="none"/><line x1="511.2" y1="629.6" x2="515.0" y2="643.1"/><line x1="514.7" y1="641.9" x2="510.2" y2="644.1"/><circle cx="511.2" cy="629.6" r="2" stroke="none"/><line x1="145.4" y1="656.7" x2="144.2" y2="670.6"/><line x1="144.3" y1="669.5" x2="139.3" y2="669.9"/><circle cx="145.4" cy="656.7" r="2" stroke="none"/><line x1="186.0" y1="656.7" x2="184.8" y2="670.6"/><line x1="184.9" y1="669.5" x2="179.9" y2="669.9"/><circle cx="186.0" cy="656.7" r="2" stroke="none"/><line x1="226.7" y1="656.7" x2="225.2" y2="670.6"/><line x1="225.3" y1="669.4" x2="220.4" y2="669.8"/><circle cx="226.7" cy="656.7" r="2" stroke="none"/><line x1="267.3" y1="656.7" x2="265.9" y2="670.6"/><line x1="266.0" y1="669.4" x2="261.0" y2="669.8"/><circle cx="267.3" cy="656.7" r="2" stroke="none"/><line x1="308.0" y1="656.7" x2="306.3" y2="670.6"/><line x1="306.4" y1="669.4" x2="301.4" y2="669.7"/><circle cx="308.0" cy="656.7" r="2" stroke="none"/><line x1="348.6" y1="656.7" x2="346.7" y2="670.6"/><line x1="346.8" y1="669.4" x2="341.8" y2="669.5"/><circle cx="348.6" cy="656.7" r="2" stroke="none"/><line x1="389.2" y1="656.7" x2="386.8" y2="670.5"/><line x1="387.0" y1="669.3" x2="382.0" y2="669.3"/><circle cx="389.2" cy="656.7" r="2" stroke="none"/><line x1="429.9" y1="656.7" x2="427.0" y2="670.4"/><line x1="427.2" y1="669.2" x2="422.2" y2="669.0"/><circle cx="429.9" cy="656.7" r="2" stroke="none"/><line x1="470.5" y1="656.7" x2="467.1" y2="670.3"/><line x1="467.4" y1="669.1" x2="462.4" y2="668.8"/><circle cx="470.5" cy="656.7" r="2" stroke="none"/><line x1="511.2" y1="656.7" x2="509.5" y2="670.6"/><line x1="509.6" y1="669.4" x2="504.6" y2="669.7"/><circle cx="511.2" cy="656.7" r="2" stroke="none"/><line x1="145.4" y1="678.2" x2="143.5" y2="692.1"/><line x1="143.6" y1="690.9" x2="134.6" y2="691.2"/><circle cx="145.4" cy="678.2" r="2" stroke="none"/><line x1="186.0" y1="678.2" x2="183.6" y2="692.0"/><line x1="183.8" y1="690.8" x2="174.8" y2="690.8"/><circle cx="186.0" cy="678.2" r="2" stroke="none"/><line x1="226.7" y1="678.2" x2="223.8" y2="691.9"/><line x1="224.0" y1="690.7" x2="215.0" y2="690.4"/><circle cx="226.7" cy="678.2" r="2" stroke="none"/><line x1="267.3" y1="678.2" x2="263.9" y2="691.8"/><line x1="264.2" y1="690.6" x2="255.2" y2="690.0"/><circle cx="267.3" cy="678.2" r="2" stroke="none"/><line x1="308.0" y1="678.2" x2="304.3" y2="691.7"/><line x1="304.6" y1="690.6" x2="295.7" y2="689.8"/><circle cx="308.0" cy="678.2" r="2" stroke="none"/><line x1="348.6" y1="678.2" x2="344.7" y2="691.7"/><line x1="345.1" y1="690.5" x2="336.1" y2="689.6"/><circle cx="348.6" cy="678.2" r="2" stroke="none"/><line x1="389.2" y1="678.2" x2="384.9" y2="691.5"/><line x1="385.3" y1="690.4" x2="376.4" y2="689.1"/><circle cx="389.2" cy="678.2" r="2" stroke="none"/><line x1="429.9" y1="678.2" x2="425.1" y2="691.4"/><line x1="425.5" y1="690.2" x2="416.6" y2="688.7"/><circle cx="429.9" cy="678.2" r="2" stroke="none"/><line x1="470.5" y1="678.2" x2="465.3" y2="691.2"/><line x1="465.7" y1="690.1" x2="456.9" y2="688.2"/><circle cx="470.5" cy="678.2" r="2" stroke="none"/><line x1="511.2" y1="678.2" x2="507.5" y2="691.7"/><line x1="507.8" y1="690.6" x2="498.9" y2="689.8"/><circle cx="511.2" cy="678.2" r="2" stroke="none"/></g>
<g fill="none" stroke="#3c3c3c" stroke-width="1.2">
<line x1="50.5" y1="11.2" x2="648.5" y2="11.2" stroke="#707070" stroke-width="1.4"/><line x1="50.5" y1="327.3" x2="648.5" y2="327.3" stroke="#727272" stroke-width="1.4"/><line x1="50.5" y1="10.6" x2="50.5" y2="327.9"/>
<rect x="648.2" y="10.6" width="2" height="317.2" fill="#383838" stroke="none"/>
<line x1="50.5" y1="408.6" x2="648.5" y2="408.6" stroke="#6a6a6a" stroke-width="1.4"/><line x1="50.5" y1="724.8" x2="648.5" y2="724.8" stroke="#727272" stroke-width="1.4"/><line x1="50.5" y1="408" x2="50.5" y2="725.4"/>
<rect x="648.2" y="408.4" width="2" height="317.1" fill="#383838" stroke="none"/>
<line x1="44.3" y1="315.8" x2="50.5" y2="315.8"/>
<line x1="44.3" y1="713.1" x2="50.5" y2="713.1"/>
<line x1="44.3" y1="270.7" x2="50.5" y2="270.7"/>
<line x1="44.3" y1="668.1" x2="50.5" y2="668.1"/>
<line x1="44.3" y1="225.6" x2="50.5" y2="225.6"/>
<line x1="44.3" y1="623.0" x2="50.5" y2="623.0"/>
<line x1="44.3" y1="180.5" x2="50.5" y2="180.5"/>
<line x1="44.3" y1="578.0" x2="50.5" y2="578.0"/>
<line x1="44.3" y1="135.4" x2="50.5" y2="135.4"/>
<line x1="44.3" y1="532.9" x2="50.5" y2="532.9"/>
<line x1="44.3" y1="90.3" x2="50.5" y2="90.3"/>
<line x1="44.3" y1="487.9" x2="50.5" y2="487.9"/>
<line x1="44.3" y1="45.2" x2="50.5" y2="45.2"/>
<line x1="44.3" y1="442.8" x2="50.5" y2="442.8"/>
<line x1="109.7" y1="327.2" x2="109.7" y2="333.5"/>
<line x1="294.3" y1="327.2" x2="294.3" y2="333.5"/>
<line x1="478.9" y1="327.2" x2="478.9" y2="333.5"/>
<line x1="72.6" y1="724.9" x2="72.6" y2="731.2"/>
<line x1="151.7" y1="724.9" x2="151.7" y2="731.2"/>
<line x1="230.9" y1="724.9" x2="230.9" y2="731.2"/>
<line x1="310.0" y1="724.9" x2="310.0" y2="731.2"/>
<line x1="389.2" y1="724.9" x2="389.2" y2="731.2"/>
<line x1="468.3" y1="724.9" x2="468.3" y2="731.2"/>
<line x1="547.4" y1="724.9" x2="547.4" y2="731.2"/>
<line x1="626.6" y1="724.9" x2="626.6" y2="731.2"/>
</g>
<g font-family="Liberation Sans, sans-serif" fill="#111">
<text transform="translate(36.4,315.8) rotate(-90)" text-anchor="middle" font-size="15">0</text>
<text transform="translate(36.4,713.1) rotate(-90)" text-anchor="middle" font-size="15">0</text>
<text transform="translate(36.4,270.7) rotate(-90)" text-anchor="middle" font-size="15">100</text>
<text transform="translate(36.4,668.1) rotate(-90)" text-anchor="middle" font-size="15">100</text>
<text transform="translate(36.4,225.6) rotate(-90)" text-anchor="middle" font-size="15">200</text>
<text transform="translate(36.4,623.0) rotate(-90)" text-anchor="middle" font-size="15">200</text>
<text transform="translate(36.4,180.5) rotate(-90)" text-anchor="middle" font-size="15">300</text>
<text transform="translate(36.4,578.0) rotate(-90)" text-anchor="middle" font-size="15">300</text>
<text transform="translate(36.4,135.4) rotate(-90)" text-anchor="middle" font-size="15">400</text>
<text transform="translate(36.4,532.9) rotate(-90)" text-anchor="middle" font-size="15">400</text>
<text transform="translate(36.4,90.3) rotate(-90)" text-anchor="middle" font-size="15">500</text>
<text transform="translate(36.4,487.9) rotate(-90)" text-anchor="middle" font-size="15">500</text>
<text transform="translate(36.4,45.2) rotate(-90)" text-anchor="middle" font-size="15">600</text>
<text transform="translate(36.4,442.8) rotate(-90)" text-anchor="middle" font-size="15">600</text>
<text x="109.7" y="349.7" text-anchor="middle" font-size="14.8">1000</text>
<text x="294.3" y="349.7" text-anchor="middle" font-size="14.8">1500</text>
<text x="478.9" y="349.7" text-anchor="middle" font-size="14.8">2000</text>
<text x="72.6" y="747.5" text-anchor="middle" font-size="14.8">1000</text>
<text x="151.7" y="747.5" text-anchor="middle" font-size="14.8">1200</text>
<text x="230.9" y="747.5" text-anchor="middle" font-size="14.8">1400</text>
<text x="310.0" y="747.5" text-anchor="middle" font-size="14.8">1600</text>
<text x="389.2" y="747.5" text-anchor="middle" font-size="14.8">1800</text>
<text x="468.3" y="747.5" text-anchor="middle" font-size="14.8">2000</text>
<text x="547.4" y="747.5" text-anchor="middle" font-size="14.8">2200</text>
<text x="626.6" y="747.5" text-anchor="middle" font-size="14.8">2400</text>
<text x="282.2" y="374.1" font-size="15.1">Axis 1: Distance (m)</text>
<text x="282.2" y="771.5" font-size="15.1">Axis 1: Distance (m)</text>
<text transform="translate(12,219.7) rotate(-90)" font-size="15.2">Altitude m a.s.l.</text>
<text transform="translate(12,618.6) rotate(-90)" font-size="15.2">Altitude m a.s.l.</text>
<text transform="translate(8.6,17.9) scale(0.9,1)" font-size="23" stroke="#111" stroke-width="0.45">(a)</text>
<text transform="translate(8.6,414.7) scale(0.93,1)" font-size="23.5" stroke="#111" stroke-width="0.45">(b)</text>
<text x="560.3" y="34.0" font-size="13.2">SW</text>
<text x="603.0" y="34.0" font-size="13.2">NE</text>
<path d="M587.9,25.9 L585.4,29.4 L587.9,32.9 M585.4,29.4 H599.1999999999999 M596.6999999999999,25.9 L599.1999999999999,29.4 L596.6999999999999,32.9" fill="none" stroke="#111" stroke-width="1.3"/>
<text x="552.4" y="431.8" font-size="13.2">SW</text>
<text x="595.1" y="431.8" font-size="13.2">NE</text>
<path d="M580.0,423.7 L577.5,427.2 L580.0,430.7 M577.5,427.2 H591.3 M588.8,423.7 L591.3,427.2 L588.8,430.7" fill="none" stroke="#111" stroke-width="1.3"/>
<text x="550.8" y="262" font-size="11.4">Pot. temp. (K)</text>
<text x="548.8" y="659.4" font-size="11.5">Pot. temp. (K)</text>
</g>
<g font-family="Liberation Sans, sans-serif" fill="#909090" font-size="15.7">
<text x="58.5" y="56.9">Max. elevation of Zeppelinfjellet (556 m a.s.l.)</text>
<text x="58.3" y="426.8">Max. elevation of Zeppelinfjellet (556 m a.s.l.)</text>
</g>
<rect x="578.2" y="97.9" width="14.0" height="128.9" fill="url(#gcb)" stroke="#333" stroke-width="1"/><line x1="592.2" y1="104.5" x2="598.2" y2="104.5" stroke="#333" stroke-width="1.2"/><text x="604.2" y="108.1" font-family="Liberation Sans, sans-serif" font-size="10" fill="#111">275.5</text><line x1="592.2" y1="134.8" x2="598.2" y2="134.8" stroke="#333" stroke-width="1.2"/><text x="604.2" y="138.4" font-family="Liberation Sans, sans-serif" font-size="10" fill="#111">275.0</text><line x1="592.2" y1="166" x2="598.2" y2="166" stroke="#333" stroke-width="1.2"/><text x="604.2" y="169.6" font-family="Liberation Sans, sans-serif" font-size="10" fill="#111">274.5</text><line x1="592.2" y1="196.1" x2="598.2" y2="196.1" stroke="#333" stroke-width="1.2"/><text x="604.2" y="199.7" font-family="Liberation Sans, sans-serif" font-size="10" fill="#111">274.0</text><line x1="592.2" y1="226.8" x2="598.2" y2="226.8" stroke="#333" stroke-width="1.2"/><text x="604.2" y="230.4" font-family="Liberation Sans, sans-serif" font-size="10" fill="#111">273.5</text>
<rect x="577.3" y="495.7" width="13.600000000000023" height="128.3" fill="url(#gcb)" stroke="#333" stroke-width="1"/><line x1="590.9" y1="502.2" x2="596.9" y2="502.2" stroke="#333" stroke-width="1.2"/><text x="602.9" y="505.8" font-family="Liberation Sans, sans-serif" font-size="10" fill="#111">275.5</text><line x1="590.9" y1="532.6" x2="596.9" y2="532.6" stroke="#333" stroke-width="1.2"/><text x="602.9" y="536.2" font-family="Liberation Sans, sans-serif" font-size="10" fill="#111">275.0</text><line x1="590.9" y1="563.3" x2="596.9" y2="563.3" stroke="#333" stroke-width="1.2"/><text x="602.9" y="566.9" font-family="Liberation Sans, sans-serif" font-size="10" fill="#111">274.5</text><line x1="590.9" y1="594" x2="596.9" y2="594" stroke="#333" stroke-width="1.2"/><text x="602.9" y="597.6" font-family="Liberation Sans, sans-serif" font-size="10" fill="#111">274.0</text><line x1="590.9" y1="624" x2="596.9" y2="624" stroke="#333" stroke-width="1.2"/><text x="602.9" y="627.6" font-family="Liberation Sans, sans-serif" font-size="10" fill="#111">273.5</text>
</svg></body></html>
